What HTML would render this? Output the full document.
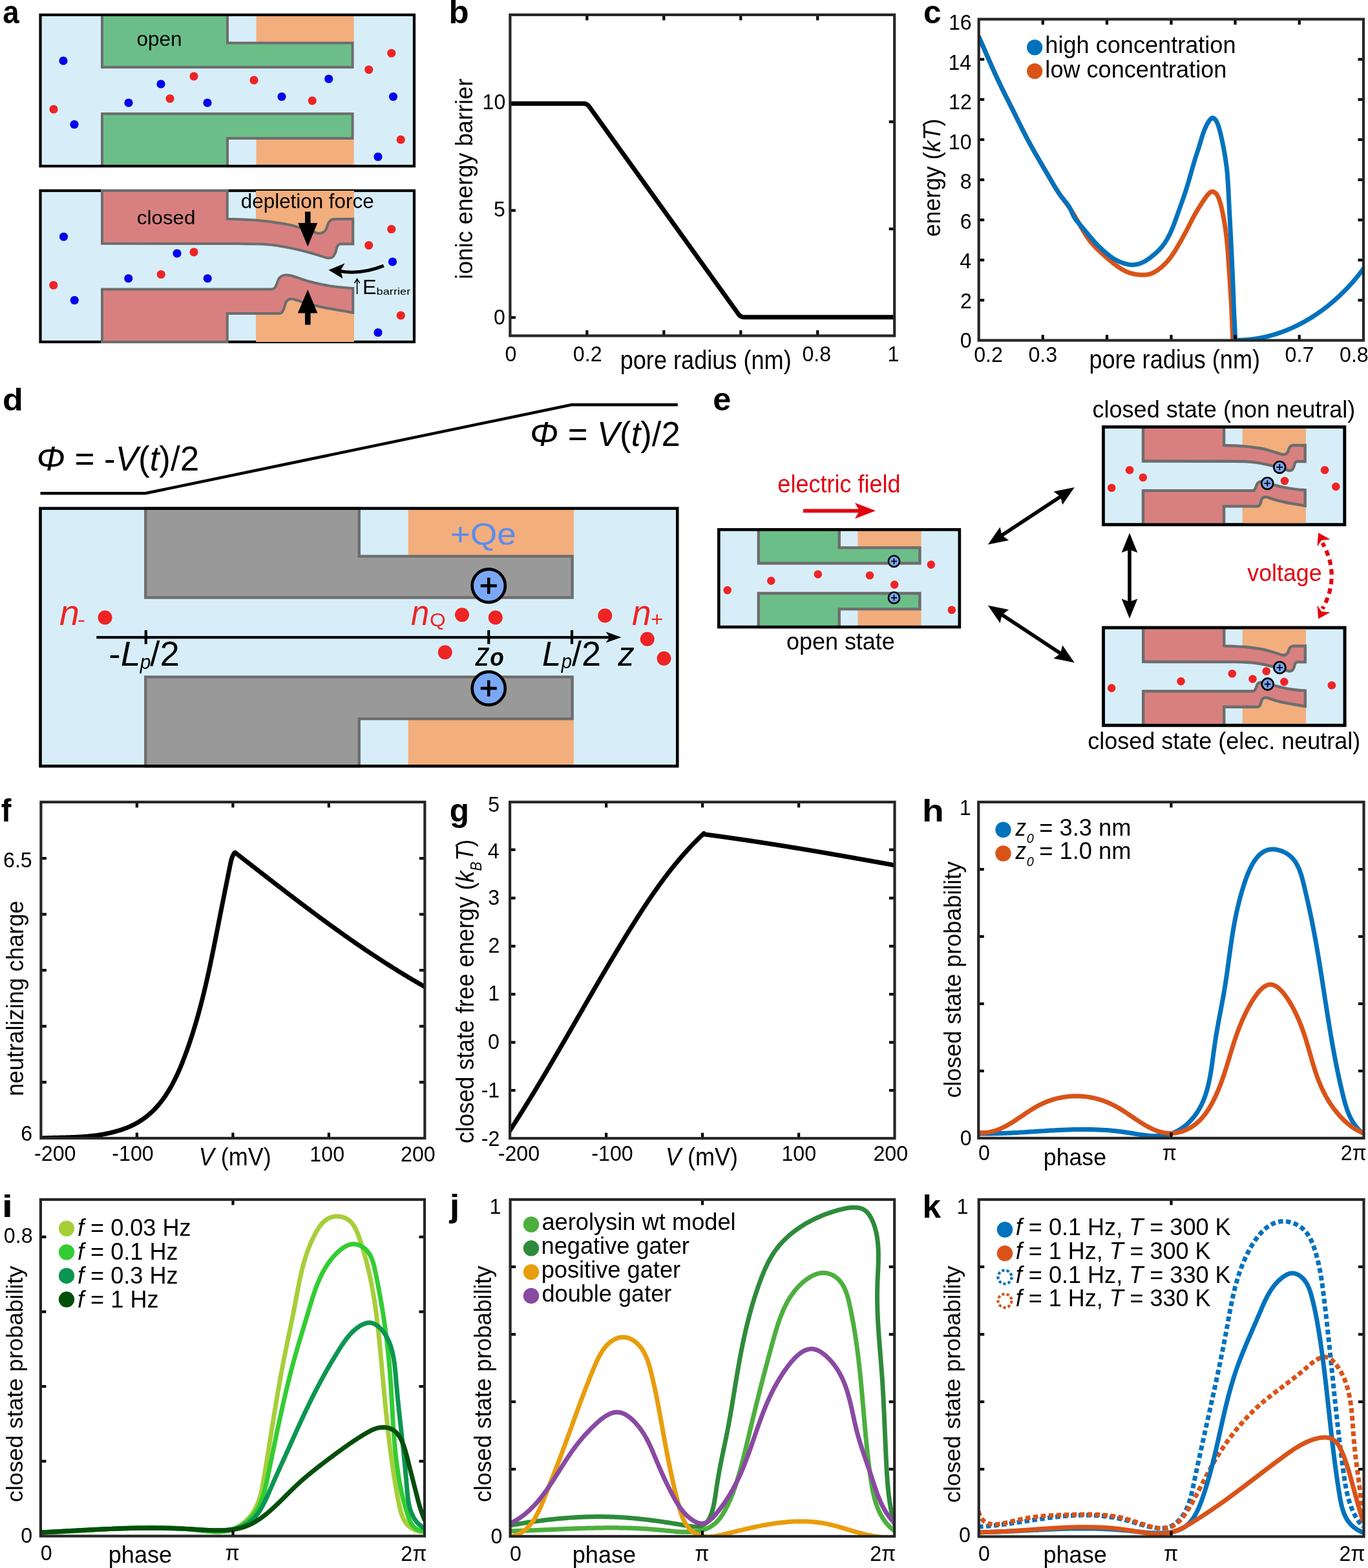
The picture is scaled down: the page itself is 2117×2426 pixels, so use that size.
<!DOCTYPE html>
<html><head><meta charset="utf-8"><title>Figure</title>
<style>html,body{margin:0;padding:0;background:#fff;}body{width:2117px;height:2426px;overflow:hidden;}svg{display:block;} text{font-kerning:none;}</style>
</head><body>
<svg xmlns="http://www.w3.org/2000/svg" width="2117" height="2426" viewBox="0 0 2117 2426" font-family="'Liberation Sans', Arial, Helvetica, sans-serif">
<rect width="2117" height="2426" fill="#fff"/>
<rect x="62.5" y="23" width="578.5" height="234" fill="#D7EEF8"/>
<rect x="396.5" y="23" width="151.1" height="43.5" fill="#F2AE7D"/>
<rect x="396.5" y="214" width="151.1" height="43" fill="#F2AE7D"/>
<path d="M158,23 L352,23 L352,66.5 L545.6,66.5 L545.6,104 L158,104 Z" fill="#6CBE89" stroke="#6D6D6D" stroke-width="4" stroke-linejoin="miter"/>
<path d="M158,257 L158,176 L545.6,176 L545.6,214 L352,214 L352,257 Z" fill="#6CBE89" stroke="#6D6D6D" stroke-width="4" stroke-linejoin="miter"/>
<rect x="62.5" y="23" width="578.5" height="234" fill="none" stroke="#000" stroke-width="4.2"/>
<circle cx="98" cy="94" r="6.6" fill="#0000EE" />
<circle cx="83" cy="169" r="6.6" fill="#EE2424" />
<circle cx="115" cy="192.5" r="6.6" fill="#0000EE" />
<circle cx="199" cy="159" r="6.6" fill="#0000EE" />
<circle cx="249" cy="130" r="6.6" fill="#0000EE" />
<circle cx="300" cy="118" r="6.6" fill="#EE2424" />
<circle cx="263" cy="152.5" r="6.6" fill="#EE2424" />
<circle cx="321" cy="159" r="6.6" fill="#0000EE" />
<circle cx="393" cy="124" r="6.6" fill="#EE2424" />
<circle cx="436" cy="149.5" r="6.6" fill="#0000EE" />
<circle cx="605.75" cy="82.25" r="6.6" fill="#EE2424" />
<circle cx="570.75" cy="107.75" r="6.6" fill="#EE2424" />
<circle cx="508.75" cy="122" r="6.6" fill="#0000EE" />
<circle cx="483.25" cy="155.75" r="6.6" fill="#EE2424" />
<circle cx="608.5" cy="149.5" r="6.6" fill="#0000EE" />
<circle cx="620.25" cy="216" r="6.6" fill="#EE2424" />
<circle cx="585" cy="242.5" r="6.6" fill="#0000EE" />
<rect x="62.5" y="295" width="578.5" height="234" fill="#D7EEF8" stroke="#000" stroke-width="4.2"/>
<rect x="396" y="295" width="152" height="77" fill="#F2AE7D"/>
<rect x="396" y="455" width="152" height="74" fill="#F2AE7D"/>
<path d="M158,295 L351.75,295 L351.75,338.75 C359.79,339.12 385.29,339.75 400,341 C414.71,342.25 429.17,344.33 440,346.25 C450.83,348.17 457.5,350.42 465,352.5 C472.5,354.58 480.33,357.33 485,358.75 C489.67,360.17 490.5,360.88 493,361 C495.5,361.12 498,360.67 500,359.5 C502,358.33 503.58,356.5 505,354 C506.42,351.5 507,346.9 508.5,344.5 C510,342.1 512.08,340.53 514,339.6 C515.92,338.67 519,339.02 520,338.9 L546.25,338.75 L546.25,377.5 L526.25,377.5 C525.59,378 523.51,378.25 522.3,380.5 C521.09,382.75 520.22,388.17 519,391 C517.78,393.83 516.92,396.12 515,397.5 C513.08,398.88 510,399.35 507.5,399.3 C505,399.25 505.42,398.78 500,397.2 C494.58,395.62 483.33,392.02 475,389.8 C466.67,387.58 458.33,385.6 450,383.9 C441.67,382.2 433.33,380.65 425,379.6 C416.67,378.55 409.17,378.02 400,377.6 C390.83,377.18 375,377.18 370,377.1 L158,376.8 Z" fill="#D88080" stroke="#6D6D6D" stroke-width="4" stroke-linejoin="miter"/>
<path d="M158,529 L158,447.5 L415,447.5 C416.5,447.33 421.83,447.75 424,446.5 C426.17,445.25 426.75,442.58 428,440 C429.25,437.42 430.17,433.17 431.5,431 C432.83,428.83 434.17,427.9 436,427 C437.83,426.1 439.75,425.6 442.5,425.6 C445.25,425.6 447.08,425.52 452.5,427 C457.92,428.48 467.08,432.25 475,434.5 C482.92,436.75 491.67,438.87 500,440.5 C508.33,442.13 517.29,443.4 525,444.3 C532.71,445.2 542.71,445.63 546.25,445.9 L546.25,483.75 C542.71,483.12 532.71,481.38 525,480 C517.29,478.62 508.33,477.25 500,475.5 C491.67,473.75 481.67,471.3 475,469.5 C468.33,467.7 463.75,465.85 460,464.7 C456.25,463.55 454.75,462.78 452.5,462.6 C450.25,462.42 448.17,462.78 446.5,463.6 C444.83,464.42 443.67,465.27 442.5,467.5 C441.33,469.73 440.58,474.32 439.5,477 C438.42,479.68 437.58,482.27 436,483.6 C434.42,484.93 432.67,484.77 430,485 C427.33,485.23 421.67,485 420,485 L351.75,485 L351.75,529 Z" fill="#D88080" stroke="#6D6D6D" stroke-width="4" stroke-linejoin="miter"/>
<circle cx="98.5" cy="366.25" r="6.6" fill="#0000EE" />
<circle cx="82.75" cy="441.25" r="6.6" fill="#EE2424" />
<circle cx="115.25" cy="464.5" r="6.6" fill="#0000EE" />
<circle cx="198.75" cy="430.75" r="6.6" fill="#0000EE" />
<circle cx="249.25" cy="424.5" r="6.6" fill="#EE2424" />
<circle cx="274" cy="392" r="6.6" fill="#0000EE" />
<circle cx="300" cy="390" r="6.6" fill="#EE2424" />
<circle cx="321.25" cy="430.75" r="6.6" fill="#0000EE" />
<circle cx="605.75" cy="354.5" r="6.6" fill="#EE2424" />
<circle cx="570.75" cy="379.5" r="6.6" fill="#EE2424" />
<circle cx="607.5" cy="405" r="6.6" fill="#0000EE" />
<circle cx="620.25" cy="488" r="6.6" fill="#EE2424" />
<circle cx="585" cy="514.5" r="6.6" fill="#0000EE" />
<rect x="472" y="327.5" width="8.6" height="20" fill="#000"/>
<polygon points="461.2,345 491.3,345 476.25,381.5" fill="#000"/>
<rect x="472" y="482" width="8.6" height="20.5" fill="#000"/>
<polygon points="460.8,484.5 491.3,484.5 476.25,448" fill="#000"/>
<path d="M593.8,411.2 Q556,426 524,419" fill="none" stroke="#000" stroke-width="5.2" />
<polygon points="508.5,417.8 533.5,407.5 527,418.6 530.5,431" fill="#000"/>
<line x1="552.6" y1="455" x2="552.6" y2="433" stroke="#000" stroke-width="1.6" />
<path d="M548.6,438 L552.6,431.5 L556.6,438" fill="none" stroke="#000" stroke-width="1.6" />
<path d="M62.5,763.3 L225,763.3 L884.3,626.3 L1048.8,626.3" fill="none" stroke="#000" stroke-width="4.5" stroke-linejoin="miter"/>
<rect x="62.5" y="786.6" width="985.76" height="398.74" fill="#D7EEF8"/>
<rect x="631.64" y="786.6" width="256.22" height="74.12" fill="#F2AE7D"/>
<rect x="631.64" y="1112.06" width="256.22" height="73.27" fill="#F2AE7D"/>
<path d="M225.23,786.6 L555.81,786.6 L555.81,860.72 L885.7,860.72 L885.7,924.62 L225.23,924.62 Z" fill="#999999" stroke="#6D6D6D" stroke-width="4.3" stroke-linejoin="miter"/>
<path d="M225.23,1185.34 L225.23,1047.31 L885.7,1047.31 L885.7,1112.06 L555.81,1112.06 L555.81,1185.34 Z" fill="#999999" stroke="#6D6D6D" stroke-width="4.3" stroke-linejoin="miter"/>
<rect x="62.5" y="786.6" width="985.76" height="398.74" fill="none" stroke="#000" stroke-width="4.6"/>
<line x1="149.25" y1="986.1" x2="946" y2="986.1" stroke="#000" stroke-width="4.2" />
<polygon points="961.5,986.1 937.5,977.6 943.5,986.1 937.5,994.6" fill="#000"/>
<line x1="225.75" y1="975" x2="225.75" y2="996.5" stroke="#000" stroke-width="4.2" />
<line x1="756.25" y1="975" x2="756.25" y2="996.5" stroke="#000" stroke-width="4.2" />
<line x1="885" y1="975" x2="885" y2="996.5" stroke="#000" stroke-width="4.2" />
<circle cx="756.25" cy="906.25" r="25.6" fill="#7AA8F5" stroke="#000" stroke-width="4.6" />
<line x1="743.75" y1="906.25" x2="768.75" y2="906.25" stroke="#000" stroke-width="4.6" />
<line x1="756.25" y1="893.75" x2="756.25" y2="918.75" stroke="#000" stroke-width="4.6" />
<circle cx="756.25" cy="1065" r="25.6" fill="#7AA8F5" stroke="#000" stroke-width="4.6" />
<line x1="743.75" y1="1065" x2="768.75" y2="1065" stroke="#000" stroke-width="4.6" />
<line x1="756.25" y1="1052.5" x2="756.25" y2="1077.5" stroke="#000" stroke-width="4.6" />
<circle cx="162.5" cy="955.5" r="11" fill="#EE2424" />
<circle cx="715" cy="951.25" r="11" fill="#EE2424" />
<circle cx="766.75" cy="955.5" r="11" fill="#EE2424" />
<circle cx="688.75" cy="1009.25" r="11" fill="#EE2424" />
<circle cx="936.25" cy="952.5" r="11" fill="#EE2424" />
<circle cx="1001.75" cy="988.75" r="11" fill="#EE2424" />
<circle cx="1027.5" cy="1018.75" r="11" fill="#EE2424" />
<rect x="1112.3" y="819.4" width="372.55" height="150.7" fill="#D7EEF8"/>
<rect x="1327.4" y="819.4" width="98.22" height="28.01" fill="#F2AE7D"/>
<rect x="1327.4" y="942.4" width="98.22" height="27.69" fill="#F2AE7D"/>
<path d="M1173.8,819.4 L1298.74,819.4 L1298.74,847.41 L1423.42,847.41 L1423.42,871.56 L1173.8,871.56 Z" fill="#6CBE89" stroke="#6D6D6D" stroke-width="4.4" stroke-linejoin="miter"/>
<path d="M1173.8,970.1 L1173.8,917.93 L1423.42,917.93 L1423.42,942.4 L1298.74,942.4 L1298.74,970.1 Z" fill="#6CBE89" stroke="#6D6D6D" stroke-width="4.4" stroke-linejoin="miter"/>
<rect x="1112.3" y="819.4" width="372.55" height="150.7" fill="none" stroke="#000" stroke-width="4.6"/>
<circle cx="1383.5" cy="868.4" r="8.6" fill="#7AA8F5" stroke="#000" stroke-width="2.6" />
<line x1="1378.9" y1="868.4" x2="1388.1" y2="868.4" stroke="#000" stroke-width="1.8" />
<line x1="1383.5" y1="863.8" x2="1383.5" y2="873" stroke="#000" stroke-width="1.8" />
<circle cx="1383.5" cy="924.9" r="8.6" fill="#7AA8F5" stroke="#000" stroke-width="2.6" />
<line x1="1378.9" y1="924.9" x2="1388.1" y2="924.9" stroke="#000" stroke-width="1.8" />
<line x1="1383.5" y1="920.3" x2="1383.5" y2="929.5" stroke="#000" stroke-width="1.8" />
<circle cx="1125.7" cy="913.1" r="6.3" fill="#EE2424" />
<circle cx="1193.3" cy="898.6" r="6.3" fill="#EE2424" />
<circle cx="1265.8" cy="888.5" r="6.3" fill="#EE2424" />
<circle cx="1346" cy="890.3" r="6.3" fill="#EE2424" />
<circle cx="1384.2" cy="904.6" r="6.3" fill="#EE2424" />
<circle cx="1440.8" cy="873.6" r="6.3" fill="#EE2424" />
<circle cx="1472.8" cy="943.7" r="6.3" fill="#EE2424" />
<line x1="1242.9" y1="790.3" x2="1332" y2="790.3" stroke="#E3000F" stroke-width="5.8" />
<polygon points="1355,790.3 1323,778 1330,790.3 1323,802.6" fill="#E3000F"/>
<rect x="1707.3" y="660.7" width="373.54" height="151.09" fill="#D7EEF8" stroke="#000" stroke-width="4.6"/>
<rect x="1922.64" y="660.7" width="98.15" height="49.72" fill="#F2AE7D"/>
<rect x="1922.64" y="764.01" width="98.15" height="47.78" fill="#F2AE7D"/>
<path d="M1768.96,660.7 L1894.07,660.7 L1894.07,688.95 C1899.26,689.19 1915.73,689.6 1925.22,690.4 C1934.72,691.21 1944.06,692.55 1951.05,693.79 C1958.05,695.03 1962.35,696.48 1967.19,697.83 C1972.04,699.17 1977.09,700.95 1980.11,701.86 C1983.12,702.78 1983.66,703.24 1985.27,703.32 C1986.89,703.4 1988.5,703.1 1989.79,702.35 C1991.09,701.59 1992.11,700.41 1993.02,698.8 C1993.94,697.18 1994.31,694.21 1995.28,692.66 C1996.25,691.11 1997.6,690.1 1998.83,689.5 C2000.07,688.9 2002.06,689.12 2002.71,689.05 L2019.66,688.95 L2019.66,713.97 L2006.74,713.97 C2006.32,714.29 2004.97,714.45 2004.19,715.91 C2003.41,717.36 2002.85,720.86 2002.06,722.69 C2001.28,724.52 2000.72,725.99 1999.48,726.88 C1998.24,727.78 1996.25,728.08 1994.64,728.05 C1993.02,728.01 1993.29,727.71 1989.79,726.69 C1986.3,725.67 1979.03,723.34 1973.65,721.91 C1968.27,720.48 1962.89,719.2 1957.51,718.1 C1952.13,717.01 1946.75,716 1941.37,715.33 C1935.99,714.65 1931.14,714.3 1925.22,714.03 C1919.3,713.77 1909.08,713.77 1905.85,713.71 L1768.96,713.52 Z" fill="#D88080" stroke="#6D6D6D" stroke-width="4.4" stroke-linejoin="miter"/>
<path d="M1768.96,811.79 L1768.96,759.17 L1934.91,759.17 C1935.88,759.06 1939.32,759.33 1940.72,758.52 C1942.12,757.72 1942.5,755.99 1943.3,754.33 C1944.11,752.66 1944.7,749.91 1945.56,748.52 C1946.42,747.12 1947.29,746.51 1948.47,745.93 C1949.65,745.35 1950.89,745.03 1952.67,745.03 C1954.44,745.03 1955.63,744.97 1959.12,745.93 C1962.62,746.89 1968.54,749.32 1973.65,750.78 C1978.76,752.23 1984.41,753.59 1989.79,754.65 C1995.17,755.7 2000.96,756.52 2005.94,757.1 C2010.91,757.68 2017.37,757.96 2019.66,758.14 L2019.66,782.58 C2017.37,782.17 2010.91,781.04 2005.94,780.15 C2000.96,779.27 1995.17,778.38 1989.79,777.25 C1984.41,776.12 1977.96,774.54 1973.65,773.37 C1969.35,772.21 1966.39,771.02 1963.97,770.28 C1961.54,769.53 1960.58,769.04 1959.12,768.92 C1957.67,768.8 1956.32,769.04 1955.25,769.57 C1954.17,770.09 1953.42,770.64 1952.67,772.08 C1951.91,773.53 1951.43,776.48 1950.73,778.22 C1950.03,779.95 1949.49,781.62 1948.47,782.48 C1947.45,783.34 1946.32,783.23 1944.59,783.38 C1942.87,783.53 1939.21,783.38 1938.14,783.38 L1894.07,783.38 L1894.07,811.79 Z" fill="#D88080" stroke="#6D6D6D" stroke-width="4.4" stroke-linejoin="miter"/>
<rect x="1707.3" y="660.7" width="373.54" height="151.09" fill="none" stroke="#000" stroke-width="4.6"/>
<circle cx="1980.2" cy="722.8" r="9" fill="#7AA8F5" stroke="#000" stroke-width="2.8" />
<line x1="1975.4" y1="722.8" x2="1985" y2="722.8" stroke="#000" stroke-width="1.9" />
<line x1="1980.2" y1="718" x2="1980.2" y2="727.6" stroke="#000" stroke-width="1.9" />
<circle cx="1961.25" cy="747.8" r="9" fill="#7AA8F5" stroke="#000" stroke-width="2.8" />
<line x1="1956.45" y1="747.8" x2="1966.05" y2="747.8" stroke="#000" stroke-width="1.9" />
<line x1="1961.25" y1="743" x2="1961.25" y2="752.6" stroke="#000" stroke-width="1.9" />
<circle cx="1748.1" cy="727.2" r="6.3" fill="#EE2424" />
<circle cx="1768.8" cy="738.8" r="6.3" fill="#EE2424" />
<circle cx="1720.2" cy="754.7" r="6.3" fill="#EE2424" />
<circle cx="1988" cy="744" r="6.3" fill="#EE2424" />
<circle cx="2050.1" cy="727.2" r="6.3" fill="#EE2424" />
<circle cx="2067.3" cy="752.9" r="6.3" fill="#EE2424" />
<rect x="1707.5" y="971.1" width="373.54" height="151.09" fill="#D7EEF8" stroke="#000" stroke-width="4.6"/>
<rect x="1922.84" y="971.1" width="98.15" height="49.72" fill="#F2AE7D"/>
<rect x="1922.84" y="1074.41" width="98.15" height="47.78" fill="#F2AE7D"/>
<path d="M1769.16,971.1 L1894.27,971.1 L1894.27,999.35 C1899.46,999.59 1915.93,1000 1925.42,1000.8 C1934.92,1001.61 1944.26,1002.95 1951.25,1004.19 C1958.25,1005.43 1962.55,1006.88 1967.39,1008.23 C1972.24,1009.57 1977.29,1011.35 1980.31,1012.26 C1983.32,1013.18 1983.86,1013.64 1985.47,1013.72 C1987.09,1013.8 1988.7,1013.5 1989.99,1012.75 C1991.29,1011.99 1992.31,1010.81 1993.22,1009.2 C1994.14,1007.58 1994.51,1004.61 1995.48,1003.06 C1996.45,1001.51 1997.8,1000.5 1999.03,999.9 C2000.27,999.3 2002.26,999.52 2002.91,999.45 L2019.86,999.35 L2019.86,1024.37 L2006.94,1024.37 C2006.52,1024.69 2005.17,1024.85 2004.39,1026.31 C2003.61,1027.76 2003.05,1031.26 2002.26,1033.09 C2001.48,1034.92 2000.92,1036.39 1999.68,1037.28 C1998.44,1038.18 1996.45,1038.48 1994.84,1038.45 C1993.22,1038.41 1993.49,1038.11 1989.99,1037.09 C1986.5,1036.07 1979.23,1033.74 1973.85,1032.31 C1968.47,1030.88 1963.09,1029.6 1957.71,1028.5 C1952.33,1027.41 1946.95,1026.4 1941.57,1025.73 C1936.19,1025.05 1931.34,1024.7 1925.42,1024.43 C1919.5,1024.17 1909.28,1024.17 1906.05,1024.11 L1769.16,1023.92 Z" fill="#D88080" stroke="#6D6D6D" stroke-width="4.4" stroke-linejoin="miter"/>
<path d="M1769.16,1122.19 L1769.16,1069.57 L1935.11,1069.57 C1936.08,1069.46 1939.52,1069.73 1940.92,1068.92 C1942.32,1068.12 1942.7,1066.39 1943.5,1064.73 C1944.31,1063.06 1944.9,1060.31 1945.76,1058.92 C1946.62,1057.52 1947.49,1056.91 1948.67,1056.33 C1949.85,1055.75 1951.09,1055.43 1952.87,1055.43 C1954.64,1055.43 1955.83,1055.37 1959.32,1056.33 C1962.82,1057.29 1968.74,1059.72 1973.85,1061.18 C1978.96,1062.63 1984.61,1063.99 1989.99,1065.05 C1995.37,1066.1 2001.16,1066.92 2006.14,1067.5 C2011.11,1068.08 2017.57,1068.36 2019.86,1068.54 L2019.86,1092.98 C2017.57,1092.57 2011.11,1091.44 2006.14,1090.55 C2001.16,1089.67 1995.37,1088.78 1989.99,1087.65 C1984.61,1086.52 1978.16,1084.94 1973.85,1083.77 C1969.55,1082.61 1966.59,1081.42 1964.17,1080.68 C1961.74,1079.93 1960.78,1079.44 1959.32,1079.32 C1957.87,1079.2 1956.52,1079.44 1955.45,1079.97 C1954.37,1080.49 1953.62,1081.04 1952.87,1082.48 C1952.11,1083.93 1951.63,1086.88 1950.93,1088.62 C1950.23,1090.35 1949.69,1092.02 1948.67,1092.88 C1947.65,1093.74 1946.52,1093.63 1944.79,1093.78 C1943.07,1093.93 1939.41,1093.78 1938.34,1093.78 L1894.27,1093.78 L1894.27,1122.19 Z" fill="#D88080" stroke="#6D6D6D" stroke-width="4.4" stroke-linejoin="miter"/>
<rect x="1707.5" y="971.1" width="373.54" height="151.09" fill="none" stroke="#000" stroke-width="4.6"/>
<circle cx="1980.4" cy="1032.9" r="9" fill="#7AA8F5" stroke="#000" stroke-width="2.8" />
<line x1="1975.6" y1="1032.9" x2="1985.2" y2="1032.9" stroke="#000" stroke-width="1.9" />
<line x1="1980.4" y1="1028.1" x2="1980.4" y2="1037.7" stroke="#000" stroke-width="1.9" />
<circle cx="1961.7" cy="1058.5" r="9" fill="#7AA8F5" stroke="#000" stroke-width="2.8" />
<line x1="1956.9" y1="1058.5" x2="1966.5" y2="1058.5" stroke="#000" stroke-width="1.9" />
<line x1="1961.7" y1="1053.7" x2="1961.7" y2="1063.3" stroke="#000" stroke-width="1.9" />
<circle cx="1720.2" cy="1064.6" r="6.3" fill="#EE2424" />
<circle cx="1827.5" cy="1054.1" r="6.3" fill="#EE2424" />
<circle cx="1906.8" cy="1042.2" r="6.3" fill="#EE2424" />
<circle cx="1938.5" cy="1050.5" r="6.3" fill="#EE2424" />
<circle cx="1959.7" cy="1038.5" r="6.3" fill="#EE2424" />
<circle cx="1987.3" cy="1054.9" r="6.3" fill="#EE2424" />
<circle cx="2060.9" cy="1060.2" r="6.3" fill="#EE2424" />
<line x1="1550.59" y1="828.16" x2="1641.11" y2="768.34" stroke="#000" stroke-width="5.6" />
<polygon points="1662.8,754 1644.14,781.08 1641.11,768.34 1630.57,760.56" fill="#000"/>
<polygon points="1528.9,842.5 1561.13,835.94 1550.59,828.16 1547.56,815.42" fill="#000"/>
<line x1="1550.59" y1="951.14" x2="1641.11" y2="1010.96" stroke="#000" stroke-width="5.6" />
<polygon points="1662.8,1025.3 1630.57,1018.74 1641.11,1010.96 1644.14,998.22" fill="#000"/>
<polygon points="1528.9,936.8 1547.56,963.88 1550.59,951.14 1561.13,943.36" fill="#000"/>
<line x1="1748" y1="850.4" x2="1748" y2="931" stroke="#000" stroke-width="5.6" />
<polygon points="1748,957 1735.7,926.5 1748,931 1760.3,926.5" fill="#000"/>
<polygon points="1748,824.4 1735.7,854.9 1748,850.4 1760.3,854.9" fill="#000"/>
<path d="M2046.5,840 Q2075,891 2046.5,942" fill="none" stroke="#E3000F" stroke-width="6.2" stroke-dasharray="8.5 6.5" stroke-dashoffset="2"/>
<polygon points="2040.1,824.3 2058.5,834.5 2045,836 2038.5,845.5" fill="#E3000F"/>
<polygon points="2040.1,957.5 2058.5,947.5 2045,946 2038.5,936.5" fill="#E3000F"/>
<clipPath id="cb"><rect x="789.4" y="22.9" width="594.8" height="496.6"/></clipPath>
<path d="M789.4,160.3 L903.5,160.3 Q908.5,160.3 911.5,164.5 L1143.5,487 Q1146.5,490.8 1151.5,490.8 L1384.2,490.8" fill="none" stroke="#000" stroke-width="7" stroke-linejoin="round" clip-path="url(#cb)"/>
<line x1="908.36" y1="22.9" x2="908.36" y2="31.4" stroke="#000" stroke-width="4.2" />
<line x1="908.36" y1="519.5" x2="908.36" y2="511" stroke="#000" stroke-width="4.2" />
<line x1="1027.32" y1="22.9" x2="1027.32" y2="31.4" stroke="#000" stroke-width="4.2" />
<line x1="1027.32" y1="519.5" x2="1027.32" y2="511" stroke="#000" stroke-width="4.2" />
<line x1="1146.28" y1="22.9" x2="1146.28" y2="31.4" stroke="#000" stroke-width="4.2" />
<line x1="1146.28" y1="519.5" x2="1146.28" y2="511" stroke="#000" stroke-width="4.2" />
<line x1="1265.24" y1="22.9" x2="1265.24" y2="31.4" stroke="#000" stroke-width="4.2" />
<line x1="1265.24" y1="519.5" x2="1265.24" y2="511" stroke="#000" stroke-width="4.2" />
<line x1="789.4" y1="160" x2="797.9" y2="160" stroke="#000" stroke-width="4.2" />
<line x1="789.4" y1="325.6" x2="797.9" y2="325.6" stroke="#000" stroke-width="4.2" />
<line x1="789.4" y1="491.25" x2="797.9" y2="491.25" stroke="#000" stroke-width="4.2" />
<line x1="1384.2" y1="188.4" x2="1375.7" y2="188.4" stroke="#000" stroke-width="4.2" />
<line x1="1384.2" y1="354.2" x2="1375.7" y2="354.2" stroke="#000" stroke-width="4.2" />
<rect x="789.4" y="22.9" width="594.8" height="496.6" fill="none" stroke="#262626" stroke-width="4.2"/>
<clipPath id="cc"><rect x="1514.7" y="29.7" width="595.3" height="496.9"/></clipPath>
<path d="M1514.70,57.00 L1515.59,58.99 L1516.48,60.99 L1517.37,62.99 L1518.26,64.98 L1519.14,66.98 L1520.02,68.98 L1520.90,70.98 L1521.78,72.98 L1522.66,74.98 L1523.54,76.99 L1524.42,78.99 L1525.29,80.99 L1526.17,82.99 L1527.05,85.00 L1527.92,87.00 L1528.80,89.00 L1529.68,91.00 L1530.56,93.00 L1531.43,95.01 L1532.32,97.01 L1533.20,99.01 L1534.08,101.01 L1534.97,103.00 L1535.86,105.00 L1536.75,107.00 L1537.64,108.99 L1538.54,110.99 L1539.44,112.98 L1540.34,114.97 L1541.25,116.96 L1542.16,118.94 L1543.07,120.93 L1543.99,122.91 L1544.92,124.89 L1545.84,126.87 L1546.78,128.85 L1547.72,130.82 L1548.66,132.79 L1549.61,134.76 L1550.56,136.73 L1551.52,138.69 L1552.49,140.65 L1553.45,142.61 L1554.42,144.57 L1555.40,146.52 L1556.38,148.48 L1557.36,150.43 L1558.34,152.39 L1559.32,154.34 L1560.30,156.29 L1561.29,158.24 L1562.27,160.19 L1563.26,162.14 L1564.24,164.10 L1565.22,166.05 L1566.20,168.00 L1567.18,169.96 L1568.16,171.91 L1569.13,173.87 L1570.10,175.83 L1571.07,177.79 L1572.04,179.75 L1573.00,181.71 L1573.97,183.67 L1574.93,185.63 L1575.90,187.60 L1576.86,189.56 L1577.83,191.52 L1578.80,193.48 L1579.77,195.43 L1580.75,197.39 L1581.72,199.34 L1582.71,201.30 L1583.69,203.25 L1584.69,205.19 L1585.68,207.14 L1586.69,209.08 L1587.70,211.01 L1588.72,212.95 L1589.74,214.88 L1590.77,216.81 L1591.81,218.73 L1592.85,220.65 L1593.90,222.57 L1594.96,224.48 L1596.02,226.39 L1597.08,228.30 L1598.15,230.21 L1599.22,232.11 L1600.30,234.02 L1601.38,235.92 L1602.46,237.82 L1603.55,239.71 L1604.64,241.61 L1605.73,243.50 L1606.82,245.40 L1607.91,247.29 L1609.01,249.18 L1610.11,251.07 L1611.20,252.96 L1612.30,254.85 L1613.40,256.74 L1614.50,258.62 L1615.61,260.51 L1616.71,262.40 L1617.82,264.28 L1618.92,266.17 L1620.03,268.05 L1621.14,269.93 L1622.25,271.82 L1623.36,273.70 L1624.48,275.58 L1625.59,277.46 L1626.71,279.34 L1627.82,281.22 L1628.94,283.10 L1630.07,284.98 L1631.19,286.85 L1632.33,288.72 L1633.48,290.58 L1634.63,292.44 L1635.80,294.29 L1636.97,296.13 L1638.17,297.96 L1639.38,299.78 L1640.60,301.59 L1641.85,303.38 L1643.11,305.17 L1644.39,306.94 L1645.69,308.70 L1646.99,310.46 L1648.29,312.21 L1649.60,313.97 L1650.90,315.72 L1652.19,317.49 L1653.47,319.26 L1654.73,321.04 L1655.97,322.84 L1657.19,324.65 L1658.39,326.47 L1659.56,328.31 L1660.72,330.16 L1661.86,332.02 L1662.99,333.89 L1664.11,335.77 L1665.21,337.65 L1666.31,339.54 L1667.40,341.44 L1668.49,343.34 L1669.57,345.24 L1670.65,347.15 L1671.73,349.06 L1672.81,350.96 L1673.90,352.87 L1674.99,354.77 L1676.09,356.67 L1677.20,358.56 L1678.33,360.44 L1679.48,362.30 L1680.65,364.15 L1681.84,365.98 L1683.07,367.79 L1684.32,369.58 L1685.61,371.34 L1686.93,373.07 L1688.29,374.77 L1689.69,376.44 L1691.13,378.09 L1692.60,379.71 L1694.09,381.30 L1695.61,382.88 L1697.15,384.43 L1698.72,385.97 L1700.30,387.49 L1701.89,389.00 L1703.50,390.49 L1705.11,391.97 L1706.73,393.45 L1708.36,394.91 L1709.98,396.37 L1711.62,397.82 L1713.26,399.26 L1714.91,400.69 L1716.57,402.11 L1718.24,403.51 L1719.93,404.90 L1721.63,406.27 L1723.35,407.63 L1725.08,408.96 L1726.84,410.28 L1728.62,411.58 L1730.42,412.85 L1732.24,414.09 L1734.09,415.29 L1735.97,416.44 L1737.87,417.54 L1739.80,418.59 L1741.75,419.56 L1743.73,420.47 L1745.75,421.30 L1747.79,422.04 L1749.87,422.70 L1751.97,423.27 L1754.10,423.76 L1756.25,424.18 L1758.42,424.53 L1760.60,424.81 L1762.80,425.02 L1765.01,425.18 L1767.23,425.27 L1769.45,425.28 L1771.66,425.21 L1773.85,425.03 L1776.01,424.73 L1778.14,424.30 L1780.23,423.73 L1782.28,423.01 L1784.28,422.15 L1786.23,421.17 L1788.14,420.08 L1790.00,418.89 L1791.83,417.63 L1793.61,416.31 L1795.36,414.94 L1797.06,413.53 L1798.73,412.09 L1800.36,410.61 L1801.95,409.10 L1803.50,407.56 L1805.01,405.99 L1806.48,404.38 L1807.91,402.74 L1809.29,401.06 L1810.64,399.35 L1811.95,397.61 L1813.23,395.84 L1814.48,394.04 L1815.69,392.23 L1816.89,390.39 L1818.06,388.54 L1819.21,386.67 L1820.34,384.79 L1821.46,382.91 L1822.57,381.02 L1823.68,379.12 L1824.78,377.23 L1825.87,375.33 L1826.95,373.43 L1828.03,371.52 L1829.10,369.62 L1830.16,367.71 L1831.21,365.79 L1832.26,363.88 L1833.30,361.96 L1834.33,360.03 L1835.35,358.11 L1836.37,356.17 L1837.37,354.24 L1838.37,352.30 L1839.36,350.36 L1840.36,348.42 L1841.35,346.47 L1842.34,344.53 L1843.34,342.59 L1844.35,340.65 L1845.36,338.71 L1846.39,336.78 L1847.43,334.85 L1848.48,332.93 L1849.55,331.01 L1850.64,329.10 L1851.75,327.20 L1852.88,325.31 L1854.02,323.42 L1855.18,321.55 L1856.35,319.69 L1857.52,317.84 L1858.71,316.00 L1859.90,314.17 L1861.09,312.36 L1862.29,310.56 L1863.48,308.78 L1864.68,307.01 L1865.90,305.26 L1867.19,303.52 L1868.58,301.79 L1870.11,300.08 L1871.79,298.45 L1873.64,297.16 L1875.63,296.51 L1877.75,296.75 L1879.81,297.72 L1881.59,299.14 L1883.00,300.84 L1884.13,302.71 L1885.08,304.69 L1885.94,306.70 L1886.71,308.75 L1887.42,310.82 L1888.07,312.90 L1888.68,315.00 L1889.24,317.11 L1889.78,319.23 L1890.29,321.36 L1890.77,323.49 L1891.25,325.63 L1891.71,327.76 L1892.16,329.90 L1892.60,332.04 L1893.02,334.19 L1893.44,336.33 L1893.84,338.48 L1894.22,340.63 L1894.60,342.78 L1894.96,344.94 L1895.31,347.10 L1895.65,349.26 L1895.97,351.42 L1896.29,353.58 L1896.59,355.75 L1896.88,357.92 L1897.16,360.08 L1897.43,362.25 L1897.69,364.42 L1897.94,366.60 L1898.18,368.77 L1898.41,370.94 L1898.63,373.12 L1898.84,375.29 L1899.05,377.47 L1899.24,379.64 L1899.43,381.82 L1899.62,384.00 L1899.80,386.18 L1899.97,388.36 L1900.14,390.54 L1900.30,392.72 L1900.46,394.90 L1900.62,397.08 L1900.77,399.26 L1900.93,401.44 L1901.08,403.62 L1901.23,405.80 L1901.38,407.98 L1901.52,410.16 L1901.67,412.34 L1901.82,414.52 L1901.96,416.70 L1902.11,418.88 L1902.25,421.06 L1902.40,423.25 L1902.54,425.43 L1902.68,427.61 L1902.83,429.79 L1902.97,431.97 L1903.11,434.15 L1903.25,436.33 L1903.39,438.51 L1903.53,440.69 L1903.67,442.87 L1903.80,445.06 L1903.94,447.24 L1904.08,449.42 L1904.21,451.60 L1904.35,453.78 L1904.48,455.96 L1904.61,458.14 L1904.74,460.33 L1904.87,462.51 L1904.99,464.69 L1905.12,466.87 L1905.24,469.05 L1905.36,471.24 L1905.47,473.42 L1905.58,475.60 L1905.69,477.78 L1905.80,479.97 L1905.90,482.15 L1906.00,484.33 L1906.09,486.52 L1906.19,488.70 L1906.28,490.89 L1906.37,493.07 L1906.46,495.25 L1906.55,497.44 L1906.64,499.62 L1906.72,501.80 L1906.81,503.99 L1906.91,506.17 L1907.00,508.36 L1907.10,510.54 L1907.19,512.72 L1907.30,514.91 L1907.40,517.09 L1907.51,519.27 L1907.62,521.45 L1907.74,523.64 L1907.87,525.82 L1908.00,528.00" fill="none" stroke="#D95319" stroke-width="7" stroke-linejoin="round" stroke-linecap="round" clip-path="url(#cc)"/>
<path d="M1514.70,57.00 L1515.78,59.41 L1516.86,61.83 L1517.93,64.25 L1519.00,66.67 L1520.07,69.09 L1521.14,71.51 L1522.20,73.94 L1523.27,76.36 L1524.33,78.79 L1525.39,81.21 L1526.45,83.64 L1527.51,86.06 L1528.58,88.49 L1529.64,90.91 L1530.70,93.34 L1531.77,95.76 L1532.84,98.19 L1533.91,100.61 L1534.98,103.03 L1536.06,105.45 L1537.14,107.86 L1538.22,110.28 L1539.31,112.69 L1540.40,115.10 L1541.50,117.51 L1542.61,119.91 L1543.72,122.32 L1544.84,124.72 L1545.96,127.11 L1547.09,129.51 L1548.23,131.90 L1549.38,134.28 L1550.53,136.66 L1551.69,139.04 L1552.86,141.41 L1554.04,143.79 L1555.21,146.16 L1556.40,148.52 L1557.58,150.89 L1558.77,153.26 L1559.96,155.62 L1561.16,157.98 L1562.35,160.35 L1563.54,162.71 L1564.73,165.08 L1565.92,167.44 L1567.11,169.81 L1568.29,172.18 L1569.47,174.55 L1570.64,176.92 L1571.81,179.29 L1572.98,181.67 L1574.15,184.04 L1575.32,186.42 L1576.49,188.79 L1577.66,191.17 L1578.84,193.54 L1580.02,195.91 L1581.20,198.28 L1582.39,200.64 L1583.58,203.01 L1584.78,205.36 L1585.99,207.72 L1587.21,210.07 L1588.43,212.42 L1589.67,214.76 L1590.92,217.09 L1592.17,219.42 L1593.43,221.75 L1594.71,224.07 L1595.99,226.39 L1597.28,228.70 L1598.57,231.01 L1599.87,233.31 L1601.18,235.62 L1602.49,237.91 L1603.81,240.21 L1605.14,242.50 L1606.46,244.79 L1607.80,247.08 L1609.13,249.36 L1610.47,251.65 L1611.81,253.93 L1613.16,256.21 L1614.50,258.49 L1615.85,260.77 L1617.19,263.05 L1618.53,265.33 L1619.88,267.61 L1621.22,269.89 L1622.55,272.18 L1623.89,274.46 L1625.22,276.75 L1626.54,279.05 L1627.86,281.35 L1629.18,283.64 L1630.50,285.94 L1631.84,288.23 L1633.20,290.50 L1634.58,292.76 L1635.99,295.00 L1637.43,297.22 L1638.93,299.41 L1640.47,301.56 L1642.06,303.68 L1643.72,305.76 L1645.41,307.82 L1647.11,309.87 L1648.80,311.93 L1650.45,314.01 L1652.03,316.12 L1653.53,318.29 L1654.91,320.53 L1656.16,322.85 L1657.29,325.24 L1658.36,327.67 L1659.42,330.11 L1660.52,332.52 L1661.71,334.88 L1663.04,337.15 L1664.51,339.34 L1666.08,341.47 L1667.74,343.54 L1669.46,345.57 L1671.21,347.58 L1672.96,349.59 L1674.69,351.61 L1676.41,353.64 L1678.10,355.67 L1679.78,357.71 L1681.46,359.76 L1683.14,361.80 L1684.82,363.84 L1686.52,365.86 L1688.23,367.88 L1689.96,369.89 L1691.71,371.87 L1693.48,373.84 L1695.27,375.79 L1697.09,377.72 L1698.93,379.62 L1700.80,381.50 L1702.69,383.34 L1704.62,385.16 L1706.56,386.95 L1708.54,388.72 L1710.54,390.45 L1712.57,392.16 L1714.63,393.83 L1716.72,395.48 L1718.84,397.07 L1721.01,398.61 L1723.21,400.07 L1725.47,401.44 L1727.79,402.72 L1730.16,403.89 L1732.58,404.95 L1735.04,405.93 L1737.55,406.81 L1740.09,407.61 L1742.66,408.32 L1745.26,408.93 L1747.87,409.38 L1750.50,409.65 L1753.14,409.69 L1755.78,409.50 L1758.41,409.10 L1761.01,408.52 L1763.57,407.77 L1766.09,406.89 L1768.54,405.86 L1770.92,404.70 L1773.23,403.41 L1775.46,401.99 L1777.61,400.46 L1779.72,398.85 L1781.80,397.20 L1783.86,395.53 L1785.91,393.83 L1787.93,392.11 L1789.91,390.35 L1791.84,388.54 L1793.72,386.68 L1795.53,384.76 L1797.27,382.77 L1798.94,380.71 L1800.54,378.60 L1802.07,376.44 L1803.55,374.22 L1804.96,371.97 L1806.31,369.68 L1807.60,367.35 L1808.84,365.00 L1810.04,362.63 L1811.18,360.23 L1812.28,357.82 L1813.34,355.40 L1814.36,352.95 L1815.36,350.50 L1816.32,348.04 L1817.26,345.56 L1818.18,343.08 L1819.09,340.59 L1819.98,338.10 L1820.87,335.60 L1821.75,333.10 L1822.63,330.60 L1823.51,328.10 L1824.40,325.60 L1825.29,323.11 L1826.17,320.61 L1827.06,318.12 L1827.95,315.62 L1828.83,313.13 L1829.71,310.63 L1830.58,308.13 L1831.44,305.63 L1832.30,303.12 L1833.14,300.62 L1833.98,298.11 L1834.80,295.59 L1835.61,293.07 L1836.41,290.55 L1837.19,288.02 L1837.96,285.49 L1838.71,282.96 L1839.46,280.42 L1840.20,277.88 L1840.93,275.34 L1841.65,272.79 L1842.37,270.24 L1843.10,267.70 L1843.82,265.15 L1844.54,262.60 L1845.27,260.06 L1846.00,257.51 L1846.74,254.97 L1847.48,252.43 L1848.24,249.89 L1849.01,247.36 L1849.80,244.82 L1850.60,242.30 L1851.41,239.77 L1852.23,237.25 L1853.05,234.74 L1853.88,232.22 L1854.69,229.70 L1855.50,227.18 L1856.30,224.66 L1857.08,222.13 L1857.84,219.61 L1858.57,217.07 L1859.31,214.54 L1860.06,212.01 L1860.85,209.47 L1861.69,206.94 L1862.59,204.41 L1863.55,201.91 L1864.56,199.44 L1865.62,197.03 L1866.71,194.69 L1867.84,192.42 L1869.08,190.18 L1870.51,187.90 L1872.20,185.53 L1874.18,183.36 L1876.37,182.31 L1878.64,183.08 L1880.74,185.09 L1882.40,187.43 L1883.63,189.78 L1884.58,192.17 L1885.41,194.62 L1886.20,197.14 L1886.94,199.70 L1887.63,202.28 L1888.30,204.86 L1888.93,207.44 L1889.55,210.01 L1890.14,212.58 L1890.72,215.16 L1891.28,217.74 L1891.83,220.33 L1892.37,222.92 L1892.89,225.52 L1893.40,228.12 L1893.88,230.72 L1894.35,233.33 L1894.81,235.94 L1895.24,238.55 L1895.67,241.16 L1896.09,243.77 L1896.49,246.39 L1896.89,249.01 L1897.27,251.63 L1897.64,254.25 L1897.98,256.87 L1898.31,259.50 L1898.61,262.13 L1898.89,264.76 L1899.14,267.39 L1899.38,270.03 L1899.59,272.67 L1899.78,275.31 L1899.96,277.95 L1900.14,280.59 L1900.30,283.24 L1900.45,285.88 L1900.60,288.52 L1900.75,291.17 L1900.89,293.81 L1901.03,296.45 L1901.16,299.10 L1901.30,301.74 L1901.43,304.39 L1901.56,307.03 L1901.69,309.67 L1901.82,312.32 L1901.95,314.96 L1902.08,317.60 L1902.21,320.25 L1902.35,322.89 L1902.48,325.53 L1902.62,328.18 L1902.76,330.82 L1902.89,333.46 L1903.03,336.11 L1903.17,338.75 L1903.31,341.39 L1903.46,344.04 L1903.60,346.68 L1903.74,349.32 L1903.88,351.97 L1904.02,354.61 L1904.16,357.25 L1904.29,359.90 L1904.43,362.54 L1904.57,365.18 L1904.70,367.83 L1904.84,370.47 L1904.97,373.12 L1905.10,375.76 L1905.23,378.40 L1905.37,381.05 L1905.49,383.69 L1905.62,386.34 L1905.75,388.98 L1905.88,391.62 L1906.00,394.27 L1906.13,396.91 L1906.25,399.56 L1906.37,402.20 L1906.49,404.84 L1906.61,407.49 L1906.73,410.13 L1906.85,412.78 L1906.97,415.42 L1907.08,418.07 L1907.20,420.71 L1907.31,423.35 L1907.43,426.00 L1907.54,428.64 L1907.65,431.29 L1907.76,433.93 L1907.87,436.58 L1907.98,439.22 L1908.08,441.87 L1908.19,444.51 L1908.29,447.16 L1908.39,449.80 L1908.49,452.45 L1908.59,455.09 L1908.69,457.74 L1908.79,460.38 L1908.89,463.03 L1908.99,465.67 L1909.09,468.32 L1909.19,470.96 L1909.30,473.61 L1909.40,476.25 L1909.51,478.90 L1909.62,481.54 L1909.74,484.19 L1909.85,486.83 L1909.98,489.48 L1910.10,492.12 L1910.23,494.77 L1910.36,497.41 L1910.49,500.05 L1910.63,502.70 L1910.76,505.34 L1910.88,507.98 L1911.01,510.63 L1911.13,513.27 L1911.24,515.92 L1911.34,518.56 L1911.44,521.21 L1911.53,523.85 L1911.60,526.50 L1911.50,526.36 L1912.11,526.37 L1912.72,526.37 L1913.33,526.37 L1913.94,526.37 L1914.55,526.36 L1915.16,526.36 L1915.77,526.35 L1916.38,526.34 L1916.99,526.33 L1917.60,526.32 L1918.21,526.30 L1918.81,526.29 L1919.42,526.27 L1920.03,526.25 L1920.64,526.23 L1921.24,526.20 L1921.85,526.18 L1922.46,526.15 L1923.06,526.12 L1923.67,526.09 L1924.27,526.06 L1924.88,526.02 L1925.48,525.98 L1926.08,525.95 L1926.69,525.91 L1927.29,525.86 L1927.89,525.82 L1928.50,525.77 L1929.10,525.73 L1929.70,525.68 L1930.30,525.62 L1930.90,525.57 L1931.50,525.52 L1932.10,525.46 L1932.70,525.40 L1933.30,525.34 L1933.90,525.28 L1934.50,525.21 L1935.10,525.15 L1935.70,525.08 L1936.30,525.01 L1936.89,524.94 L1937.49,524.87 L1938.09,524.79 L1938.68,524.72 L1939.28,524.64 L1939.87,524.56 L1940.47,524.48 L1941.06,524.40 L1941.66,524.31 L1942.25,524.22 L1942.84,524.13 L1943.44,524.04 L1944.03,523.95 L1944.62,523.86 L1945.21,523.76 L1945.81,523.67 L1946.40,523.57 L1946.99,523.47 L1947.58,523.36 L1948.17,523.26 L1948.76,523.16 L1949.34,523.05 L1949.93,522.94 L1950.52,522.83 L1951.11,522.72 L1951.70,522.60 L1952.28,522.49 L1952.87,522.37 L1953.45,522.25 L1954.04,522.13 L1954.62,522.01 L1955.21,521.88 L1955.79,521.76 L1956.38,521.63 L1956.96,521.50 L1957.54,521.37 L1958.12,521.24 L1958.71,521.10 L1959.29,520.97 L1959.87,520.83 L1960.45,520.69 L1961.03,520.55 L1961.61,520.41 L1962.19,520.26 L1962.77,520.12 L1963.34,519.97 L1963.92,519.82 L1964.50,519.67 L1965.08,519.52 L1965.65,519.37 L1966.23,519.21 L1966.80,519.06 L1967.38,518.90 L1967.95,518.74 L1968.53,518.58 L1969.10,518.41 L1969.67,518.25 L1970.24,518.08 L1970.82,517.92 L1971.39,517.75 L1971.96,517.58 L1972.53,517.40 L1973.10,517.23 L1973.67,517.05 L1974.24,516.88 L1974.81,516.70 L1975.37,516.52 L1975.94,516.34 L1976.51,516.15 L1977.07,515.97 L1977.64,515.78 L1978.21,515.59 L1978.77,515.41 L1979.33,515.21 L1979.90,515.02 L1980.46,514.83 L1981.02,514.63 L1981.59,514.44 L1982.15,514.24 L1982.71,514.04 L1983.27,513.84 L1983.83,513.63 L1984.39,513.43 L1984.95,513.22 L1985.51,513.02 L1986.07,512.81 L1986.62,512.60 L1987.18,512.39 L1987.74,512.17 L1988.29,511.96 L1988.85,511.74 L1989.40,511.53 L1989.96,511.31 L1990.51,511.09 L1991.06,510.86 L1991.62,510.64 L1992.17,510.42 L1992.72,510.19 L1993.27,509.96 L1993.82,509.73 L1994.37,509.50 L1994.92,509.27 L1995.47,509.04 L1996.02,508.80 L1996.57,508.57 L1997.11,508.33 L1997.66,508.09 L1998.20,507.85 L1998.75,507.61 L1999.29,507.37 L1999.84,507.12 L2000.38,506.88 L2000.92,506.63 L2001.47,506.38 L2002.01,506.13 L2002.55,505.88 L2003.09,505.63 L2003.63,505.37 L2004.17,505.12 L2004.71,504.86 L2005.25,504.60 L2005.78,504.34 L2006.32,504.08 L2006.86,503.82 L2007.39,503.55 L2007.93,503.29 L2008.46,503.02 L2009.00,502.76 L2009.53,502.49 L2010.06,502.22 L2010.60,501.95 L2011.13,501.67 L2011.66,501.40 L2012.19,501.12 L2012.72,500.85 L2013.25,500.57 L2013.78,500.29 L2014.30,500.01 L2014.83,499.73 L2015.36,499.44 L2015.88,499.16 L2016.41,498.87 L2016.93,498.59 L2017.46,498.30 L2017.98,498.01 L2018.50,497.72 L2019.02,497.42 L2019.55,497.13 L2020.07,496.84 L2020.59,496.54 L2021.11,496.24 L2021.62,495.94 L2022.14,495.64 L2022.66,495.34 L2023.18,495.04 L2023.69,494.74 L2024.21,494.43 L2024.72,494.13 L2025.24,493.82 L2025.75,493.51 L2026.26,493.20 L2026.78,492.89 L2027.29,492.58 L2027.80,492.27 L2028.31,491.95 L2028.82,491.64 L2029.33,491.32 L2029.83,491.00 L2030.34,490.68 L2030.85,490.36 L2031.35,490.04 L2031.86,489.72 L2032.36,489.40 L2032.87,489.07 L2033.37,488.74 L2033.87,488.42 L2034.38,488.09 L2034.88,487.76 L2035.38,487.43 L2035.88,487.10 L2036.38,486.76 L2036.88,486.43 L2037.37,486.09 L2037.87,485.76 L2038.37,485.42 L2038.86,485.08 L2039.36,484.74 L2039.85,484.40 L2040.34,484.06 L2040.84,483.71 L2041.33,483.37 L2041.82,483.02 L2042.31,482.68 L2042.80,482.33 L2043.29,481.98 L2043.78,481.63 L2044.27,481.28 L2044.75,480.93 L2045.24,480.57 L2045.72,480.22 L2046.21,479.87 L2046.69,479.51 L2047.18,479.15 L2047.66,478.79 L2048.14,478.43 L2048.62,478.07 L2049.10,477.71 L2049.58,477.35 L2050.06,476.98 L2050.54,476.62 L2051.01,476.25 L2051.49,475.89 L2051.97,475.52 L2052.44,475.15 L2052.91,474.78 L2053.39,474.41 L2053.86,474.04 L2054.33,473.66 L2054.80,473.29 L2055.27,472.91 L2055.74,472.54 L2056.21,472.16 L2056.68,471.78 L2057.15,471.40 L2057.61,471.02 L2058.08,470.64 L2058.54,470.26 L2059.01,469.88 L2059.47,469.49 L2059.93,469.11 L2060.39,468.72 L2060.86,468.33 L2061.32,467.95 L2061.77,467.56 L2062.23,467.17 L2062.69,466.78 L2063.15,466.38 L2063.60,465.99 L2064.06,465.60 L2064.51,465.20 L2064.97,464.81 L2065.42,464.41 L2065.87,464.01 L2066.32,463.61 L2066.77,463.22 L2067.22,462.82 L2067.67,462.41 L2068.12,462.01 L2068.57,461.61 L2069.01,461.21 L2069.46,460.80 L2069.90,460.39 L2070.35,459.99 L2070.79,459.58 L2071.23,459.17 L2071.67,458.76 L2072.11,458.35 L2072.55,457.94 L2072.99,457.53 L2073.43,457.12 L2073.87,456.70 L2074.30,456.29 L2074.74,455.87 L2075.17,455.46 L2075.61,455.04 L2076.04,454.62 L2076.47,454.20 L2076.90,453.78 L2077.33,453.36 L2077.76,452.94 L2078.19,452.52 L2078.62,452.10 L2079.04,451.67 L2079.47,451.25 L2079.90,450.82 L2080.32,450.40 L2080.74,449.97 L2081.17,449.54 L2081.59,449.11 L2082.01,448.68 L2082.43,448.25 L2082.85,447.82 L2083.26,447.39 L2083.68,446.96 L2084.10,446.52 L2084.51,446.09 L2084.93,445.65 L2085.34,445.22 L2085.75,444.78 L2086.17,444.34 L2086.58,443.90 L2086.99,443.46 L2087.40,443.02 L2087.80,442.58 L2088.21,442.14 L2088.62,441.70 L2089.02,441.26 L2089.43,440.81 L2089.83,440.37 L2090.23,439.93 L2090.64,439.48 L2091.04,439.03 L2091.44,438.59 L2091.83,438.14 L2092.23,437.69 L2092.63,437.24 L2093.03,436.79 L2093.42,436.34 L2093.82,435.89 L2094.21,435.44 L2094.60,434.98 L2094.99,434.53 L2095.38,434.08 L2095.77,433.62 L2096.16,433.16 L2096.55,432.71 L2096.94,432.25 L2097.32,431.79 L2097.71,431.34 L2098.09,430.88 L2098.48,430.42 L2098.86,429.96 L2099.24,429.50 L2099.62,429.03 L2100.00,428.57 L2100.38,428.11 L2100.75,427.65 L2101.13,427.18 L2101.51,426.72 L2101.88,426.25 L2102.25,425.78 L2102.63,425.32 L2103.00,424.85 L2103.37,424.38 L2103.74,423.91 L2104.11,423.44 L2104.47,422.97 L2104.84,422.50 L2105.21,422.03 L2105.57,421.56 L2105.94,421.09 L2106.30,420.62 L2106.66,420.14 L2107.02,419.67 L2107.38,419.19 L2107.74,418.72 L2108.10,418.24 L2108.45,417.77 L2108.81,417.29 L2109.16,416.81 L2109.52,416.34 L2109.87,415.86 L2110.22,415.38 L2110.57,414.90 L2110.92,414.42 L2111.27,413.94 L2111.62,413.46 L2111.97,412.97" fill="none" stroke="#0072BD" stroke-width="7" stroke-linejoin="round" stroke-linecap="round" clip-path="url(#cc)"/>
<line x1="1613.75" y1="29.7" x2="1613.75" y2="38.2" stroke="#000" stroke-width="4.2" />
<line x1="1613.75" y1="526.6" x2="1613.75" y2="518.1" stroke="#000" stroke-width="4.2" />
<line x1="1713" y1="29.7" x2="1713" y2="38.2" stroke="#000" stroke-width="4.2" />
<line x1="1713" y1="526.6" x2="1713" y2="518.1" stroke="#000" stroke-width="4.2" />
<line x1="1812.5" y1="29.7" x2="1812.5" y2="38.2" stroke="#000" stroke-width="4.2" />
<line x1="1812.5" y1="526.6" x2="1812.5" y2="518.1" stroke="#000" stroke-width="4.2" />
<line x1="1911.5" y1="29.7" x2="1911.5" y2="38.2" stroke="#000" stroke-width="4.2" />
<line x1="1911.5" y1="526.6" x2="1911.5" y2="518.1" stroke="#000" stroke-width="4.2" />
<line x1="2010.75" y1="29.7" x2="2010.75" y2="38.2" stroke="#000" stroke-width="4.2" />
<line x1="2010.75" y1="526.6" x2="2010.75" y2="518.1" stroke="#000" stroke-width="4.2" />
<line x1="1514.7" y1="91.81" x2="1523.2" y2="91.81" stroke="#000" stroke-width="4.2" />
<line x1="1514.7" y1="153.93" x2="1523.2" y2="153.93" stroke="#000" stroke-width="4.2" />
<line x1="1514.7" y1="216.04" x2="1523.2" y2="216.04" stroke="#000" stroke-width="4.2" />
<line x1="1514.7" y1="278.15" x2="1523.2" y2="278.15" stroke="#000" stroke-width="4.2" />
<line x1="1514.7" y1="340.26" x2="1523.2" y2="340.26" stroke="#000" stroke-width="4.2" />
<line x1="1514.7" y1="402.38" x2="1523.2" y2="402.38" stroke="#000" stroke-width="4.2" />
<line x1="1514.7" y1="464.49" x2="1523.2" y2="464.49" stroke="#000" stroke-width="4.2" />
<line x1="2110" y1="91.81" x2="2101.5" y2="91.81" stroke="#000" stroke-width="4.2" />
<line x1="2110" y1="153.93" x2="2101.5" y2="153.93" stroke="#000" stroke-width="4.2" />
<line x1="2110" y1="216.04" x2="2101.5" y2="216.04" stroke="#000" stroke-width="4.2" />
<line x1="2110" y1="278.15" x2="2101.5" y2="278.15" stroke="#000" stroke-width="4.2" />
<line x1="2110" y1="340.26" x2="2101.5" y2="340.26" stroke="#000" stroke-width="4.2" />
<line x1="2110" y1="402.38" x2="2101.5" y2="402.38" stroke="#000" stroke-width="4.2" />
<line x1="2110" y1="464.49" x2="2101.5" y2="464.49" stroke="#000" stroke-width="4.2" />
<rect x="1514.7" y="29.7" width="595.3" height="496.9" fill="none" stroke="#262626" stroke-width="4.2"/>
<circle cx="1601.2" cy="73.4" r="12.1" fill="#0072BD" />
<circle cx="1601.2" cy="110.1" r="12.1" fill="#D95319" />
<clipPath id="cf"><rect x="63.4" y="1240.9" width="594" height="520.1"/></clipPath>
<path d="M63.34,1761.02 L64.93,1760.95 L66.52,1760.88 L68.09,1760.81 L69.67,1760.75 L71.23,1760.69 L72.80,1760.64 L74.36,1760.59 L75.91,1760.54 L77.46,1760.49 L79.01,1760.44 L80.55,1760.40 L82.09,1760.36 L83.62,1760.32 L85.15,1760.28 L86.68,1760.25 L88.20,1760.21 L89.72,1760.18 L91.24,1760.14 L92.75,1760.11 L94.26,1760.07 L95.77,1760.04 L97.28,1760.00 L98.78,1759.96 L100.28,1759.93 L101.78,1759.89 L103.28,1759.85 L104.77,1759.81 L106.27,1759.76 L107.76,1759.72 L109.25,1759.67 L110.74,1759.62 L112.22,1759.56 L113.71,1759.51 L115.19,1759.45 L116.68,1759.38 L118.16,1759.31 L119.64,1759.24 L121.13,1759.17 L122.61,1759.09 L124.09,1759.00 L125.57,1758.91 L127.05,1758.81 L128.53,1758.71 L130.01,1758.61 L131.49,1758.49 L132.98,1758.38 L134.46,1758.25 L135.94,1758.12 L137.43,1757.98 L138.91,1757.83 L140.40,1757.68 L141.89,1757.52 L143.38,1757.35 L144.87,1757.18 L146.36,1756.99 L147.86,1756.80 L149.36,1756.60 L150.85,1756.39 L152.36,1756.17 L153.86,1755.94 L155.36,1755.70 L156.87,1755.45 L158.38,1755.19 L159.90,1754.92 L161.42,1754.64 L162.94,1754.35 L164.46,1754.05 L165.98,1753.73 L167.51,1753.41 L169.04,1753.07 L170.57,1752.73 L172.10,1752.37 L173.63,1751.99 L175.16,1751.61 L176.69,1751.21 L178.22,1750.81 L179.74,1750.39 L181.26,1749.95 L182.78,1749.51 L184.29,1749.05 L185.80,1748.57 L187.30,1748.09 L188.80,1747.59 L190.29,1747.08 L191.78,1746.55 L193.25,1746.01 L194.72,1745.46 L196.18,1744.89 L197.64,1744.31 L199.08,1743.71 L200.51,1743.10 L201.93,1742.47 L203.34,1741.83 L204.74,1741.17 L206.13,1740.50 L207.50,1739.81 L208.86,1739.11 L210.21,1738.39 L211.54,1737.66 L212.86,1736.91 L214.16,1736.14 L215.45,1735.36 L216.73,1734.57 L217.99,1733.76 L219.24,1732.94 L220.48,1732.10 L221.70,1731.25 L222.91,1730.38 L224.11,1729.50 L225.29,1728.60 L226.46,1727.69 L227.62,1726.77 L228.77,1725.84 L229.90,1724.89 L231.02,1723.93 L232.13,1722.96 L233.23,1721.97 L234.32,1720.97 L235.39,1719.96 L236.45,1718.94 L237.50,1717.90 L238.54,1716.85 L239.57,1715.80 L240.58,1714.73 L241.59,1713.64 L242.58,1712.55 L243.56,1711.45 L244.54,1710.34 L245.50,1709.21 L246.45,1708.08 L247.39,1706.93 L248.32,1705.78 L249.24,1704.61 L250.15,1703.44 L251.05,1702.25 L251.94,1701.06 L252.82,1699.85 L253.69,1698.64 L254.55,1697.42 L255.40,1696.19 L256.24,1694.95 L257.08,1693.71 L257.90,1692.45 L258.71,1691.19 L259.52,1689.92 L260.32,1688.64 L261.11,1687.35 L261.89,1686.06 L262.66,1684.76 L263.42,1683.45 L264.18,1682.13 L264.93,1680.81 L265.66,1679.48 L266.40,1678.15 L267.12,1676.81 L267.84,1675.46 L268.55,1674.11 L269.25,1672.75 L269.94,1671.39 L270.63,1670.02 L271.31,1668.64 L271.98,1667.26 L272.65,1665.88 L273.31,1664.49 L273.96,1663.09 L274.61,1661.70 L275.25,1660.29 L275.88,1658.89 L276.51,1657.48 L277.13,1656.06 L277.75,1654.64 L278.36,1653.22 L278.97,1651.80 L279.56,1650.37 L280.16,1648.94 L280.75,1647.51 L281.33,1646.07 L281.91,1644.63 L282.48,1643.19 L283.05,1641.75 L283.62,1640.31 L284.18,1638.86 L284.73,1637.42 L285.28,1635.97 L285.83,1634.52 L286.37,1633.07 L286.91,1631.62 L287.44,1630.16 L287.97,1628.71 L288.50,1627.26 L289.02,1625.80 L289.54,1624.35 L290.06,1622.90 L290.57,1621.44 L291.08,1619.99 L291.59,1618.53 L292.09,1617.08 L292.59,1615.62 L293.09,1614.17 L293.58,1612.71 L294.07,1611.26 L294.55,1609.80 L295.04,1608.35 L295.52,1606.89 L295.99,1605.44 L296.47,1603.98 L296.94,1602.52 L297.40,1601.07 L297.87,1599.61 L298.33,1598.15 L298.79,1596.70 L299.24,1595.24 L299.69,1593.78 L300.14,1592.32 L300.59,1590.87 L301.03,1589.41 L301.47,1587.95 L301.91,1586.49 L302.35,1585.03 L302.78,1583.57 L303.21,1582.11 L303.64,1580.65 L304.06,1579.19 L304.48,1577.73 L304.90,1576.27 L305.32,1574.81 L305.73,1573.35 L306.14,1571.89 L306.55,1570.43 L306.96,1568.97 L307.36,1567.50 L307.76,1566.04 L308.16,1564.58 L308.56,1563.12 L308.95,1561.65 L309.34,1560.19 L309.73,1558.73 L310.12,1557.26 L310.50,1555.80 L310.89,1554.33 L311.27,1552.87 L311.64,1551.40 L312.02,1549.94 L312.39,1548.47 L312.77,1547.01 L313.14,1545.54 L313.50,1544.08 L313.87,1542.61 L314.23,1541.14 L314.60,1539.68 L314.96,1538.21 L315.32,1536.74 L315.67,1535.27 L316.03,1533.80 L316.38,1532.33 L316.73,1530.87 L317.08,1529.40 L317.43,1527.93 L317.77,1526.46 L318.12,1524.99 L318.46,1523.51 L318.80,1522.04 L319.14,1520.57 L319.48,1519.10 L319.81,1517.63 L320.15,1516.16 L320.48,1514.68 L320.81,1513.21 L321.14,1511.74 L321.47,1510.26 L321.80,1508.79 L322.13,1507.31 L322.45,1505.84 L322.77,1504.37 L323.10,1502.89 L323.42,1501.41 L323.74,1499.94 L324.06,1498.46 L324.37,1496.98 L324.69,1495.51 L325.00,1494.03 L325.32,1492.55 L325.63,1491.07 L325.94,1489.59 L326.26,1488.11 L326.57,1486.64 L326.87,1485.16 L327.18,1483.67 L327.49,1482.19 L327.80,1480.71 L328.10,1479.23 L328.41,1477.75 L328.71,1476.27 L329.02,1474.78 L329.32,1473.30 L329.62,1471.82 L329.92,1470.33 L330.22,1468.85 L330.52,1467.37 L330.82,1465.88 L331.12,1464.39 L331.42,1462.91 L331.72,1461.42 L332.01,1459.94 L332.31,1458.45 L332.61,1456.96 L332.90,1455.47 L333.20,1453.98 L333.50,1452.50 L333.79,1451.01 L334.09,1449.52 L334.38,1448.03 L334.67,1446.54 L334.97,1445.04 L335.26,1443.55 L335.56,1442.06 L335.85,1440.57 L336.14,1439.08 L336.44,1437.58 L336.73,1436.09 L337.02,1434.59 L337.32,1433.10 L337.61,1431.60 L337.90,1430.11 L338.20,1428.61 L338.49,1427.12 L338.79,1425.62 L339.08,1424.12 L339.37,1422.62 L339.67,1421.12 L339.96,1419.63 L340.26,1418.13 L340.55,1416.63 L340.85,1415.13 L341.15,1413.63 L341.44,1412.12 L341.74,1410.62 L342.04,1409.12 L342.33,1407.62 L342.63,1406.11 L342.93,1404.61 L343.23,1403.11 L343.53,1401.60 L343.83,1400.10 L344.13,1398.60 L344.42,1397.09 L344.72,1395.59 L345.02,1394.09 L345.32,1392.58 L345.62,1391.08 L345.92,1389.58 L346.22,1388.07 L346.52,1386.57 L346.82,1385.07 L347.12,1383.57 L347.43,1382.06 L347.73,1380.56 L348.03,1379.06 L348.33,1377.56 L348.63,1376.06 L348.93,1374.56 L349.23,1373.06 L349.53,1371.57 L349.83,1370.07 L350.13,1368.57 L350.43,1367.08 L350.73,1365.58 L351.03,1364.09 L351.33,1362.60 L351.63,1361.11 L351.93,1359.62 L352.22,1358.13 L352.52,1356.64 L352.82,1355.15 L353.12,1353.66 L353.42,1352.18 L353.72,1350.70 L354.01,1349.21 L354.31,1347.73 L354.61,1346.25 L354.90,1344.78 L355.20,1343.30 L355.49,1341.82 L355.79,1340.35 L356.08,1338.88 L356.38,1337.41 L356.68,1335.94 L356.99,1334.48 L357.33,1333.03 L357.68,1331.59 L358.07,1330.15 L358.49,1328.73 L358.96,1327.33 L359.48,1325.94 L360.05,1324.57 L360.68,1323.22 L361.38,1321.89 L362.15,1320.58 L363.00,1319.30 L363.89,1319.11 L364.61,1319.67 L365.33,1320.23 L366.05,1320.78 L366.77,1321.34 L367.49,1321.90 L368.21,1322.46 L368.93,1323.02 L369.65,1323.58 L370.37,1324.13 L371.08,1324.69 L371.80,1325.25 L372.52,1325.81 L373.24,1326.37 L373.96,1326.92 L374.68,1327.48 L375.40,1328.04 L376.12,1328.60 L376.84,1329.16 L377.55,1329.72 L378.27,1330.28 L378.99,1330.83 L379.71,1331.39 L380.43,1331.95 L381.15,1332.51 L381.87,1333.07 L382.59,1333.63 L383.30,1334.18 L384.02,1334.74 L384.74,1335.30 L385.46,1335.86 L386.18,1336.42 L386.90,1336.98 L387.62,1337.54 L388.34,1338.10 L389.06,1338.65 L389.77,1339.21 L390.49,1339.77 L391.21,1340.33 L391.93,1340.89 L392.65,1341.45 L393.37,1342.01 L394.09,1342.56 L394.81,1343.12 L395.53,1343.68 L396.25,1344.24 L396.96,1344.80 L397.68,1345.36 L398.40,1345.91 L399.12,1346.47 L399.84,1347.03 L400.56,1347.59 L401.28,1348.15 L402.00,1348.71 L402.72,1349.26 L403.44,1349.82 L404.16,1350.38 L404.88,1350.94 L405.60,1351.50 L406.32,1352.06 L407.04,1352.61 L407.75,1353.17 L408.47,1353.73 L409.19,1354.29 L409.91,1354.85 L410.63,1355.40 L411.35,1355.96 L412.07,1356.52 L412.79,1357.08 L413.51,1357.63 L414.23,1358.19 L414.95,1358.75 L415.67,1359.31 L416.39,1359.86 L417.11,1360.42 L417.83,1360.98 L418.55,1361.53 L419.27,1362.09 L420.00,1362.65 L420.72,1363.21 L421.44,1363.76 L422.16,1364.32 L422.88,1364.88 L423.60,1365.43 L424.32,1365.99 L425.04,1366.55 L425.76,1367.10 L426.48,1367.66 L427.20,1368.21 L427.92,1368.77 L428.65,1369.33 L429.37,1369.88 L430.09,1370.44 L430.81,1370.99 L431.53,1371.55 L432.25,1372.10 L432.98,1372.66 L433.70,1373.21 L434.42,1373.77 L435.14,1374.32 L435.86,1374.88 L436.59,1375.43 L437.31,1375.99 L438.03,1376.54 L438.75,1377.10 L439.47,1377.65 L440.20,1378.21 L440.92,1378.76 L441.64,1379.31 L442.37,1379.87 L443.09,1380.42 L443.81,1380.98 L444.53,1381.53 L445.26,1382.08 L445.98,1382.64 L446.70,1383.19 L447.43,1383.74 L448.15,1384.29 L448.88,1384.85 L449.60,1385.40 L450.32,1385.95 L451.05,1386.50 L451.77,1387.06 L452.50,1387.61 L453.22,1388.16 L453.94,1388.71 L454.67,1389.26 L455.39,1389.81 L456.12,1390.37 L456.84,1390.92 L457.57,1391.47 L458.29,1392.02 L459.02,1392.57 L459.74,1393.12 L460.47,1393.67 L461.20,1394.22 L461.92,1394.77 L462.65,1395.32 L463.37,1395.87 L464.10,1396.42 L464.83,1396.97 L465.55,1397.52 L466.28,1398.06 L467.01,1398.61 L467.73,1399.16 L468.46,1399.71 L469.19,1400.26 L469.91,1400.81 L470.64,1401.35 L471.37,1401.90 L472.10,1402.45 L472.82,1403.00 L473.55,1403.54 L474.28,1404.09 L475.01,1404.64 L475.74,1405.18 L476.46,1405.73 L477.19,1406.27 L477.92,1406.82 L478.65,1407.37 L479.38,1407.91 L480.11,1408.46 L480.84,1409.00 L481.57,1409.54 L482.30,1410.09 L483.03,1410.63 L483.76,1411.18 L484.49,1411.72 L485.22,1412.26 L485.95,1412.81 L486.68,1413.35 L487.41,1413.89 L488.14,1414.44 L488.87,1414.98 L489.60,1415.52 L490.33,1416.06 L491.06,1416.61 L491.80,1417.15 L492.53,1417.69 L493.26,1418.23 L493.99,1418.77 L494.73,1419.31 L495.46,1419.85 L496.19,1420.39 L496.92,1420.93 L497.66,1421.47 L498.39,1422.01 L499.12,1422.55 L499.86,1423.09 L500.59,1423.63 L501.32,1424.16 L502.06,1424.70 L502.79,1425.24 L503.53,1425.78 L504.26,1426.31 L505.00,1426.85 L505.73,1427.39 L506.47,1427.92 L507.20,1428.46 L507.94,1429.00 L508.67,1429.53 L509.41,1430.07 L510.15,1430.60 L510.88,1431.14 L511.62,1431.67 L512.36,1432.21 L513.09,1432.74 L513.83,1433.27 L514.57,1433.81 L515.31,1434.34 L516.04,1434.87 L516.78,1435.40 L517.52,1435.94 L518.26,1436.47 L519.00,1437.00 L519.74,1437.53 L520.48,1438.06 L521.22,1438.59 L521.95,1439.12 L522.69,1439.65 L523.43,1440.18 L524.17,1440.71 L524.91,1441.24 L525.66,1441.77 L526.40,1442.30 L527.14,1442.83 L527.88,1443.35 L528.62,1443.88 L529.36,1444.41 L530.10,1444.94 L530.85,1445.46 L531.59,1445.99 L532.33,1446.52 L533.07,1447.04 L533.82,1447.57 L534.56,1448.09 L535.30,1448.62 L536.05,1449.14 L536.79,1449.66 L537.54,1450.19 L538.28,1450.71 L539.02,1451.23 L539.77,1451.76 L540.51,1452.28 L541.26,1452.80 L542.01,1453.32 L542.75,1453.84 L543.50,1454.36 L544.24,1454.88 L544.99,1455.40 L545.74,1455.92 L546.48,1456.44 L547.23,1456.96 L547.98,1457.48 L548.73,1458.00 L549.48,1458.52 L550.22,1459.03 L550.97,1459.55 L551.72,1460.07 L552.47,1460.58 L553.22,1461.10 L553.97,1461.62 L554.72,1462.13 L555.47,1462.65 L556.22,1463.16 L556.97,1463.68 L557.72,1464.19 L558.47,1464.70 L559.22,1465.22 L559.98,1465.73 L560.73,1466.24 L561.48,1466.75 L562.23,1467.26 L562.99,1467.77 L563.74,1468.29 L564.49,1468.80 L565.25,1469.31 L566.00,1469.81 L566.75,1470.32 L567.51,1470.83 L568.26,1471.34 L569.02,1471.85 L569.77,1472.36 L570.53,1472.86 L571.28,1473.37 L572.04,1473.88 L572.80,1474.38 L573.55,1474.89 L574.31,1475.39 L575.07,1475.90 L575.83,1476.40 L576.58,1476.90 L577.34,1477.41 L578.10,1477.91 L578.86,1478.41 L579.62,1478.91 L580.38,1479.42 L581.14,1479.92 L581.90,1480.42 L582.66,1480.92 L583.42,1481.42 L584.18,1481.92 L584.94,1482.42 L585.70,1482.91 L586.46,1483.41 L587.23,1483.91 L587.99,1484.41 L588.75,1484.90 L589.51,1485.40 L590.28,1485.89 L591.04,1486.39 L591.81,1486.89 L592.57,1487.38 L593.33,1487.87 L594.10,1488.37 L594.86,1488.86 L595.63,1489.35 L596.40,1489.84 L597.16,1490.34 L597.93,1490.83 L598.70,1491.32 L599.46,1491.81 L600.23,1492.30 L601.00,1492.79 L601.77,1493.27 L602.53,1493.76 L603.30,1494.25 L604.07,1494.74 L604.84,1495.22 L605.61,1495.71 L606.38,1496.20 L607.15,1496.68 L607.92,1497.17 L608.69,1497.65 L609.47,1498.14 L610.24,1498.62 L611.01,1499.10 L611.78,1499.58 L612.55,1500.07 L613.33,1500.55 L614.10,1501.03 L614.87,1501.51 L615.65,1501.99 L616.42,1502.47 L617.20,1502.95 L617.97,1503.42 L618.75,1503.90 L619.53,1504.38 L620.30,1504.86 L621.08,1505.33 L621.86,1505.81 L622.63,1506.28 L623.41,1506.76 L624.19,1507.23 L624.97,1507.70 L625.75,1508.18 L626.52,1508.65 L627.30,1509.12 L628.08,1509.59 L628.86,1510.06 L629.65,1510.53 L630.43,1511.00 L631.21,1511.47 L631.99,1511.94 L632.77,1512.41 L633.55,1512.88 L634.34,1513.34 L635.12,1513.81 L635.90,1514.28 L636.69,1514.74 L637.47,1515.21 L638.26,1515.67 L639.04,1516.14 L639.83,1516.60 L640.61,1517.06 L641.40,1517.52 L642.19,1517.98 L642.97,1518.45 L643.76,1518.91 L644.55,1519.37 L645.34,1519.82 L646.12,1520.28 L646.91,1520.74 L647.70,1521.20 L648.49,1521.66 L649.28,1522.11 L650.07,1522.57 L650.86,1523.02 L651.66,1523.48 L652.45,1523.93 L653.24,1524.38 L654.03,1524.84 L654.82,1525.29 L655.62,1525.74 L656.41,1526.19 L657.21,1526.64 L658.00,1527.09 L658.80,1527.54 L659.59,1527.99 L660.39,1528.44" fill="none" stroke="#000" stroke-width="7" stroke-linejoin="round" stroke-linecap="round" clip-path="url(#cf)"/>
<line x1="211.9" y1="1240.9" x2="211.9" y2="1249.4" stroke="#000" stroke-width="4.2" />
<line x1="211.9" y1="1761" x2="211.9" y2="1752.5" stroke="#000" stroke-width="4.2" />
<line x1="360.4" y1="1240.9" x2="360.4" y2="1249.4" stroke="#000" stroke-width="4.2" />
<line x1="360.4" y1="1761" x2="360.4" y2="1752.5" stroke="#000" stroke-width="4.2" />
<line x1="508.9" y1="1240.9" x2="508.9" y2="1249.4" stroke="#000" stroke-width="4.2" />
<line x1="508.9" y1="1761" x2="508.9" y2="1752.5" stroke="#000" stroke-width="4.2" />
<line x1="63.4" y1="1328" x2="71.9" y2="1328" stroke="#000" stroke-width="4.2" />
<line x1="63.4" y1="1414.6" x2="71.9" y2="1414.6" stroke="#000" stroke-width="4.2" />
<line x1="63.4" y1="1501.2" x2="71.9" y2="1501.2" stroke="#000" stroke-width="4.2" />
<line x1="63.4" y1="1587.8" x2="71.9" y2="1587.8" stroke="#000" stroke-width="4.2" />
<line x1="63.4" y1="1674.4" x2="71.9" y2="1674.4" stroke="#000" stroke-width="4.2" />
<line x1="657.4" y1="1328" x2="648.9" y2="1328" stroke="#000" stroke-width="4.2" />
<line x1="657.4" y1="1414.6" x2="648.9" y2="1414.6" stroke="#000" stroke-width="4.2" />
<line x1="657.4" y1="1501.2" x2="648.9" y2="1501.2" stroke="#000" stroke-width="4.2" />
<line x1="657.4" y1="1587.8" x2="648.9" y2="1587.8" stroke="#000" stroke-width="4.2" />
<line x1="657.4" y1="1674.4" x2="648.9" y2="1674.4" stroke="#000" stroke-width="4.2" />
<rect x="63.4" y="1240.9" width="594" height="520.1" fill="none" stroke="#262626" stroke-width="4.2"/>
<clipPath id="cg"><rect x="789.1" y="1240.9" width="595.4" height="520.3"/></clipPath>
<path d="M785.50,1754.65 L786.27,1753.49 L787.03,1752.32 L787.79,1751.15 L788.55,1749.98 L789.32,1748.82 L790.07,1747.65 L790.83,1746.48 L791.59,1745.31 L792.35,1744.14 L793.10,1742.97 L793.86,1741.80 L794.61,1740.62 L795.37,1739.45 L796.12,1738.28 L796.87,1737.10 L797.63,1735.93 L798.38,1734.76 L799.13,1733.58 L799.88,1732.40 L800.62,1731.23 L801.37,1730.05 L802.12,1728.87 L802.86,1727.70 L803.61,1726.52 L804.35,1725.34 L805.10,1724.16 L805.84,1722.98 L806.58,1721.80 L807.33,1720.62 L808.07,1719.44 L808.81,1718.25 L809.55,1717.07 L810.28,1715.89 L811.02,1714.70 L811.76,1713.52 L812.50,1712.34 L813.23,1711.15 L813.97,1709.97 L814.70,1708.78 L815.44,1707.60 L816.17,1706.41 L816.91,1705.22 L817.64,1704.03 L818.37,1702.85 L819.10,1701.66 L819.83,1700.47 L820.56,1699.28 L821.29,1698.09 L822.02,1696.90 L822.75,1695.71 L823.47,1694.52 L824.20,1693.33 L824.93,1692.14 L825.65,1690.95 L826.38,1689.75 L827.10,1688.56 L827.83,1687.37 L828.55,1686.17 L829.27,1684.98 L830.00,1683.79 L830.72,1682.59 L831.44,1681.40 L832.16,1680.20 L832.88,1679.01 L833.60,1677.81 L834.32,1676.61 L835.04,1675.42 L835.76,1674.22 L836.48,1673.02 L837.19,1671.82 L837.91,1670.63 L838.63,1669.43 L839.34,1668.23 L840.06,1667.03 L840.77,1665.83 L841.49,1664.63 L842.20,1663.43 L842.92,1662.23 L843.63,1661.03 L844.34,1659.83 L845.06,1658.63 L845.77,1657.43 L846.48,1656.23 L847.19,1655.02 L847.90,1653.82 L848.61,1652.62 L849.32,1651.42 L850.03,1650.21 L850.74,1649.01 L851.45,1647.81 L852.16,1646.60 L852.87,1645.40 L853.58,1644.20 L854.29,1642.99 L854.99,1641.79 L855.70,1640.58 L856.41,1639.38 L857.12,1638.17 L857.82,1636.97 L858.53,1635.76 L859.23,1634.55 L859.94,1633.35 L860.64,1632.14 L861.35,1630.94 L862.05,1629.73 L862.76,1628.52 L863.46,1627.32 L864.17,1626.11 L864.87,1624.90 L865.57,1623.69 L866.28,1622.49 L866.98,1621.28 L867.68,1620.07 L868.39,1618.86 L869.09,1617.65 L869.79,1616.44 L870.49,1615.24 L871.19,1614.03 L871.89,1612.82 L872.60,1611.61 L873.30,1610.40 L874.00,1609.19 L874.70,1607.98 L875.40,1606.77 L876.10,1605.56 L876.80,1604.35 L877.50,1603.14 L878.20,1601.93 L878.90,1600.72 L879.60,1599.51 L880.30,1598.30 L881.00,1597.09 L881.70,1595.88 L882.40,1594.67 L883.10,1593.46 L883.80,1592.25 L884.50,1591.04 L885.20,1589.83 L885.90,1588.61 L886.60,1587.40 L887.30,1586.19 L887.99,1584.98 L888.69,1583.77 L889.39,1582.56 L890.09,1581.35 L890.79,1580.14 L891.49,1578.93 L892.19,1577.71 L892.89,1576.50 L893.59,1575.29 L894.28,1574.08 L894.98,1572.87 L895.68,1571.66 L896.38,1570.45 L897.08,1569.24 L897.78,1568.02 L898.48,1566.81 L899.18,1565.60 L899.88,1564.39 L900.57,1563.18 L901.27,1561.97 L901.97,1560.76 L902.67,1559.55 L903.37,1558.33 L904.07,1557.12 L904.77,1555.91 L905.47,1554.70 L906.17,1553.49 L906.87,1552.28 L907.57,1551.07 L908.27,1549.86 L908.97,1548.65 L909.67,1547.44 L910.37,1546.23 L911.07,1545.02 L911.77,1543.81 L912.47,1542.60 L913.18,1541.39 L913.88,1540.18 L914.58,1538.97 L915.28,1537.76 L915.98,1536.55 L916.68,1535.34 L917.39,1534.13 L918.09,1532.92 L918.79,1531.71 L919.49,1530.50 L920.20,1529.29 L920.90,1528.08 L921.61,1526.87 L922.31,1525.66 L923.01,1524.46 L923.72,1523.25 L924.42,1522.04 L925.13,1520.83 L925.83,1519.62 L926.54,1518.42 L927.24,1517.21 L927.95,1516.00 L928.66,1514.79 L929.36,1513.59 L930.07,1512.38 L930.78,1511.17 L931.48,1509.97 L932.19,1508.76 L932.90,1507.56 L933.61,1506.35 L934.32,1505.14 L935.03,1503.94 L935.74,1502.73 L936.45,1501.53 L937.16,1500.33 L937.87,1499.12 L938.58,1497.92 L939.29,1496.71 L940.00,1495.51 L940.71,1494.31 L941.43,1493.10 L942.14,1491.90 L942.85,1490.70 L943.57,1489.49 L944.28,1488.29 L945.00,1487.09 L945.71,1485.89 L946.43,1484.69 L947.14,1483.49 L947.86,1482.29 L948.58,1481.09 L949.29,1479.89 L950.01,1478.69 L950.73,1477.49 L951.45,1476.29 L952.17,1475.09 L952.89,1473.89 L953.61,1472.69 L954.33,1471.49 L955.05,1470.30 L955.77,1469.10 L956.49,1467.90 L957.22,1466.70 L957.94,1465.51 L958.66,1464.31 L959.39,1463.12 L960.11,1461.92 L960.84,1460.73 L961.57,1459.53 L962.29,1458.34 L963.02,1457.14 L963.75,1455.95 L964.48,1454.76 L965.21,1453.57 L965.94,1452.37 L966.67,1451.18 L967.40,1449.99 L968.13,1448.80 L968.86,1447.61 L969.59,1446.42 L970.33,1445.23 L971.06,1444.04 L971.80,1442.85 L972.53,1441.66 L973.27,1440.47 L974.00,1439.28 L974.74,1438.10 L975.48,1436.91 L976.22,1435.72 L976.96,1434.54 L977.70,1433.35 L978.44,1432.17 L979.18,1430.98 L979.92,1429.80 L980.67,1428.62 L981.41,1427.43 L982.16,1426.25 L982.90,1425.07 L983.65,1423.89 L984.40,1422.71 L985.15,1421.53 L985.90,1420.35 L986.65,1419.17 L987.40,1417.99 L988.15,1416.82 L988.90,1415.64 L989.66,1414.47 L990.42,1413.29 L991.17,1412.12 L991.93,1410.95 L992.69,1409.77 L993.45,1408.60 L994.21,1407.43 L994.98,1406.26 L995.74,1405.10 L996.51,1403.93 L997.27,1402.76 L998.04,1401.60 L998.81,1400.43 L999.58,1399.27 L1000.35,1398.11 L1001.13,1396.95 L1001.90,1395.79 L1002.68,1394.63 L1003.46,1393.47 L1004.24,1392.31 L1005.02,1391.16 L1005.80,1390.00 L1006.58,1388.85 L1007.37,1387.70 L1008.16,1386.55 L1008.95,1385.40 L1009.74,1384.25 L1010.53,1383.10 L1011.32,1381.96 L1012.12,1380.82 L1012.92,1379.67 L1013.71,1378.53 L1014.51,1377.39 L1015.32,1376.25 L1016.12,1375.12 L1016.93,1373.98 L1017.74,1372.85 L1018.55,1371.71 L1019.36,1370.58 L1020.17,1369.45 L1020.99,1368.32 L1021.80,1367.20 L1022.62,1366.07 L1023.45,1364.95 L1024.27,1363.83 L1025.09,1362.71 L1025.92,1361.59 L1026.75,1360.47 L1027.58,1359.36 L1028.42,1358.24 L1029.25,1357.13 L1030.09,1356.02 L1030.93,1354.92 L1031.77,1353.81 L1032.62,1352.70 L1033.47,1351.60 L1034.32,1350.50 L1035.17,1349.40 L1036.02,1348.31 L1036.88,1347.21 L1037.74,1346.12 L1038.60,1345.03 L1039.46,1343.94 L1040.33,1342.85 L1041.20,1341.76 L1042.07,1340.68 L1042.94,1339.60 L1043.81,1338.52 L1044.69,1337.44 L1045.57,1336.37 L1046.46,1335.29 L1047.34,1334.22 L1048.23,1333.15 L1049.12,1332.09 L1050.02,1331.02 L1050.91,1329.96 L1051.81,1328.90 L1052.71,1327.84 L1053.62,1326.79 L1054.53,1325.74 L1055.44,1324.68 L1056.35,1323.64 L1057.27,1322.59 L1058.19,1321.55 L1059.11,1320.50 L1060.03,1319.47 L1060.96,1318.43 L1061.89,1317.39 L1062.82,1316.36 L1063.76,1315.33 L1064.70,1314.31 L1065.64,1313.28 L1066.59,1312.26 L1067.53,1311.24 L1068.49,1310.22 L1069.44,1309.21 L1070.40,1308.20 L1071.36,1307.19 L1072.32,1306.18 L1073.29,1305.18 L1074.26,1304.18 L1075.23,1303.18 L1076.21,1302.19 L1077.19,1301.19 L1078.17,1300.20 L1079.16,1299.21 L1080.15,1298.23 L1081.14,1297.25 L1082.14,1296.27 L1083.14,1295.29 L1084.15,1294.32 L1085.15,1293.35 L1086.16,1292.38 L1087.18,1291.42 L1088.19,1290.46 L1089.22,1289.50 L1090.31,1290.89 L1091.06,1290.99 L1091.80,1291.09 L1092.55,1291.19 L1093.29,1291.28 L1094.04,1291.38 L1094.78,1291.48 L1095.52,1291.58 L1096.27,1291.68 L1097.01,1291.78 L1097.76,1291.88 L1098.50,1291.97 L1099.25,1292.07 L1099.99,1292.17 L1100.73,1292.27 L1101.48,1292.37 L1102.22,1292.47 L1102.97,1292.57 L1103.71,1292.67 L1104.46,1292.77 L1105.20,1292.87 L1105.94,1292.97 L1106.69,1293.08 L1107.43,1293.18 L1108.18,1293.28 L1108.92,1293.38 L1109.66,1293.48 L1110.41,1293.58 L1111.15,1293.68 L1111.90,1293.79 L1112.64,1293.89 L1113.38,1293.99 L1114.13,1294.09 L1114.87,1294.20 L1115.62,1294.30 L1116.36,1294.40 L1117.10,1294.50 L1117.85,1294.61 L1118.59,1294.71 L1119.33,1294.81 L1120.08,1294.92 L1120.82,1295.02 L1121.56,1295.12 L1122.31,1295.23 L1123.05,1295.33 L1123.80,1295.44 L1124.54,1295.54 L1125.28,1295.65 L1126.03,1295.75 L1126.77,1295.86 L1127.51,1295.96 L1128.26,1296.07 L1129.00,1296.17 L1129.74,1296.28 L1130.49,1296.38 L1131.23,1296.49 L1131.97,1296.59 L1132.72,1296.70 L1133.46,1296.81 L1134.20,1296.91 L1134.95,1297.02 L1135.69,1297.13 L1136.43,1297.23 L1137.18,1297.34 L1137.92,1297.45 L1138.66,1297.55 L1139.41,1297.66 L1140.15,1297.77 L1140.89,1297.88 L1141.64,1297.98 L1142.38,1298.09 L1143.12,1298.20 L1143.86,1298.31 L1144.61,1298.42 L1145.35,1298.52 L1146.09,1298.63 L1146.84,1298.74 L1147.58,1298.85 L1148.32,1298.96 L1149.07,1299.07 L1149.81,1299.18 L1150.55,1299.29 L1151.29,1299.40 L1152.04,1299.51 L1152.78,1299.62 L1153.52,1299.73 L1154.27,1299.84 L1155.01,1299.95 L1155.75,1300.06 L1156.49,1300.17 L1157.24,1300.28 L1157.98,1300.39 L1158.72,1300.50 L1159.46,1300.61 L1160.21,1300.72 L1160.95,1300.83 L1161.69,1300.94 L1162.43,1301.05 L1163.18,1301.17 L1163.92,1301.28 L1164.66,1301.39 L1165.40,1301.50 L1166.15,1301.61 L1166.89,1301.73 L1167.63,1301.84 L1168.37,1301.95 L1169.12,1302.06 L1169.86,1302.18 L1170.60,1302.29 L1171.34,1302.40 L1172.09,1302.51 L1172.83,1302.63 L1173.57,1302.74 L1174.31,1302.85 L1175.05,1302.97 L1175.80,1303.08 L1176.54,1303.20 L1177.28,1303.31 L1178.02,1303.42 L1178.77,1303.54 L1179.51,1303.65 L1180.25,1303.77 L1180.99,1303.88 L1181.73,1304.00 L1182.48,1304.11 L1183.22,1304.23 L1183.96,1304.34 L1184.70,1304.46 L1185.44,1304.57 L1186.19,1304.69 L1186.93,1304.80 L1187.67,1304.92 L1188.41,1305.03 L1189.15,1305.15 L1189.90,1305.26 L1190.64,1305.38 L1191.38,1305.50 L1192.12,1305.61 L1192.86,1305.73 L1193.60,1305.85 L1194.35,1305.96 L1195.09,1306.08 L1195.83,1306.20 L1196.57,1306.31 L1197.31,1306.43 L1198.05,1306.55 L1198.80,1306.66 L1199.54,1306.78 L1200.28,1306.90 L1201.02,1307.02 L1201.76,1307.14 L1202.50,1307.25 L1203.25,1307.37 L1203.99,1307.49 L1204.73,1307.61 L1205.47,1307.73 L1206.21,1307.84 L1206.95,1307.96 L1207.70,1308.08 L1208.44,1308.20 L1209.18,1308.32 L1209.92,1308.44 L1210.66,1308.56 L1211.40,1308.68 L1212.14,1308.80 L1212.88,1308.91 L1213.63,1309.03 L1214.37,1309.15 L1215.11,1309.27 L1215.85,1309.39 L1216.59,1309.51 L1217.33,1309.63 L1218.07,1309.75 L1218.81,1309.87 L1219.56,1309.99 L1220.30,1310.11 L1221.04,1310.23 L1221.78,1310.36 L1222.52,1310.48 L1223.26,1310.60 L1224.00,1310.72 L1224.74,1310.84 L1225.49,1310.96 L1226.23,1311.08 L1226.97,1311.20 L1227.71,1311.32 L1228.45,1311.45 L1229.19,1311.57 L1229.93,1311.69 L1230.67,1311.81 L1231.41,1311.93 L1232.15,1312.05 L1232.89,1312.18 L1233.64,1312.30 L1234.38,1312.42 L1235.12,1312.54 L1235.86,1312.67 L1236.60,1312.79 L1237.34,1312.91 L1238.08,1313.03 L1238.82,1313.16 L1239.56,1313.28 L1240.30,1313.40 L1241.04,1313.53 L1241.78,1313.65 L1242.53,1313.77 L1243.27,1313.90 L1244.01,1314.02 L1244.75,1314.14 L1245.49,1314.27 L1246.23,1314.39 L1246.97,1314.51 L1247.71,1314.64 L1248.45,1314.76 L1249.19,1314.89 L1249.93,1315.01 L1250.67,1315.13 L1251.41,1315.26 L1252.15,1315.38 L1252.89,1315.51 L1253.63,1315.63 L1254.38,1315.76 L1255.12,1315.88 L1255.86,1316.01 L1256.60,1316.13 L1257.34,1316.26 L1258.08,1316.38 L1258.82,1316.51 L1259.56,1316.63 L1260.30,1316.76 L1261.04,1316.88 L1261.78,1317.01 L1262.52,1317.13 L1263.26,1317.26 L1264.00,1317.39 L1264.74,1317.51 L1265.48,1317.64 L1266.22,1317.76 L1266.96,1317.89 L1267.70,1318.02 L1268.44,1318.14 L1269.18,1318.27 L1269.92,1318.40 L1270.66,1318.52 L1271.40,1318.65 L1272.14,1318.78 L1272.88,1318.90 L1273.62,1319.03 L1274.36,1319.16 L1275.10,1319.28 L1275.84,1319.41 L1276.58,1319.54 L1277.32,1319.66 L1278.06,1319.79 L1278.80,1319.92 L1279.54,1320.05 L1280.28,1320.17 L1281.02,1320.30 L1281.76,1320.43 L1282.50,1320.56 L1283.24,1320.69 L1283.98,1320.81 L1284.72,1320.94 L1285.46,1321.07 L1286.20,1321.20 L1286.94,1321.33 L1287.68,1321.45 L1288.42,1321.58 L1289.16,1321.71 L1289.90,1321.84 L1290.64,1321.97 L1291.38,1322.10 L1292.12,1322.23 L1292.86,1322.35 L1293.60,1322.48 L1294.34,1322.61 L1295.08,1322.74 L1295.82,1322.87 L1296.56,1323.00 L1297.30,1323.13 L1298.04,1323.26 L1298.78,1323.39 L1299.52,1323.52 L1300.26,1323.65 L1301.00,1323.77 L1301.74,1323.90 L1302.48,1324.03 L1303.22,1324.16 L1303.96,1324.29 L1304.70,1324.42 L1305.44,1324.55 L1306.18,1324.68 L1306.92,1324.81 L1307.66,1324.94 L1308.40,1325.07 L1309.14,1325.20 L1309.88,1325.33 L1310.61,1325.46 L1311.35,1325.59 L1312.09,1325.72 L1312.83,1325.85 L1313.57,1325.99 L1314.31,1326.12 L1315.05,1326.25 L1315.79,1326.38 L1316.53,1326.51 L1317.27,1326.64 L1318.01,1326.77 L1318.75,1326.90 L1319.49,1327.03 L1320.23,1327.16 L1320.97,1327.29 L1321.71,1327.43 L1322.45,1327.56 L1323.19,1327.69 L1323.92,1327.82 L1324.66,1327.95 L1325.40,1328.08 L1326.14,1328.21 L1326.88,1328.35 L1327.62,1328.48 L1328.36,1328.61 L1329.10,1328.74 L1329.84,1328.87 L1330.58,1329.00 L1331.32,1329.14 L1332.06,1329.27 L1332.80,1329.40 L1333.54,1329.53 L1334.27,1329.66 L1335.01,1329.80 L1335.75,1329.93 L1336.49,1330.06 L1337.23,1330.19 L1337.97,1330.32 L1338.71,1330.46 L1339.45,1330.59 L1340.19,1330.72 L1340.93,1330.85 L1341.67,1330.99 L1342.41,1331.12 L1343.14,1331.25 L1343.88,1331.38 L1344.62,1331.52 L1345.36,1331.65 L1346.10,1331.78 L1346.84,1331.92 L1347.58,1332.05 L1348.32,1332.18 L1349.06,1332.31 L1349.80,1332.45 L1350.53,1332.58 L1351.27,1332.71 L1352.01,1332.85 L1352.75,1332.98 L1353.49,1333.11 L1354.23,1333.25 L1354.97,1333.38 L1355.71,1333.51 L1356.45,1333.65 L1357.19,1333.78 L1357.92,1333.91 L1358.66,1334.05 L1359.40,1334.18 L1360.14,1334.31 L1360.88,1334.45 L1361.62,1334.58 L1362.36,1334.72 L1363.10,1334.85 L1363.84,1334.98 L1364.57,1335.12 L1365.31,1335.25 L1366.05,1335.38 L1366.79,1335.52 L1367.53,1335.65 L1368.27,1335.79 L1369.01,1335.92 L1369.75,1336.05 L1370.48,1336.19 L1371.22,1336.32 L1371.96,1336.46 L1372.70,1336.59 L1373.44,1336.73 L1374.18,1336.86 L1374.92,1336.99 L1375.66,1337.13 L1376.39,1337.26 L1377.13,1337.40 L1377.87,1337.53 L1378.61,1337.67 L1379.35,1337.80 L1380.09,1337.93 L1380.83,1338.07 L1381.57,1338.20 L1382.30,1338.34 L1383.04,1338.47 L1383.78,1338.61 L1384.52,1338.74 L1385.26,1338.88 L1386.00,1339.01" fill="none" stroke="#000" stroke-width="7" stroke-linejoin="round" stroke-linecap="round" clip-path="url(#cg)"/>
<line x1="938.1" y1="1240.9" x2="938.1" y2="1249.4" stroke="#000" stroke-width="4.2" />
<line x1="938.1" y1="1761.2" x2="938.1" y2="1752.7" stroke="#000" stroke-width="4.2" />
<line x1="1087.1" y1="1240.9" x2="1087.1" y2="1249.4" stroke="#000" stroke-width="4.2" />
<line x1="1087.1" y1="1761.2" x2="1087.1" y2="1752.7" stroke="#000" stroke-width="4.2" />
<line x1="1236.1" y1="1240.9" x2="1236.1" y2="1249.4" stroke="#000" stroke-width="4.2" />
<line x1="1236.1" y1="1761.2" x2="1236.1" y2="1752.7" stroke="#000" stroke-width="4.2" />
<line x1="789.1" y1="1314.7" x2="797.6" y2="1314.7" stroke="#000" stroke-width="4.2" />
<line x1="789.1" y1="1389.5" x2="797.6" y2="1389.5" stroke="#000" stroke-width="4.2" />
<line x1="789.1" y1="1463.9" x2="797.6" y2="1463.9" stroke="#000" stroke-width="4.2" />
<line x1="789.1" y1="1538.3" x2="797.6" y2="1538.3" stroke="#000" stroke-width="4.2" />
<line x1="789.1" y1="1612.7" x2="797.6" y2="1612.7" stroke="#000" stroke-width="4.2" />
<line x1="789.1" y1="1687" x2="797.6" y2="1687" stroke="#000" stroke-width="4.2" />
<line x1="1384.5" y1="1314.7" x2="1376" y2="1314.7" stroke="#000" stroke-width="4.2" />
<line x1="1384.5" y1="1389.5" x2="1376" y2="1389.5" stroke="#000" stroke-width="4.2" />
<line x1="1384.5" y1="1463.9" x2="1376" y2="1463.9" stroke="#000" stroke-width="4.2" />
<line x1="1384.5" y1="1538.3" x2="1376" y2="1538.3" stroke="#000" stroke-width="4.2" />
<line x1="1384.5" y1="1612.7" x2="1376" y2="1612.7" stroke="#000" stroke-width="4.2" />
<line x1="1384.5" y1="1687" x2="1376" y2="1687" stroke="#000" stroke-width="4.2" />
<rect x="789.1" y="1240.9" width="595.4" height="520.3" fill="none" stroke="#262626" stroke-width="4.2"/>
<clipPath id="ch"><rect x="1514.25" y="1240.9" width="596.25" height="520"/></clipPath>
<path d="M1512.46,1753.83 L1515.69,1753.89 L1518.91,1753.93 L1522.13,1753.95 L1525.34,1753.96 L1528.55,1753.95 L1531.75,1753.92 L1534.95,1753.88 L1538.14,1753.82 L1541.33,1753.75 L1544.52,1753.67 L1547.70,1753.57 L1550.88,1753.46 L1554.05,1753.34 L1557.22,1753.21 L1560.39,1753.07 L1563.55,1752.92 L1566.72,1752.76 L1569.87,1752.60 L1573.03,1752.43 L1576.19,1752.25 L1579.34,1752.06 L1582.49,1751.88 L1585.63,1751.68 L1588.78,1751.49 L1591.92,1751.29 L1595.07,1751.08 L1598.21,1750.88 L1601.35,1750.68 L1604.49,1750.47 L1607.63,1750.27 L1610.77,1750.07 L1613.90,1749.87 L1617.04,1749.67 L1620.18,1749.48 L1623.32,1749.29 L1626.45,1749.11 L1629.59,1748.93 L1632.73,1748.76 L1635.87,1748.60 L1639.01,1748.44 L1642.15,1748.29 L1645.29,1748.15 L1648.44,1748.02 L1651.58,1747.90 L1654.73,1747.80 L1657.88,1747.70 L1661.03,1747.62 L1664.18,1747.55 L1667.34,1747.50 L1670.50,1747.46 L1673.66,1747.43 L1676.82,1747.42 L1679.99,1747.43 L1683.16,1747.46 L1686.33,1747.50 L1689.50,1747.56 L1692.68,1747.65 L1695.87,1747.75 L1699.06,1747.88 L1702.25,1748.02 L1705.45,1748.19 L1708.65,1748.38 L1711.85,1748.60 L1715.06,1748.84 L1718.28,1749.11 L1721.50,1749.40 L1724.72,1749.72 L1727.96,1750.06 L1731.19,1750.44 L1734.44,1750.84 L1737.68,1751.27 L1740.94,1751.74 L1744.20,1752.23 L1747.47,1752.74 L1750.73,1753.27 L1754.00,1753.81 L1757.27,1754.34 L1760.53,1754.86 L1763.79,1755.36 L1767.04,1755.83 L1770.29,1756.26 L1773.52,1756.65 L1776.74,1756.98 L1779.95,1757.25 L1783.14,1757.44 L1786.31,1757.56 L1789.46,1757.59 L1792.59,1757.52 L1795.69,1757.34 L1798.77,1757.05 L1801.82,1756.64 L1804.85,1756.10 L1807.84,1755.41 L1810.80,1754.58 L1813.72,1753.59 L1816.60,1752.44 L1819.44,1751.14 L1822.24,1749.70 L1824.98,1748.12 L1827.66,1746.42 L1830.28,1744.60 L1832.84,1742.67 L1835.32,1740.64 L1837.73,1738.53 L1840.05,1736.33 L1842.29,1734.06 L1844.44,1731.72 L1846.49,1729.33 L1848.44,1726.88 L1850.31,1724.39 L1852.08,1721.85 L1853.76,1719.26 L1855.36,1716.62 L1856.87,1713.95 L1858.31,1711.23 L1859.67,1708.47 L1860.96,1705.68 L1862.18,1702.84 L1863.33,1699.98 L1864.42,1697.07 L1865.44,1694.14 L1866.41,1691.17 L1867.33,1688.18 L1868.19,1685.16 L1869.00,1682.11 L1869.77,1679.04 L1870.49,1675.94 L1871.17,1672.83 L1871.82,1669.69 L1872.43,1666.54 L1873.01,1663.37 L1873.56,1660.18 L1874.08,1656.98 L1874.59,1653.77 L1875.07,1650.55 L1875.54,1647.32 L1875.99,1644.08 L1876.44,1640.84 L1876.87,1637.59 L1877.31,1634.34 L1877.74,1631.09 L1878.17,1627.84 L1878.60,1624.60 L1879.05,1621.35 L1879.50,1618.11 L1879.97,1614.88 L1880.45,1611.66 L1880.95,1608.44 L1881.46,1605.24 L1881.98,1602.04 L1882.52,1598.84 L1883.06,1595.66 L1883.62,1592.48 L1884.18,1589.31 L1884.75,1586.15 L1885.33,1582.99 L1885.91,1579.84 L1886.49,1576.69 L1887.08,1573.56 L1887.67,1570.42 L1888.26,1567.30 L1888.86,1564.18 L1889.45,1561.06 L1890.03,1557.95 L1890.62,1554.84 L1891.20,1551.74 L1891.77,1548.64 L1892.34,1545.55 L1892.90,1542.46 L1893.45,1539.38 L1893.99,1536.30 L1894.52,1533.22 L1895.03,1530.15 L1895.54,1527.08 L1896.03,1524.02 L1896.51,1520.95 L1896.98,1517.89 L1897.44,1514.83 L1897.89,1511.78 L1898.33,1508.72 L1898.77,1505.67 L1899.20,1502.61 L1899.63,1499.56 L1900.05,1496.51 L1900.47,1493.46 L1900.88,1490.41 L1901.30,1487.35 L1901.71,1484.30 L1902.12,1481.25 L1902.54,1478.19 L1902.96,1475.13 L1903.38,1472.08 L1903.81,1469.01 L1904.24,1465.95 L1904.67,1462.88 L1905.12,1459.81 L1905.57,1456.74 L1906.03,1453.67 L1906.50,1450.59 L1906.98,1447.50 L1907.48,1444.41 L1907.98,1441.32 L1908.50,1438.22 L1909.04,1435.11 L1909.59,1432.00 L1910.15,1428.89 L1910.74,1425.77 L1911.34,1422.64 L1911.96,1419.50 L1912.60,1416.36 L1913.26,1413.21 L1913.94,1410.05 L1914.65,1406.88 L1915.38,1403.71 L1916.14,1400.53 L1916.92,1397.34 L1917.72,1394.13 L1918.56,1390.92 L1919.42,1387.70 L1920.32,1384.47 L1921.24,1381.23 L1922.19,1377.98 L1923.18,1374.72 L1924.20,1371.45 L1925.25,1368.16 L1926.34,1364.87 L1927.47,1361.58 L1928.64,1358.31 L1929.86,1355.06 L1931.12,1351.85 L1932.44,1348.69 L1933.81,1345.60 L1935.24,1342.57 L1936.73,1339.64 L1938.29,1336.80 L1939.91,1334.08 L1941.61,1331.47 L1943.38,1329.00 L1945.23,1326.67 L1947.16,1324.51 L1949.17,1322.51 L1951.27,1320.69 L1953.47,1319.07 L1955.75,1317.65 L1958.14,1316.44 L1960.62,1315.47 L1963.21,1314.74 L1965.90,1314.25 L1968.71,1314.04 L1971.63,1314.10 L1974.64,1314.43 L1977.70,1315.02 L1980.78,1315.86 L1983.86,1316.93 L1986.88,1318.24 L1989.81,1319.76 L1992.63,1321.48 L1995.29,1323.39 L1997.76,1325.48 L2000.04,1327.74 L2002.12,1330.16 L2004.03,1332.72 L2005.78,1335.40 L2007.38,1338.21 L2008.84,1341.12 L2010.18,1344.12 L2011.40,1347.20 L2012.53,1350.35 L2013.57,1353.55 L2014.53,1356.79 L2015.44,1360.06 L2016.29,1363.34 L2017.11,1366.63 L2017.91,1369.91 L2018.69,1373.17 L2019.46,1376.41 L2020.22,1379.63 L2020.97,1382.83 L2021.71,1386.02 L2022.44,1389.19 L2023.15,1392.35 L2023.86,1395.49 L2024.55,1398.62 L2025.24,1401.74 L2025.92,1404.84 L2026.59,1407.94 L2027.24,1411.03 L2027.90,1414.11 L2028.54,1417.18 L2029.17,1420.25 L2029.80,1423.31 L2030.41,1426.37 L2031.02,1429.43 L2031.63,1432.48 L2032.22,1435.54 L2032.81,1438.59 L2033.39,1441.65 L2033.97,1444.71 L2034.54,1447.77 L2035.10,1450.84 L2035.66,1453.91 L2036.21,1456.98 L2036.76,1460.06 L2037.30,1463.14 L2037.83,1466.22 L2038.37,1469.31 L2038.89,1472.39 L2039.42,1475.49 L2039.94,1478.58 L2040.45,1481.68 L2040.97,1484.78 L2041.47,1487.88 L2041.98,1490.99 L2042.48,1494.10 L2042.98,1497.21 L2043.48,1500.32 L2043.97,1503.43 L2044.47,1506.55 L2044.96,1509.67 L2045.45,1512.79 L2045.93,1515.91 L2046.42,1519.04 L2046.91,1522.16 L2047.39,1525.29 L2047.87,1528.42 L2048.36,1531.55 L2048.84,1534.68 L2049.32,1537.82 L2049.81,1540.95 L2050.29,1544.09 L2050.78,1547.23 L2051.26,1550.36 L2051.75,1553.50 L2052.24,1556.64 L2052.73,1559.78 L2053.22,1562.92 L2053.71,1566.06 L2054.21,1569.21 L2054.70,1572.35 L2055.20,1575.49 L2055.71,1578.63 L2056.21,1581.78 L2056.72,1584.92 L2057.24,1588.06 L2057.75,1591.20 L2058.27,1594.35 L2058.80,1597.49 L2059.32,1600.63 L2059.86,1603.77 L2060.40,1606.91 L2060.94,1610.05 L2061.49,1613.19 L2062.04,1616.33 L2062.60,1619.47 L2063.16,1622.61 L2063.73,1625.74 L2064.31,1628.88 L2064.89,1632.01 L2065.48,1635.14 L2066.08,1638.27 L2066.68,1641.40 L2067.29,1644.53 L2067.91,1647.66 L2068.54,1650.78 L2069.17,1653.90 L2069.81,1657.02 L2070.46,1660.14 L2071.12,1663.26 L2071.79,1666.38 L2072.47,1669.49 L2073.15,1672.60 L2073.85,1675.71 L2074.55,1678.81 L2075.27,1681.91 L2075.99,1685.01 L2076.73,1688.11 L2077.47,1691.21 L2078.23,1694.30 L2079.00,1697.39 L2079.78,1700.47 L2080.59,1703.54 L2081.43,1706.60 L2082.31,1709.63 L2083.24,1712.65 L2084.22,1715.64 L2085.26,1718.60 L2086.37,1721.52 L2087.56,1724.40 L2088.83,1727.25 L2090.19,1730.04 L2091.64,1732.78 L2093.21,1735.47 L2094.88,1738.10 L2096.67,1740.67 L2098.59,1743.17 L2100.65,1745.60 L2102.84,1747.95 L2105.18,1750.22 L2107.68,1752.41" fill="none" stroke="#0072BD" stroke-width="7" stroke-linejoin="round" stroke-linecap="round" clip-path="url(#ch)" />
<path d="M1512.54,1752.22 L1514.95,1752.44 L1517.32,1752.57 L1519.66,1752.61 L1521.97,1752.57 L1524.26,1752.45 L1526.52,1752.24 L1528.76,1751.96 L1530.97,1751.60 L1533.15,1751.17 L1535.32,1750.68 L1537.46,1750.12 L1539.59,1749.49 L1541.69,1748.81 L1543.77,1748.06 L1545.84,1747.27 L1547.89,1746.42 L1549.92,1745.52 L1551.94,1744.58 L1553.95,1743.59 L1555.94,1742.57 L1557.92,1741.50 L1559.89,1740.40 L1561.85,1739.27 L1563.80,1738.11 L1565.74,1736.93 L1567.67,1735.72 L1569.60,1734.49 L1571.52,1733.24 L1573.44,1731.98 L1575.36,1730.70 L1577.27,1729.42 L1579.18,1728.12 L1581.09,1726.83 L1582.99,1725.53 L1584.91,1724.24 L1586.82,1722.95 L1588.73,1721.67 L1590.65,1720.40 L1592.58,1719.14 L1594.51,1717.90 L1596.44,1716.67 L1598.39,1715.47 L1600.34,1714.29 L1602.30,1713.14 L1604.28,1712.02 L1606.26,1710.94 L1608.26,1709.89 L1610.27,1708.87 L1612.29,1707.90 L1614.33,1706.96 L1616.38,1706.06 L1618.44,1705.20 L1620.50,1704.37 L1622.58,1703.59 L1624.67,1702.84 L1626.77,1702.13 L1628.88,1701.46 L1631.00,1700.82 L1633.12,1700.23 L1635.25,1699.67 L1637.39,1699.15 L1639.54,1698.67 L1641.69,1698.23 L1643.85,1697.83 L1646.01,1697.46 L1648.18,1697.14 L1650.35,1696.85 L1652.53,1696.60 L1654.71,1696.39 L1656.89,1696.21 L1659.07,1696.08 L1661.26,1695.98 L1663.45,1695.92 L1665.64,1695.91 L1667.83,1695.93 L1670.02,1695.98 L1672.21,1696.08 L1674.40,1696.22 L1676.59,1696.39 L1678.78,1696.61 L1680.97,1696.86 L1683.15,1697.15 L1685.33,1697.48 L1687.51,1697.85 L1689.68,1698.26 L1691.85,1698.71 L1694.01,1699.19 L1696.17,1699.72 L1698.33,1700.28 L1700.47,1700.88 L1702.61,1701.53 L1704.75,1702.21 L1706.87,1702.93 L1708.99,1703.69 L1711.10,1704.49 L1713.20,1705.33 L1715.29,1706.20 L1717.38,1707.12 L1719.45,1708.08 L1721.51,1709.07 L1723.56,1710.11 L1725.60,1711.18 L1727.62,1712.29 L1729.64,1713.44 L1731.65,1714.61 L1733.65,1715.81 L1735.64,1717.04 L1737.62,1718.29 L1739.60,1719.55 L1741.57,1720.84 L1743.53,1722.13 L1745.49,1723.44 L1747.44,1724.75 L1749.39,1726.07 L1751.34,1727.39 L1753.28,1728.71 L1755.22,1730.02 L1757.16,1731.33 L1759.10,1732.62 L1761.04,1733.91 L1762.98,1735.18 L1764.93,1736.43 L1766.87,1737.65 L1768.82,1738.86 L1770.76,1740.04 L1772.72,1741.18 L1774.67,1742.30 L1776.64,1743.37 L1778.60,1744.41 L1780.58,1745.41 L1782.56,1746.36 L1784.55,1747.27 L1786.54,1748.12 L1788.55,1748.93 L1790.56,1749.67 L1792.59,1750.36 L1794.62,1750.98 L1796.67,1751.54 L1798.73,1752.04 L1800.80,1752.46 L1802.88,1752.81 L1804.98,1753.08 L1807.09,1753.28 L1809.22,1753.39 L1811.36,1753.41 L1813.52,1753.35 L1815.69,1753.21 L1817.88,1752.97 L1820.06,1752.66 L1822.25,1752.25 L1824.44,1751.77 L1826.61,1751.21 L1828.78,1750.57 L1830.94,1749.85 L1833.07,1749.06 L1835.18,1748.19 L1837.27,1747.25 L1839.32,1746.23 L1841.34,1745.15 L1843.32,1744.00 L1845.26,1742.78 L1847.15,1741.50 L1848.99,1740.15 L1850.79,1738.74 L1852.54,1737.27 L1854.24,1735.74 L1855.91,1734.17 L1857.52,1732.54 L1859.10,1730.86 L1860.64,1729.14 L1862.13,1727.37 L1863.59,1725.57 L1865.01,1723.72 L1866.39,1721.84 L1867.73,1719.93 L1869.04,1717.99 L1870.32,1716.02 L1871.56,1714.03 L1872.77,1712.01 L1873.94,1709.98 L1875.09,1707.93 L1876.20,1705.86 L1877.29,1703.78 L1878.35,1701.70 L1879.38,1699.60 L1880.38,1697.51 L1881.36,1695.41 L1882.32,1693.31 L1883.25,1691.21 L1884.16,1689.12 L1885.05,1687.03 L1885.92,1684.94 L1886.76,1682.86 L1887.59,1680.78 L1888.40,1678.69 L1889.19,1676.62 L1889.97,1674.54 L1890.73,1672.46 L1891.48,1670.39 L1892.21,1668.31 L1892.93,1666.24 L1893.63,1664.17 L1894.33,1662.10 L1895.01,1660.03 L1895.68,1657.96 L1896.35,1655.89 L1897.01,1653.82 L1897.66,1651.75 L1898.30,1649.68 L1898.94,1647.61 L1899.57,1645.54 L1900.21,1643.47 L1900.83,1641.40 L1901.46,1639.33 L1902.08,1637.26 L1902.71,1635.18 L1903.33,1633.11 L1903.96,1631.03 L1904.59,1628.95 L1905.22,1626.87 L1905.86,1624.79 L1906.50,1622.71 L1907.14,1620.62 L1907.80,1618.53 L1908.46,1616.44 L1909.12,1614.35 L1909.80,1612.25 L1910.49,1610.16 L1911.19,1608.05 L1911.90,1605.95 L1912.62,1603.84 L1913.36,1601.73 L1914.11,1599.61 L1914.88,1597.49 L1915.66,1595.37 L1916.46,1593.24 L1917.27,1591.11 L1918.11,1588.97 L1918.96,1586.83 L1919.84,1584.69 L1920.73,1582.54 L1921.65,1580.38 L1922.59,1578.22 L1923.56,1576.06 L1924.55,1573.89 L1925.56,1571.71 L1926.60,1569.53 L1927.67,1567.34 L1928.77,1565.15 L1929.89,1562.95 L1931.05,1560.74 L1932.23,1558.53 L1933.45,1556.31 L1934.70,1554.09 L1935.98,1551.87 L1937.28,1549.67 L1938.62,1547.49 L1939.98,1545.34 L1941.37,1543.23 L1942.78,1541.18 L1944.22,1539.19 L1945.67,1537.28 L1947.15,1535.44 L1948.65,1533.69 L1950.16,1532.05 L1951.69,1530.52 L1953.23,1529.10 L1954.79,1527.82 L1956.36,1526.67 L1957.94,1525.68 L1959.53,1524.84 L1961.13,1524.17 L1962.74,1523.67 L1964.35,1523.37 L1965.97,1523.26 L1967.58,1523.36 L1969.20,1523.65 L1970.82,1524.12 L1972.44,1524.78 L1974.05,1525.60 L1975.66,1526.58 L1977.26,1527.72 L1978.85,1528.99 L1980.43,1530.39 L1982.00,1531.91 L1983.55,1533.54 L1985.08,1535.27 L1986.60,1537.10 L1988.09,1539.00 L1989.56,1540.98 L1991.01,1543.03 L1992.43,1545.12 L1993.83,1547.27 L1995.20,1549.44 L1996.53,1551.65 L1997.83,1553.87 L1999.10,1556.09 L2000.33,1558.32 L2001.53,1560.53 L2002.69,1562.75 L2003.81,1564.96 L2004.91,1567.17 L2005.97,1569.37 L2007.00,1571.57 L2008.00,1573.77 L2008.98,1575.96 L2009.92,1578.15 L2010.84,1580.34 L2011.73,1582.52 L2012.60,1584.69 L2013.45,1586.87 L2014.27,1589.04 L2015.08,1591.20 L2015.86,1593.37 L2016.62,1595.52 L2017.37,1597.68 L2018.10,1599.83 L2018.81,1601.98 L2019.51,1604.12 L2020.19,1606.26 L2020.86,1608.40 L2021.52,1610.53 L2022.17,1612.66 L2022.81,1614.79 L2023.44,1616.91 L2024.06,1619.03 L2024.68,1621.15 L2025.29,1623.26 L2025.89,1625.37 L2026.50,1627.48 L2027.10,1629.58 L2027.70,1631.68 L2028.29,1633.77 L2028.89,1635.86 L2029.49,1637.95 L2030.10,1640.04 L2030.71,1642.12 L2031.32,1644.20 L2031.94,1646.28 L2032.56,1648.35 L2033.20,1650.42 L2033.84,1652.48 L2034.49,1654.55 L2035.16,1656.61 L2035.83,1658.66 L2036.52,1660.72 L2037.23,1662.77 L2037.94,1664.81 L2038.68,1666.86 L2039.43,1668.90 L2040.21,1670.94 L2041.00,1672.97 L2041.81,1675.00 L2042.64,1677.03 L2043.50,1679.06 L2044.38,1681.08 L2045.28,1683.10 L2046.21,1685.12 L2047.17,1687.13 L2048.16,1689.14 L2049.17,1691.15 L2050.21,1693.16 L2051.29,1695.16 L2052.40,1697.16 L2053.53,1699.15 L2054.70,1701.13 L2055.90,1703.11 L2057.13,1705.08 L2058.38,1707.03 L2059.67,1708.97 L2060.98,1710.90 L2062.32,1712.81 L2063.69,1714.70 L2065.08,1716.57 L2066.51,1718.42 L2067.96,1720.25 L2069.43,1722.05 L2070.93,1723.83 L2072.46,1725.58 L2074.01,1727.29 L2075.58,1728.98 L2077.18,1730.64 L2078.80,1732.26 L2080.45,1733.84 L2082.12,1735.39 L2083.81,1736.90 L2085.52,1738.37 L2087.25,1739.79 L2089.01,1741.17 L2090.78,1742.51 L2092.58,1743.80 L2094.40,1745.04 L2096.23,1746.23 L2098.09,1747.37 L2099.96,1748.45 L2101.86,1749.48 L2103.77,1750.46 L2105.69,1751.37 L2107.64,1752.23" fill="none" stroke="#D95319" stroke-width="7" stroke-linejoin="round" stroke-linecap="round" clip-path="url(#ch)" />
<line x1="1812.4" y1="1240.9" x2="1812.4" y2="1249.4" stroke="#000" stroke-width="4.2" />
<line x1="1812.4" y1="1760.9" x2="1812.4" y2="1752.4" stroke="#000" stroke-width="4.2" />
<line x1="1514.25" y1="1345" x2="1522.75" y2="1345" stroke="#000" stroke-width="4.2" />
<line x1="1514.25" y1="1449" x2="1522.75" y2="1449" stroke="#000" stroke-width="4.2" />
<line x1="1514.25" y1="1553" x2="1522.75" y2="1553" stroke="#000" stroke-width="4.2" />
<line x1="1514.25" y1="1657" x2="1522.75" y2="1657" stroke="#000" stroke-width="4.2" />
<line x1="2110.5" y1="1345" x2="2102" y2="1345" stroke="#000" stroke-width="4.2" />
<line x1="2110.5" y1="1449" x2="2102" y2="1449" stroke="#000" stroke-width="4.2" />
<line x1="2110.5" y1="1553" x2="2102" y2="1553" stroke="#000" stroke-width="4.2" />
<line x1="2110.5" y1="1657" x2="2102" y2="1657" stroke="#000" stroke-width="4.2" />
<rect x="1514.25" y="1240.9" width="596.25" height="520" fill="none" stroke="#262626" stroke-width="4.2"/>
<circle cx="1552.5" cy="1283.8" r="12.2" fill="#0072BD" />
<circle cx="1552.5" cy="1320.5" r="12.2" fill="#D95319" />
<clipPath id="ci"><rect x="62.9" y="1855.9" width="594.1" height="520.7"/></clipPath>
<path d="M62.84,2370.94 L66.31,2370.86 L69.77,2370.77 L73.22,2370.68 L76.67,2370.57 L80.12,2370.45 L83.56,2370.32 L86.99,2370.18 L90.42,2370.04 L93.85,2369.88 L97.27,2369.72 L100.69,2369.55 L104.10,2369.38 L107.51,2369.20 L110.91,2369.01 L114.32,2368.82 L117.71,2368.63 L121.11,2368.43 L124.50,2368.23 L127.89,2368.02 L131.28,2367.82 L134.66,2367.61 L138.05,2367.40 L141.43,2367.19 L144.81,2366.98 L148.19,2366.77 L151.56,2366.57 L154.94,2366.36 L158.31,2366.16 L161.69,2365.96 L165.06,2365.76 L168.44,2365.57 L171.81,2365.38 L175.18,2365.20 L178.56,2365.02 L181.93,2364.85 L185.30,2364.68 L188.68,2364.53 L192.06,2364.38 L195.43,2364.24 L198.81,2364.10 L202.19,2363.98 L205.58,2363.87 L208.96,2363.77 L212.35,2363.67 L215.74,2363.59 L219.13,2363.53 L222.52,2363.47 L225.92,2363.43 L229.32,2363.40 L232.72,2363.39 L236.13,2363.39 L239.54,2363.41 L242.96,2363.44 L246.38,2363.49 L249.80,2363.56 L253.23,2363.64 L256.66,2363.75 L260.10,2363.87 L263.54,2364.01 L266.99,2364.17 L270.45,2364.35 L273.90,2364.55 L277.37,2364.78 L280.84,2365.02 L284.32,2365.29 L287.80,2365.58 L291.29,2365.89 L294.79,2366.23 L298.30,2366.60 L301.81,2366.98 L305.33,2367.39 L308.85,2367.81 L312.37,2368.22 L315.88,2368.62 L319.38,2368.98 L322.88,2369.30 L326.36,2369.56 L329.81,2369.76 L333.25,2369.88 L336.66,2369.90 L340.04,2369.81 L343.38,2369.60 L346.69,2369.27 L349.95,2368.78 L353.18,2368.14 L356.35,2367.33 L359.47,2366.34 L362.54,2365.15 L365.54,2363.77 L368.48,2362.20 L371.34,2360.46 L374.11,2358.55 L376.80,2356.50 L379.39,2354.30 L381.88,2351.96 L384.26,2349.51 L386.51,2346.94 L388.64,2344.27 L390.64,2341.50 L392.50,2338.65 L394.22,2335.73 L395.81,2332.75 L397.26,2329.69 L398.60,2326.58 L399.83,2323.42 L400.96,2320.20 L401.99,2316.94 L402.95,2313.64 L403.82,2310.30 L404.63,2306.94 L405.38,2303.54 L406.07,2300.13 L406.73,2296.70 L407.35,2293.26 L407.95,2289.81 L408.53,2286.36 L409.10,2282.91 L409.66,2279.47 L410.22,2276.03 L410.78,2272.59 L411.34,2269.17 L411.90,2265.74 L412.45,2262.32 L413.00,2258.91 L413.54,2255.50 L414.09,2252.10 L414.63,2248.69 L415.18,2245.30 L415.72,2241.90 L416.26,2238.52 L416.79,2235.13 L417.33,2231.75 L417.87,2228.37 L418.41,2225.00 L418.94,2221.62 L419.48,2218.26 L420.02,2214.89 L420.55,2211.53 L421.09,2208.17 L421.63,2204.81 L422.17,2201.46 L422.71,2198.11 L423.25,2194.76 L423.79,2191.41 L424.33,2188.06 L424.88,2184.72 L425.43,2181.38 L425.98,2178.04 L426.53,2174.70 L427.09,2171.36 L427.64,2168.03 L428.20,2164.69 L428.77,2161.36 L429.34,2158.02 L429.91,2154.69 L430.48,2151.36 L431.06,2148.03 L431.64,2144.70 L432.23,2141.37 L432.82,2138.04 L433.42,2134.71 L434.02,2131.38 L434.62,2128.05 L435.23,2124.72 L435.85,2121.39 L436.47,2118.06 L437.10,2114.72 L437.73,2111.39 L438.37,2108.06 L439.02,2104.72 L439.67,2101.39 L440.33,2098.05 L441.00,2094.71 L441.67,2091.37 L442.34,2088.03 L443.02,2084.69 L443.71,2081.34 L444.40,2078.00 L445.09,2074.65 L445.78,2071.31 L446.48,2067.96 L447.17,2064.61 L447.87,2061.27 L448.56,2057.92 L449.25,2054.57 L449.95,2051.22 L450.64,2047.87 L451.32,2044.51 L452.01,2041.16 L452.69,2037.81 L453.36,2034.46 L454.03,2031.11 L454.69,2027.76 L455.35,2024.40 L456.00,2021.05 L456.64,2017.70 L457.27,2014.35 L457.90,2010.99 L458.52,2007.64 L459.15,2004.29 L459.78,2000.95 L460.41,1997.60 L461.04,1994.25 L461.69,1990.91 L462.35,1987.57 L463.02,1984.23 L463.71,1980.90 L464.41,1977.57 L465.14,1974.24 L465.89,1970.92 L466.67,1967.60 L467.48,1964.28 L468.31,1960.97 L469.18,1957.67 L470.09,1954.37 L471.03,1951.07 L472.01,1947.78 L473.04,1944.50 L474.11,1941.23 L475.23,1937.96 L476.40,1934.69 L477.62,1931.44 L478.90,1928.19 L480.24,1924.95 L481.63,1921.72 L483.09,1918.50 L484.61,1915.29 L486.19,1912.08 L487.85,1908.89 L489.58,1905.71 L491.40,1902.59 L493.31,1899.57 L495.33,1896.68 L497.48,1893.96 L499.75,1891.45 L502.16,1889.18 L504.73,1887.20 L507.46,1885.53 L510.32,1884.18 L513.30,1883.16 L516.35,1882.44 L519.44,1882.04 L522.55,1881.96 L525.65,1882.17 L528.70,1882.70 L531.68,1883.52 L534.55,1884.65 L537.28,1886.07 L539.84,1887.78 L542.20,1889.79 L544.36,1892.06 L546.33,1894.59 L548.13,1897.33 L549.78,1900.26 L551.30,1903.34 L552.71,1906.54 L554.02,1909.84 L555.27,1913.21 L556.45,1916.61 L557.61,1920.02 L558.73,1923.42 L559.82,1926.83 L560.89,1930.23 L561.92,1933.62 L562.93,1937.02 L563.91,1940.41 L564.87,1943.80 L565.80,1947.19 L566.70,1950.58 L567.58,1953.97 L568.43,1957.35 L569.26,1960.73 L570.07,1964.11 L570.86,1967.49 L571.62,1970.87 L572.36,1974.24 L573.08,1977.62 L573.78,1980.99 L574.45,1984.36 L575.11,1987.73 L575.75,1991.10 L576.37,1994.47 L576.98,1997.83 L577.56,2001.20 L578.13,2004.57 L578.68,2007.93 L579.22,2011.30 L579.74,2014.66 L580.25,2018.02 L580.74,2021.38 L581.22,2024.75 L581.68,2028.11 L582.14,2031.47 L582.58,2034.83 L583.01,2038.19 L583.42,2041.55 L583.83,2044.91 L584.23,2048.27 L584.62,2051.63 L585.00,2055.00 L585.37,2058.36 L585.73,2061.72 L586.09,2065.08 L586.43,2068.44 L586.78,2071.81 L587.11,2075.17 L587.45,2078.54 L587.77,2081.90 L588.10,2085.27 L588.42,2088.64 L588.73,2092.01 L589.05,2095.37 L589.36,2098.75 L589.67,2102.12 L589.98,2105.49 L590.29,2108.86 L590.59,2112.24 L590.90,2115.62 L591.21,2118.99 L591.52,2122.37 L591.82,2125.75 L592.13,2129.13 L592.44,2132.52 L592.75,2135.90 L593.06,2139.28 L593.37,2142.67 L593.68,2146.05 L593.99,2149.44 L594.31,2152.83 L594.62,2156.22 L594.94,2159.60 L595.26,2162.99 L595.59,2166.38 L595.91,2169.78 L596.24,2173.17 L596.57,2176.56 L596.91,2179.95 L597.25,2183.35 L597.59,2186.74 L597.94,2190.13 L598.29,2193.53 L598.64,2196.93 L599.00,2200.32 L599.37,2203.72 L599.73,2207.12 L600.11,2210.51 L600.49,2213.91 L600.87,2217.31 L601.26,2220.71 L601.66,2224.11 L602.06,2227.50 L602.47,2230.90 L602.88,2234.30 L603.31,2237.70 L603.73,2241.10 L604.17,2244.50 L604.61,2247.90 L605.06,2251.30 L605.52,2254.70 L605.99,2258.10 L606.46,2261.50 L606.94,2264.90 L607.44,2268.30 L607.93,2271.70 L608.44,2275.10 L608.96,2278.50 L609.49,2281.90 L610.02,2285.30 L610.57,2288.69 L611.12,2292.09 L611.69,2295.49 L612.27,2298.89 L612.85,2302.29 L613.45,2305.68 L614.06,2309.08 L614.68,2312.48 L615.31,2315.87 L615.95,2319.27 L616.60,2322.66 L617.27,2326.05 L617.96,2329.44 L618.70,2332.79 L619.49,2336.10 L620.38,2339.36 L621.36,2342.54 L622.47,2345.62 L623.72,2348.61 L625.13,2351.47 L626.72,2354.19 L628.51,2356.75 L630.52,2359.15 L632.77,2361.35 L635.28,2363.36 L638.07,2365.15 L641.16,2366.70 L644.57,2368.00 L648.31,2369.04 L652.41,2369.79 L656.88,2370.25" fill="none" stroke="#A6CE39" stroke-width="7" stroke-linejoin="round" stroke-linecap="round" clip-path="url(#ci)" />
<path d="M62.86,2370.92 L66.08,2370.86 L69.31,2370.78 L72.53,2370.70 L75.74,2370.60 L78.95,2370.50 L82.16,2370.38 L85.37,2370.26 L88.57,2370.13 L91.77,2369.99 L94.97,2369.85 L98.16,2369.70 L101.36,2369.54 L104.55,2369.38 L107.74,2369.21 L110.92,2369.04 L114.10,2368.86 L117.29,2368.68 L120.47,2368.49 L123.64,2368.31 L126.82,2368.12 L130.00,2367.93 L133.17,2367.73 L136.34,2367.54 L139.51,2367.34 L142.68,2367.15 L145.85,2366.95 L149.02,2366.76 L152.19,2366.56 L155.36,2366.37 L158.52,2366.18 L161.69,2365.99 L164.85,2365.81 L168.02,2365.62 L171.19,2365.45 L174.35,2365.27 L177.52,2365.10 L180.68,2364.94 L183.85,2364.78 L187.02,2364.63 L190.18,2364.48 L193.35,2364.34 L196.52,2364.21 L199.69,2364.09 L202.86,2363.97 L206.03,2363.86 L209.21,2363.77 L212.38,2363.68 L215.56,2363.60 L218.74,2363.53 L221.91,2363.47 L225.10,2363.43 L228.28,2363.39 L231.46,2363.37 L234.65,2363.36 L237.84,2363.37 L241.03,2363.39 L244.23,2363.42 L247.42,2363.46 L250.62,2363.53 L253.83,2363.60 L257.03,2363.70 L260.24,2363.80 L263.45,2363.93 L266.67,2364.07 L269.89,2364.23 L273.11,2364.41 L276.33,2364.61 L279.56,2364.83 L282.79,2365.06 L286.03,2365.32 L289.27,2365.59 L292.52,2365.89 L295.76,2366.21 L299.02,2366.55 L302.27,2366.91 L305.54,2367.29 L308.80,2367.67 L312.06,2368.05 L315.32,2368.42 L318.57,2368.76 L321.82,2369.08 L325.05,2369.35 L328.28,2369.56 L331.49,2369.72 L334.69,2369.80 L337.87,2369.80 L341.03,2369.71 L344.17,2369.52 L347.29,2369.22 L350.38,2368.80 L353.44,2368.24 L356.47,2367.55 L359.47,2366.70 L362.44,2365.70 L365.37,2364.53 L368.25,2363.21 L371.08,2361.75 L373.84,2360.15 L376.54,2358.42 L379.15,2356.56 L381.69,2354.59 L384.13,2352.51 L386.46,2350.32 L388.70,2348.04 L390.81,2345.66 L392.80,2343.21 L394.67,2340.68 L396.42,2338.08 L398.05,2335.40 L399.58,2332.67 L401.01,2329.87 L402.34,2327.02 L403.58,2324.12 L404.74,2321.17 L405.83,2318.18 L406.85,2315.14 L407.80,2312.07 L408.70,2308.97 L409.55,2305.85 L410.35,2302.69 L411.11,2299.52 L411.85,2296.34 L412.55,2293.14 L413.24,2289.94 L413.92,2286.73 L414.58,2283.53 L415.25,2280.32 L415.91,2277.13 L416.57,2273.93 L417.23,2270.74 L417.89,2267.55 L418.55,2264.37 L419.20,2261.19 L419.86,2258.02 L420.51,2254.85 L421.16,2251.68 L421.82,2248.51 L422.47,2245.35 L423.12,2242.19 L423.77,2239.04 L424.43,2235.89 L425.08,2232.74 L425.73,2229.60 L426.39,2226.45 L427.04,2223.32 L427.70,2220.18 L428.36,2217.05 L429.02,2213.92 L429.68,2210.79 L430.34,2207.67 L431.01,2204.55 L431.68,2201.43 L432.35,2198.32 L433.02,2195.21 L433.69,2192.10 L434.37,2188.99 L435.06,2185.89 L435.74,2182.79 L436.43,2179.69 L437.12,2176.59 L437.82,2173.50 L438.52,2170.41 L439.23,2167.32 L439.94,2164.24 L440.65,2161.15 L441.37,2158.07 L442.09,2154.99 L442.82,2151.91 L443.56,2148.84 L444.30,2145.76 L445.05,2142.69 L445.80,2139.62 L446.56,2136.56 L447.32,2133.49 L448.09,2130.43 L448.87,2127.37 L449.66,2124.31 L450.45,2121.25 L451.25,2118.19 L452.06,2115.14 L452.87,2112.08 L453.69,2109.03 L454.53,2105.98 L455.36,2102.93 L456.21,2099.88 L457.07,2096.84 L457.93,2093.79 L458.80,2090.75 L459.68,2087.70 L460.56,2084.66 L461.46,2081.61 L462.35,2078.57 L463.26,2075.52 L464.16,2072.48 L465.07,2069.43 L465.99,2066.38 L466.91,2063.33 L467.83,2060.28 L468.76,2057.22 L469.68,2054.16 L470.61,2051.10 L471.54,2048.04 L472.47,2044.97 L473.40,2041.90 L474.33,2038.82 L475.26,2035.74 L476.19,2032.65 L477.12,2029.56 L478.05,2026.46 L478.97,2023.36 L479.90,2020.26 L480.84,2017.16 L481.79,2014.06 L482.75,2010.96 L483.72,2007.87 L484.72,2004.78 L485.73,2001.71 L486.77,1998.64 L487.84,1995.59 L488.95,1992.56 L490.08,1989.54 L491.25,1986.54 L492.46,1983.56 L493.72,1980.60 L495.02,1977.67 L496.37,1974.76 L497.78,1971.88 L499.23,1969.03 L500.75,1966.22 L502.33,1963.43 L503.97,1960.68 L505.68,1957.97 L507.47,1955.30 L509.32,1952.67 L511.25,1950.08 L513.26,1947.54 L515.36,1945.05 L517.54,1942.60 L519.81,1940.20 L522.17,1937.86 L524.61,1935.60 L527.14,1933.46 L529.74,1931.48 L532.40,1929.68 L535.13,1928.12 L537.90,1926.81 L540.72,1925.80 L543.59,1925.13 L546.48,1924.82 L549.39,1924.92 L552.31,1925.43 L555.20,1926.31 L558.03,1927.54 L560.75,1929.07 L563.34,1930.88 L565.77,1932.93 L567.99,1935.20 L569.99,1937.64 L571.75,1940.24 L573.30,1942.98 L574.67,1945.84 L575.88,1948.82 L576.94,1951.88 L577.89,1955.02 L578.74,1958.21 L579.51,1961.45 L580.23,1964.71 L580.91,1967.98 L581.59,1971.24 L582.25,1974.49 L582.91,1977.74 L583.56,1980.97 L584.19,1984.20 L584.82,1987.43 L585.44,1990.64 L586.05,1993.85 L586.65,1997.05 L587.24,2000.25 L587.82,2003.44 L588.40,2006.62 L588.96,2009.80 L589.51,2012.98 L590.06,2016.15 L590.59,2019.31 L591.12,2022.47 L591.64,2025.62 L592.15,2028.78 L592.65,2031.92 L593.14,2035.07 L593.62,2038.21 L594.10,2041.35 L594.56,2044.48 L595.02,2047.62 L595.47,2050.75 L595.90,2053.88 L596.33,2057.00 L596.75,2060.13 L597.17,2063.26 L597.57,2066.38 L597.97,2069.51 L598.35,2072.63 L598.73,2075.75 L599.10,2078.88 L599.46,2082.00 L599.82,2085.13 L600.16,2088.26 L600.50,2091.39 L600.82,2094.52 L601.14,2097.65 L601.45,2100.78 L601.76,2103.92 L602.05,2107.06 L602.34,2110.20 L602.61,2113.34 L602.88,2116.49 L603.15,2119.64 L603.40,2122.80 L603.64,2125.96 L603.88,2129.13 L604.11,2132.29 L604.33,2135.47 L604.55,2138.64 L604.76,2141.83 L604.97,2145.01 L605.17,2148.20 L605.36,2151.39 L605.56,2154.58 L605.75,2157.78 L605.93,2160.98 L606.12,2164.18 L606.30,2167.38 L606.48,2170.59 L606.67,2173.79 L606.85,2177.00 L607.03,2180.21 L607.21,2183.42 L607.40,2186.63 L607.59,2189.84 L607.78,2193.06 L607.97,2196.27 L608.17,2199.48 L608.38,2202.70 L608.58,2205.91 L608.80,2209.12 L609.02,2212.33 L609.24,2215.55 L609.48,2218.76 L609.72,2221.96 L609.97,2225.17 L610.22,2228.38 L610.49,2231.58 L610.77,2234.78 L611.06,2237.98 L611.36,2241.18 L611.67,2244.38 L611.99,2247.57 L612.33,2250.76 L612.67,2253.94 L613.04,2257.12 L613.41,2260.30 L613.80,2263.48 L614.21,2266.65 L614.63,2269.81 L615.07,2272.98 L615.53,2276.13 L616.00,2279.29 L616.49,2282.44 L617.00,2285.58 L617.53,2288.72 L618.08,2291.85 L618.65,2294.97 L619.24,2298.09 L619.85,2301.21 L620.49,2304.32 L621.14,2307.42 L621.82,2310.51 L622.52,2313.60 L623.25,2316.68 L624.00,2319.75 L624.78,2322.82 L625.58,2325.87 L626.41,2328.92 L627.26,2331.97 L628.14,2335.00 L629.05,2338.02 L629.99,2341.04 L630.96,2344.05 L631.96,2347.04 L633.04,2349.98 L634.24,2352.85 L635.59,2355.60 L637.13,2358.21 L638.92,2360.63 L640.98,2362.84 L643.37,2364.80 L646.11,2366.48 L649.26,2367.84 L652.86,2368.84 L656.93,2369.47" fill="none" stroke="#33CC33" stroke-width="7" stroke-linejoin="round" stroke-linecap="round" clip-path="url(#ci)" />
<path d="M62.78,2371.05 L65.45,2370.90 L68.13,2370.76 L70.79,2370.61 L73.45,2370.46 L76.11,2370.31 L78.76,2370.17 L81.40,2370.02 L84.04,2369.87 L86.68,2369.72 L89.31,2369.57 L91.94,2369.43 L94.56,2369.28 L97.17,2369.13 L99.79,2368.98 L102.40,2368.84 L105.00,2368.69 L107.60,2368.55 L110.20,2368.41 L112.79,2368.26 L115.38,2368.12 L117.97,2367.98 L120.55,2367.84 L123.13,2367.70 L125.71,2367.57 L128.29,2367.43 L130.86,2367.30 L133.43,2367.17 L136.00,2367.04 L138.56,2366.91 L141.13,2366.78 L143.69,2366.66 L146.25,2366.53 L148.81,2366.41 L151.37,2366.30 L153.92,2366.18 L156.48,2366.07 L159.03,2365.96 L161.58,2365.85 L164.14,2365.74 L166.69,2365.64 L169.24,2365.54 L171.79,2365.45 L174.34,2365.35 L176.89,2365.26 L179.44,2365.17 L181.99,2365.09 L184.54,2365.01 L187.09,2364.93 L189.64,2364.86 L192.20,2364.79 L194.75,2364.72 L197.31,2364.66 L199.86,2364.60 L202.42,2364.55 L204.98,2364.50 L207.54,2364.45 L210.10,2364.41 L212.66,2364.37 L215.23,2364.34 L217.79,2364.31 L220.36,2364.29 L222.94,2364.27 L225.51,2364.25 L228.09,2364.24 L230.67,2364.24 L233.25,2364.24 L235.84,2364.24 L238.43,2364.26 L241.02,2364.27 L243.62,2364.29 L246.22,2364.32 L248.82,2364.35 L251.43,2364.39 L254.04,2364.43 L256.66,2364.48 L259.28,2364.54 L261.90,2364.60 L264.53,2364.67 L267.16,2364.74 L269.80,2364.82 L272.45,2364.91 L275.09,2365.00 L277.75,2365.10 L280.41,2365.21 L283.07,2365.32 L285.74,2365.44 L288.42,2365.57 L291.10,2365.70 L293.79,2365.84 L296.49,2365.99 L299.19,2366.14 L301.90,2366.31 L304.61,2366.47 L307.33,2366.64 L310.05,2366.81 L312.76,2366.98 L315.48,2367.14 L318.20,2367.29 L320.91,2367.42 L323.62,2367.54 L326.31,2367.64 L329.00,2367.72 L331.67,2367.78 L334.34,2367.80 L336.99,2367.80 L339.62,2367.76 L342.23,2367.68 L344.82,2367.57 L347.40,2367.41 L349.94,2367.20 L352.47,2366.94 L354.96,2366.63 L357.43,2366.27 L359.87,2365.84 L362.28,2365.36 L364.65,2364.81 L366.99,2364.19 L369.29,2363.50 L371.56,2362.73 L373.78,2361.89 L375.96,2360.97 L378.10,2359.97 L380.19,2358.88 L382.23,2357.69 L384.23,2356.42 L386.18,2355.05 L388.07,2353.59 L389.91,2352.02 L391.69,2350.34 L393.42,2348.56 L395.10,2346.69 L396.72,2344.72 L398.30,2342.66 L399.82,2340.53 L401.31,2338.32 L402.75,2336.04 L404.15,2333.71 L405.52,2331.32 L406.85,2328.89 L408.14,2326.41 L409.41,2323.90 L410.65,2321.37 L411.86,2318.81 L413.05,2316.23 L414.22,2313.65 L415.37,2311.07 L416.50,2308.49 L417.62,2305.93 L418.73,2303.38 L419.83,2300.85 L420.92,2298.36 L422.01,2295.88 L423.08,2293.44 L424.15,2291.01 L425.22,2288.61 L426.28,2286.22 L427.33,2283.86 L428.39,2281.50 L429.43,2279.17 L430.48,2276.84 L431.52,2274.53 L432.55,2272.23 L433.59,2269.93 L434.62,2267.64 L435.66,2265.36 L436.69,2263.08 L437.72,2260.80 L438.75,2258.52 L439.79,2256.24 L440.82,2253.95 L441.86,2251.66 L442.89,2249.37 L443.93,2247.06 L444.98,2244.75 L446.02,2242.42 L447.08,2240.09 L448.13,2237.74 L449.19,2235.38 L450.25,2233.02 L451.31,2230.65 L452.38,2228.27 L453.45,2225.89 L454.52,2223.50 L455.60,2221.11 L456.68,2218.71 L457.76,2216.31 L458.84,2213.91 L459.93,2211.51 L461.02,2209.10 L462.11,2206.70 L463.21,2204.30 L464.30,2201.90 L465.40,2199.51 L466.50,2197.11 L467.61,2194.73 L468.72,2192.34 L469.82,2189.97 L470.93,2187.60 L472.05,2185.24 L473.16,2182.88 L474.28,2180.54 L475.40,2178.20 L476.52,2175.87 L477.64,2173.54 L478.77,2171.23 L479.90,2168.91 L481.04,2166.61 L482.18,2164.31 L483.32,2162.02 L484.47,2159.73 L485.63,2157.44 L486.79,2155.16 L487.95,2152.89 L489.12,2150.62 L490.29,2148.35 L491.48,2146.09 L492.66,2143.82 L493.86,2141.57 L495.06,2139.31 L496.27,2137.06 L497.48,2134.81 L498.71,2132.56 L499.94,2130.31 L501.18,2128.06 L502.42,2125.82 L503.68,2123.57 L504.95,2121.32 L506.22,2119.08 L507.50,2116.83 L508.80,2114.59 L510.10,2112.34 L511.41,2110.09 L512.74,2107.84 L514.07,2105.59 L515.42,2103.33 L516.77,2101.08 L518.14,2098.82 L519.52,2096.56 L520.91,2094.29 L522.31,2092.02 L523.73,2089.75 L525.16,2087.47 L526.60,2085.20 L528.06,2082.93 L529.55,2080.67 L531.07,2078.42 L532.61,2076.19 L534.19,2073.99 L535.81,2071.82 L537.47,2069.68 L539.17,2067.58 L540.93,2065.53 L542.73,2063.52 L544.60,2061.57 L546.52,2059.68 L548.51,2057.86 L550.57,2056.10 L552.70,2054.42 L554.89,2052.84 L557.13,2051.38 L559.40,2050.07 L561.71,2048.93 L564.03,2047.98 L566.36,2047.25 L568.68,2046.76 L570.98,2046.53 L573.26,2046.59 L575.50,2046.97 L577.69,2047.65 L579.82,2048.59 L581.90,2049.77 L583.91,2051.15 L585.84,2052.69 L587.70,2054.36 L589.46,2056.13 L591.14,2057.96 L592.72,2059.86 L594.22,2061.82 L595.64,2063.84 L596.97,2065.91 L598.23,2068.05 L599.41,2070.23 L600.53,2072.47 L601.57,2074.75 L602.54,2077.08 L603.46,2079.45 L604.31,2081.86 L605.10,2084.31 L605.84,2086.80 L606.53,2089.32 L607.16,2091.87 L607.75,2094.46 L608.30,2097.06 L608.80,2099.70 L609.27,2102.35 L609.70,2105.02 L610.10,2107.71 L610.47,2110.42 L610.82,2113.14 L611.14,2115.87 L611.43,2118.60 L611.71,2121.34 L611.98,2124.09 L612.23,2126.83 L612.47,2129.57 L612.70,2132.31 L612.93,2135.04 L613.16,2137.77 L613.39,2140.48 L613.62,2143.18 L613.86,2145.86 L614.10,2148.54 L614.34,2151.20 L614.59,2153.85 L614.83,2156.49 L615.08,2159.12 L615.34,2161.74 L615.59,2164.35 L615.85,2166.95 L616.11,2169.54 L616.37,2172.13 L616.64,2174.70 L616.90,2177.27 L617.17,2179.83 L617.44,2182.39 L617.71,2184.94 L617.98,2187.48 L618.25,2190.02 L618.53,2192.55 L618.80,2195.08 L619.08,2197.60 L619.36,2200.12 L619.63,2202.64 L619.91,2205.15 L620.19,2207.66 L620.47,2210.17 L620.75,2212.68 L621.03,2215.18 L621.31,2217.69 L621.59,2220.19 L621.86,2222.70 L622.14,2225.20 L622.42,2227.71 L622.70,2230.22 L622.97,2232.73 L623.25,2235.24 L623.52,2237.75 L623.80,2240.27 L624.07,2242.79 L624.34,2245.31 L624.61,2247.84 L624.87,2250.37 L625.14,2252.91 L625.40,2255.45 L625.67,2258.00 L625.93,2260.56 L626.18,2263.12 L626.44,2265.69 L626.69,2268.26 L626.94,2270.85 L627.19,2273.44 L627.44,2276.04 L627.68,2278.65 L627.92,2281.27 L628.15,2283.90 L628.39,2286.55 L628.62,2289.20 L628.84,2291.86 L629.06,2294.53 L629.28,2297.22 L629.50,2299.92 L629.72,2302.63 L629.95,2305.34 L630.19,2308.05 L630.45,2310.75 L630.73,2313.45 L631.05,2316.14 L631.40,2318.81 L631.79,2321.47 L632.23,2324.10 L632.73,2326.71 L633.28,2329.28 L633.89,2331.83 L634.58,2334.33 L635.33,2336.79 L636.17,2339.21 L637.09,2341.58 L638.11,2343.90 L639.22,2346.15 L640.43,2348.35 L641.75,2350.49 L643.18,2352.55 L644.74,2354.55 L646.41,2356.47 L648.22,2358.31 L650.16,2360.06 L652.24,2361.73 L654.47,2363.31 L656.85,2364.79" fill="none" stroke="#0B9651" stroke-width="7" stroke-linejoin="round" stroke-linecap="round" clip-path="url(#ci)" />
<path d="M62.83,2371.04 L64.74,2370.94 L66.65,2370.83 L68.55,2370.73 L70.45,2370.63 L72.36,2370.52 L74.26,2370.42 L76.15,2370.31 L78.05,2370.21 L79.95,2370.10 L81.84,2370.00 L83.73,2369.89 L85.62,2369.79 L87.51,2369.68 L89.40,2369.58 L91.29,2369.47 L93.17,2369.37 L95.06,2369.26 L96.94,2369.16 L98.82,2369.05 L100.70,2368.95 L102.58,2368.84 L104.46,2368.74 L106.34,2368.64 L108.21,2368.53 L110.09,2368.43 L111.96,2368.33 L113.84,2368.22 L115.71,2368.12 L117.58,2368.02 L119.45,2367.92 L121.32,2367.82 L123.19,2367.72 L125.06,2367.62 L126.92,2367.53 L128.79,2367.43 L130.66,2367.33 L132.52,2367.24 L134.38,2367.14 L136.25,2367.05 L138.11,2366.96 L139.97,2366.86 L141.84,2366.77 L143.70,2366.68 L145.56,2366.60 L147.42,2366.51 L149.28,2366.42 L151.14,2366.33 L153.00,2366.25 L154.86,2366.17 L156.72,2366.09 L158.58,2366.00 L160.43,2365.92 L162.29,2365.85 L164.15,2365.77 L166.01,2365.69 L167.86,2365.62 L169.72,2365.55 L171.58,2365.48 L173.44,2365.41 L175.29,2365.34 L177.15,2365.27 L179.01,2365.21 L180.87,2365.15 L182.72,2365.09 L184.58,2365.03 L186.44,2364.97 L188.30,2364.91 L190.15,2364.86 L192.01,2364.81 L193.87,2364.76 L195.73,2364.71 L197.59,2364.66 L199.45,2364.62 L201.31,2364.58 L203.17,2364.54 L205.03,2364.50 L206.89,2364.46 L208.75,2364.43 L210.62,2364.40 L212.48,2364.37 L214.34,2364.34 L216.21,2364.32 L218.07,2364.29 L219.94,2364.27 L221.80,2364.26 L223.67,2364.24 L225.54,2364.23 L227.41,2364.22 L229.28,2364.21 L231.15,2364.21 L233.02,2364.21 L234.89,2364.21 L236.76,2364.21 L238.63,2364.22 L240.51,2364.22 L242.38,2364.24 L244.26,2364.25 L246.14,2364.27 L248.02,2364.29 L249.90,2364.31 L251.78,2364.34 L253.66,2364.37 L255.55,2364.40 L257.43,2364.43 L259.32,2364.47 L261.20,2364.51 L263.09,2364.56 L264.98,2364.60 L266.87,2364.66 L268.77,2364.71 L270.66,2364.77 L272.56,2364.83 L274.46,2364.89 L276.35,2364.96 L278.25,2365.03 L280.16,2365.10 L282.06,2365.18 L283.97,2365.26 L285.87,2365.35 L287.78,2365.44 L289.69,2365.53 L291.60,2365.63 L293.52,2365.73 L295.43,2365.83 L297.35,2365.94 L299.27,2366.05 L301.19,2366.16 L303.12,2366.28 L305.04,2366.40 L306.97,2366.52 L308.89,2366.65 L310.82,2366.77 L312.75,2366.89 L314.67,2367.01 L316.60,2367.12 L318.52,2367.23 L320.45,2367.34 L322.37,2367.43 L324.29,2367.52 L326.20,2367.61 L328.12,2367.68 L330.03,2367.74 L331.93,2367.80 L333.84,2367.84 L335.73,2367.86 L337.63,2367.87 L339.52,2367.87 L341.40,2367.85 L343.28,2367.82 L345.15,2367.76 L347.02,2367.69 L348.87,2367.60 L350.73,2367.48 L352.57,2367.35 L354.41,2367.19 L356.23,2367.01 L358.05,2366.80 L359.86,2366.57 L361.67,2366.31 L363.46,2366.02 L365.24,2365.70 L367.01,2365.36 L368.77,2364.98 L370.52,2364.57 L372.26,2364.13 L373.99,2363.66 L375.70,2363.15 L377.40,2362.60 L379.09,2362.02 L380.77,2361.40 L382.43,2360.75 L384.08,2360.06 L385.72,2359.33 L387.35,2358.57 L388.96,2357.78 L390.56,2356.95 L392.16,2356.10 L393.74,2355.21 L395.31,2354.30 L396.87,2353.35 L398.42,2352.38 L399.96,2351.39 L401.49,2350.36 L403.01,2349.31 L404.52,2348.24 L406.03,2347.15 L407.52,2346.03 L409.01,2344.89 L410.49,2343.73 L411.96,2342.55 L413.43,2341.35 L414.88,2340.14 L416.34,2338.91 L417.78,2337.66 L419.22,2336.40 L420.65,2335.12 L422.08,2333.84 L423.50,2332.53 L424.92,2331.22 L426.33,2329.90 L427.74,2328.57 L429.15,2327.23 L430.55,2325.88 L431.94,2324.53 L433.34,2323.16 L434.73,2321.80 L436.11,2320.43 L437.50,2319.06 L438.88,2317.68 L440.26,2316.31 L441.64,2314.93 L443.02,2313.56 L444.40,2312.18 L445.78,2310.81 L447.15,2309.44 L448.53,2308.08 L449.91,2306.72 L451.28,2305.37 L452.66,2304.02 L454.04,2302.68 L455.42,2301.35 L456.80,2300.03 L458.18,2298.72 L459.57,2297.43 L460.96,2296.14 L462.35,2294.86 L463.74,2293.60 L465.13,2292.34 L466.53,2291.10 L467.93,2289.86 L469.33,2288.64 L470.73,2287.42 L472.14,2286.21 L473.55,2285.01 L474.96,2283.82 L476.37,2282.63 L477.79,2281.45 L479.20,2280.28 L480.62,2279.12 L482.05,2277.96 L483.47,2276.81 L484.90,2275.66 L486.33,2274.52 L487.77,2273.38 L489.20,2272.25 L490.64,2271.12 L492.08,2269.99 L493.53,2268.87 L494.97,2267.75 L496.42,2266.64 L497.88,2265.52 L499.33,2264.41 L500.79,2263.30 L502.25,2262.19 L503.71,2261.08 L505.18,2259.98 L506.65,2258.87 L508.12,2257.76 L509.60,2256.66 L511.08,2255.55 L512.56,2254.44 L514.04,2253.33 L515.53,2252.22 L517.02,2251.11 L518.52,2250.00 L520.02,2248.89 L521.52,2247.78 L523.03,2246.68 L524.55,2245.57 L526.06,2244.46 L527.59,2243.35 L529.11,2242.25 L530.65,2241.15 L532.18,2240.04 L533.73,2238.94 L535.28,2237.85 L536.83,2236.75 L538.40,2235.66 L539.96,2234.57 L541.54,2233.48 L543.12,2232.40 L544.71,2231.32 L546.30,2230.25 L547.91,2229.17 L549.52,2228.11 L551.13,2227.04 L552.76,2225.98 L554.39,2224.93 L556.04,2223.88 L557.69,2222.84 L559.35,2221.80 L561.01,2220.77 L562.69,2219.74 L564.38,2218.72 L566.07,2217.71 L567.77,2216.72 L569.48,2215.75 L571.20,2214.81 L572.93,2213.91 L574.66,2213.06 L576.40,2212.26 L578.15,2211.52 L579.90,2210.84 L581.65,2210.24 L583.41,2209.71 L585.17,2209.28 L586.94,2208.92 L588.69,2208.66 L590.44,2208.47 L592.18,2208.38 L593.90,2208.37 L595.61,2208.45 L597.29,2208.62 L598.94,2208.88 L600.57,2209.23 L602.16,2209.67 L603.71,2210.20 L605.23,2210.82 L606.70,2211.53 L608.12,2212.33 L609.48,2213.23 L610.80,2214.22 L612.06,2215.30 L613.26,2216.46 L614.42,2217.70 L615.52,2219.03 L616.58,2220.42 L617.60,2221.89 L618.57,2223.42 L619.50,2225.01 L620.39,2226.66 L621.24,2228.36 L622.05,2230.11 L622.83,2231.91 L623.58,2233.74 L624.30,2235.61 L624.99,2237.52 L625.65,2239.45 L626.29,2241.40 L626.90,2243.38 L627.49,2245.37 L628.07,2247.38 L628.62,2249.39 L629.16,2251.40 L629.68,2253.42 L630.19,2255.43 L630.70,2257.43 L631.19,2259.42 L631.67,2261.39 L632.15,2263.34 L632.63,2265.26 L633.11,2267.17 L633.58,2269.05 L634.05,2270.90 L634.51,2272.74 L634.98,2274.56 L635.44,2276.37 L635.90,2278.16 L636.35,2279.93 L636.81,2281.70 L637.26,2283.45 L637.71,2285.20 L638.16,2286.94 L638.61,2288.67 L639.06,2290.41 L639.50,2292.13 L639.95,2293.86 L640.39,2295.59 L640.84,2297.33 L641.28,2299.06 L641.72,2300.81 L642.16,2302.56 L642.60,2304.32 L643.04,2306.09 L643.48,2307.87 L643.93,2309.65 L644.37,2311.44 L644.83,2313.23 L645.28,2315.03 L645.74,2316.84 L646.21,2318.65 L646.69,2320.46 L647.17,2322.27 L647.67,2324.08 L648.17,2325.90 L648.69,2327.72 L649.22,2329.53 L649.76,2331.34 L650.31,2333.16 L650.88,2334.97 L651.46,2336.77 L652.06,2338.57 L652.68,2340.37 L653.32,2342.16 L653.97,2343.95 L654.65,2345.73 L655.34,2347.50 L656.06,2349.26 L656.80,2351.02" fill="none" stroke="#054F0A" stroke-width="7" stroke-linejoin="round" stroke-linecap="round" clip-path="url(#ci)" />
<line x1="360.5" y1="1855.9" x2="360.5" y2="1864.4" stroke="#000" stroke-width="4.2" />
<line x1="360.5" y1="2376.6" x2="360.5" y2="2368.1" stroke="#000" stroke-width="4.2" />
<line x1="62.9" y1="1913.75" x2="71.4" y2="1913.75" stroke="#000" stroke-width="4.2" />
<line x1="62.9" y1="2029.5" x2="71.4" y2="2029.5" stroke="#000" stroke-width="4.2" />
<line x1="62.9" y1="2145.1" x2="71.4" y2="2145.1" stroke="#000" stroke-width="4.2" />
<line x1="62.9" y1="2260.8" x2="71.4" y2="2260.8" stroke="#000" stroke-width="4.2" />
<line x1="657" y1="1913.75" x2="648.5" y2="1913.75" stroke="#000" stroke-width="4.2" />
<line x1="657" y1="2029.5" x2="648.5" y2="2029.5" stroke="#000" stroke-width="4.2" />
<line x1="657" y1="2145.1" x2="648.5" y2="2145.1" stroke="#000" stroke-width="4.2" />
<line x1="657" y1="2260.8" x2="648.5" y2="2260.8" stroke="#000" stroke-width="4.2" />
<rect x="62.9" y="1855.9" width="594.1" height="520.7" fill="none" stroke="#262626" stroke-width="4.2"/>
<circle cx="103" cy="1900.75" r="12.2" fill="#A6CE39" />
<circle cx="103" cy="1937.35" r="12.2" fill="#33CC33" />
<circle cx="103" cy="1973.95" r="12.2" fill="#0B9651" />
<circle cx="103" cy="2010.55" r="12.2" fill="#054F0A" />
<clipPath id="cj"><rect x="789.6" y="1855.9" width="594.6" height="521.1"/></clipPath>
<path d="M789.19,2368.90 L792.25,2368.83 L795.31,2368.74 L798.35,2368.66 L801.39,2368.57 L804.43,2368.47 L807.46,2368.37 L810.48,2368.27 L813.50,2368.16 L816.51,2368.05 L819.52,2367.93 L822.52,2367.82 L825.51,2367.70 L828.50,2367.57 L831.49,2367.45 L834.47,2367.32 L837.45,2367.20 L840.43,2367.07 L843.40,2366.94 L846.37,2366.81 L849.33,2366.68 L852.29,2366.55 L855.25,2366.42 L858.20,2366.29 L861.16,2366.16 L864.11,2366.03 L867.06,2365.90 L870.00,2365.77 L872.95,2365.65 L875.89,2365.52 L878.83,2365.40 L881.77,2365.28 L884.71,2365.17 L887.65,2365.05 L890.58,2364.94 L893.52,2364.84 L896.46,2364.74 L899.40,2364.64 L902.33,2364.54 L905.27,2364.45 L908.21,2364.37 L911.15,2364.29 L914.08,2364.21 L917.02,2364.14 L919.97,2364.08 L922.91,2364.02 L925.85,2363.97 L928.80,2363.93 L931.75,2363.89 L934.70,2363.86 L937.65,2363.84 L940.61,2363.82 L943.57,2363.81 L946.53,2363.81 L949.50,2363.82 L952.46,2363.84 L955.44,2363.87 L958.41,2363.91 L961.39,2363.95 L964.38,2364.01 L967.36,2364.07 L970.36,2364.15 L973.35,2364.23 L976.36,2364.33 L979.36,2364.44 L982.38,2364.56 L985.40,2364.69 L988.42,2364.83 L991.45,2364.99 L994.49,2365.16 L997.53,2365.34 L1000.58,2365.53 L1003.63,2365.74 L1006.70,2365.96 L1009.77,2366.19 L1012.84,2366.44 L1015.93,2366.70 L1019.02,2366.98 L1022.12,2367.27 L1025.23,2367.57 L1028.34,2367.89 L1031.46,2368.21 L1034.57,2368.53 L1037.69,2368.84 L1040.80,2369.13 L1043.90,2369.41 L1046.99,2369.67 L1050.06,2369.89 L1053.12,2370.07 L1056.16,2370.22 L1059.18,2370.31 L1062.18,2370.35 L1065.14,2370.33 L1068.08,2370.25 L1070.99,2370.09 L1073.86,2369.85 L1076.69,2369.53 L1079.48,2369.12 L1082.22,2368.61 L1084.92,2368.01 L1087.57,2367.29 L1090.17,2366.47 L1092.71,2365.52 L1095.20,2364.45 L1097.62,2363.25 L1099.98,2361.91 L1102.28,2360.43 L1104.50,2358.80 L1106.66,2357.01 L1108.74,2355.07 L1110.75,2352.97 L1112.68,2350.73 L1114.54,2348.36 L1116.34,2345.88 L1118.06,2343.31 L1119.73,2340.65 L1121.32,2337.93 L1122.86,2335.16 L1124.34,2332.35 L1125.76,2329.52 L1127.12,2326.69 L1128.43,2323.87 L1129.69,2321.04 L1130.90,2318.22 L1132.07,2315.39 L1133.20,2312.57 L1134.28,2309.75 L1135.33,2306.93 L1136.34,2304.10 L1137.32,2301.28 L1138.27,2298.45 L1139.19,2295.62 L1140.09,2292.78 L1140.96,2289.94 L1141.82,2287.10 L1142.66,2284.25 L1143.49,2281.40 L1144.30,2278.53 L1145.10,2275.67 L1145.90,2272.79 L1146.68,2269.92 L1147.45,2267.03 L1148.21,2264.15 L1148.97,2261.26 L1149.71,2258.36 L1150.45,2255.46 L1151.18,2252.57 L1151.91,2249.66 L1152.63,2246.76 L1153.34,2243.85 L1154.05,2240.95 L1154.75,2238.04 L1155.45,2235.14 L1156.15,2232.23 L1156.85,2229.32 L1157.54,2226.42 L1158.23,2223.52 L1158.92,2220.62 L1159.61,2217.72 L1160.30,2214.82 L1160.99,2211.93 L1161.68,2209.04 L1162.37,2206.16 L1163.06,2203.27 L1163.76,2200.39 L1164.45,2197.52 L1165.15,2194.64 L1165.84,2191.77 L1166.54,2188.90 L1167.24,2186.03 L1167.94,2183.17 L1168.65,2180.30 L1169.35,2177.44 L1170.06,2174.58 L1170.77,2171.72 L1171.48,2168.86 L1172.19,2166.00 L1172.90,2163.14 L1173.62,2160.28 L1174.34,2157.43 L1175.06,2154.57 L1175.78,2151.71 L1176.51,2148.85 L1177.23,2146.00 L1177.97,2143.14 L1178.70,2140.28 L1179.43,2137.42 L1180.17,2134.56 L1180.91,2131.70 L1181.66,2128.83 L1182.40,2125.97 L1183.15,2123.10 L1183.91,2120.23 L1184.66,2117.36 L1185.42,2114.49 L1186.19,2111.61 L1186.95,2108.74 L1187.72,2105.86 L1188.49,2102.97 L1189.27,2100.09 L1190.05,2097.20 L1190.84,2094.30 L1191.62,2091.40 L1192.42,2088.50 L1193.21,2085.60 L1194.01,2082.69 L1194.81,2079.78 L1195.62,2076.86 L1196.44,2073.94 L1197.25,2071.01 L1198.08,2068.08 L1198.91,2065.15 L1199.76,2062.23 L1200.63,2059.30 L1201.51,2056.38 L1202.41,2053.47 L1203.33,2050.57 L1204.27,2047.67 L1205.24,2044.79 L1206.25,2041.93 L1207.28,2039.08 L1208.34,2036.24 L1209.45,2033.43 L1210.59,2030.63 L1211.77,2027.86 L1212.99,2025.12 L1214.26,2022.40 L1215.58,2019.71 L1216.94,2017.04 L1218.36,2014.41 L1219.83,2011.82 L1221.36,2009.26 L1222.95,2006.73 L1224.60,2004.25 L1226.32,2001.80 L1228.10,1999.40 L1229.95,1997.04 L1231.87,1994.73 L1233.87,1992.46 L1235.94,1990.25 L1238.08,1988.08 L1240.31,1985.97 L1242.62,1983.92 L1245.01,1981.93 L1247.47,1980.02 L1250.00,1978.21 L1252.58,1976.53 L1255.21,1974.97 L1257.89,1973.57 L1260.59,1972.34 L1263.33,1971.29 L1266.08,1970.45 L1268.85,1969.83 L1271.62,1969.45 L1274.39,1969.32 L1277.14,1969.46 L1279.88,1969.88 L1282.57,1970.54 L1285.21,1971.45 L1287.78,1972.58 L1290.27,1973.93 L1292.66,1975.46 L1294.93,1977.18 L1297.07,1979.07 L1299.06,1981.10 L1300.90,1983.28 L1302.59,1985.58 L1304.15,1988.00 L1305.58,1990.53 L1306.89,1993.16 L1308.10,1995.88 L1309.21,1998.67 L1310.22,2001.54 L1311.16,2004.47 L1312.03,2007.45 L1312.83,2010.46 L1313.59,2013.51 L1314.30,2016.58 L1314.98,2019.66 L1315.64,2022.74 L1316.29,2025.82 L1316.91,2028.89 L1317.53,2031.95 L1318.13,2035.01 L1318.71,2038.07 L1319.29,2041.11 L1319.84,2044.15 L1320.39,2047.19 L1320.92,2050.22 L1321.44,2053.24 L1321.95,2056.26 L1322.45,2059.28 L1322.94,2062.29 L1323.41,2065.29 L1323.87,2068.29 L1324.32,2071.29 L1324.77,2074.28 L1325.20,2077.27 L1325.62,2080.25 L1326.03,2083.23 L1326.43,2086.21 L1326.83,2089.18 L1327.21,2092.15 L1327.59,2095.11 L1327.96,2098.07 L1328.32,2101.03 L1328.67,2103.99 L1329.01,2106.94 L1329.35,2109.89 L1329.68,2112.84 L1330.01,2115.79 L1330.33,2118.73 L1330.64,2121.67 L1330.95,2124.61 L1331.25,2127.54 L1331.54,2130.48 L1331.84,2133.41 L1332.12,2136.34 L1332.41,2139.28 L1332.68,2142.20 L1332.96,2145.13 L1333.23,2148.06 L1333.50,2150.99 L1333.76,2153.91 L1334.03,2156.84 L1334.29,2159.76 L1334.55,2162.68 L1334.80,2165.61 L1335.06,2168.53 L1335.31,2171.46 L1335.57,2174.38 L1335.82,2177.30 L1336.07,2180.23 L1336.32,2183.16 L1336.58,2186.08 L1336.83,2189.01 L1337.08,2191.94 L1337.34,2194.87 L1337.59,2197.80 L1337.85,2200.73 L1338.11,2203.66 L1338.37,2206.60 L1338.64,2209.53 L1338.91,2212.47 L1339.18,2215.41 L1339.45,2218.36 L1339.73,2221.30 L1340.01,2224.25 L1340.29,2227.20 L1340.58,2230.15 L1340.88,2233.11 L1341.18,2236.07 L1341.48,2239.03 L1341.79,2242.00 L1342.11,2244.96 L1342.43,2247.94 L1342.76,2250.91 L1343.10,2253.89 L1343.44,2256.88 L1343.79,2259.86 L1344.15,2262.86 L1344.51,2265.85 L1344.89,2268.85 L1345.27,2271.86 L1345.66,2274.87 L1346.06,2277.88 L1346.47,2280.90 L1346.88,2283.93 L1347.31,2286.96 L1347.76,2289.99 L1348.22,2293.01 L1348.70,2296.04 L1349.21,2299.06 L1349.75,2302.07 L1350.32,2305.07 L1350.92,2308.06 L1351.56,2311.03 L1352.25,2313.98 L1352.97,2316.91 L1353.75,2319.81 L1354.58,2322.69 L1355.47,2325.54 L1356.41,2328.36 L1357.41,2331.15 L1358.48,2333.89 L1359.62,2336.60 L1360.83,2339.27 L1362.12,2341.90 L1363.49,2344.47 L1364.94,2347.00 L1366.47,2349.48 L1368.10,2351.90 L1369.81,2354.27 L1371.62,2356.57 L1373.54,2358.82 L1375.55,2361.00 L1377.67,2363.11 L1379.90,2365.15 L1382.24,2367.12 L1384.70,2369.02" fill="none" stroke="#4DAF3E" stroke-width="7" stroke-linejoin="round" stroke-linecap="round" clip-path="url(#cj)" />
<path d="M789.31,2360.04 L792.74,2359.45 L796.18,2358.86 L799.62,2358.28 L803.06,2357.72 L806.51,2357.16 L809.96,2356.61 L813.42,2356.08 L816.88,2355.55 L820.35,2355.04 L823.81,2354.54 L827.28,2354.05 L830.76,2353.57 L834.24,2353.11 L837.72,2352.66 L841.20,2352.22 L844.69,2351.80 L848.17,2351.39 L851.66,2350.99 L855.15,2350.61 L858.65,2350.25 L862.14,2349.89 L865.64,2349.56 L869.14,2349.24 L872.64,2348.94 L876.14,2348.65 L879.64,2348.38 L883.14,2348.13 L886.65,2347.90 L890.15,2347.68 L893.65,2347.48 L897.16,2347.30 L900.66,2347.14 L904.16,2347.00 L907.66,2346.88 L911.17,2346.78 L914.67,2346.69 L918.17,2346.63 L921.67,2346.59 L925.16,2346.57 L928.66,2346.57 L932.15,2346.59 L935.65,2346.64 L939.14,2346.70 L942.63,2346.79 L946.11,2346.90 L949.60,2347.03 L953.09,2347.19 L956.57,2347.36 L960.05,2347.55 L963.54,2347.77 L967.02,2348.00 L970.51,2348.25 L973.99,2348.53 L977.48,2348.82 L980.97,2349.13 L984.46,2349.45 L987.95,2349.80 L991.44,2350.16 L994.94,2350.54 L998.44,2350.93 L1001.94,2351.35 L1005.44,2351.77 L1008.95,2352.22 L1012.46,2352.68 L1015.97,2353.15 L1019.49,2353.64 L1023.02,2354.15 L1026.54,2354.66 L1030.08,2355.20 L1033.61,2355.74 L1037.16,2356.30 L1040.71,2356.87 L1044.26,2357.45 L1047.82,2358.05 L1051.39,2358.66 L1054.97,2359.27 L1058.55,2359.90 L1062.13,2360.53 L1065.68,2361.11 L1069.18,2361.60 L1072.60,2361.95 L1075.91,2362.11 L1079.08,2362.05 L1082.09,2361.70 L1084.91,2361.04 L1087.51,2360.01 L1089.89,2358.61 L1092.06,2356.86 L1094.04,2354.78 L1095.83,2352.41 L1097.45,2349.76 L1098.91,2346.86 L1100.24,2343.74 L1101.42,2340.41 L1102.50,2336.90 L1103.46,2333.24 L1104.33,2329.45 L1105.13,2325.55 L1105.86,2321.57 L1106.53,2317.54 L1107.16,2313.47 L1107.76,2309.39 L1108.35,2305.33 L1108.94,2301.30 L1109.54,2297.34 L1110.15,2293.44 L1110.77,2289.61 L1111.40,2285.83 L1112.04,2282.12 L1112.69,2278.45 L1113.35,2274.84 L1114.02,2271.27 L1114.69,2267.74 L1115.37,2264.26 L1116.06,2260.80 L1116.74,2257.39 L1117.43,2254.00 L1118.13,2250.64 L1118.82,2247.30 L1119.51,2243.98 L1120.20,2240.68 L1120.89,2237.38 L1121.58,2234.10 L1122.27,2230.83 L1122.95,2227.55 L1123.62,2224.28 L1124.29,2221.00 L1124.95,2217.72 L1125.60,2214.42 L1126.25,2211.11 L1126.88,2207.79 L1127.51,2204.45 L1128.12,2201.10 L1128.73,2197.73 L1129.34,2194.35 L1129.94,2190.96 L1130.53,2187.56 L1131.11,2184.15 L1131.70,2180.73 L1132.27,2177.30 L1132.85,2173.86 L1133.42,2170.41 L1133.99,2166.95 L1134.56,2163.49 L1135.13,2160.02 L1135.70,2156.55 L1136.27,2153.07 L1136.83,2149.59 L1137.40,2146.10 L1137.98,2142.61 L1138.55,2139.12 L1139.13,2135.63 L1139.71,2132.13 L1140.29,2128.64 L1140.88,2125.14 L1141.48,2121.65 L1142.08,2118.15 L1142.69,2114.66 L1143.31,2111.18 L1143.93,2107.69 L1144.56,2104.21 L1145.20,2100.73 L1145.85,2097.26 L1146.51,2093.79 L1147.18,2090.33 L1147.86,2086.86 L1148.55,2083.41 L1149.25,2079.95 L1149.97,2076.51 L1150.69,2073.06 L1151.43,2069.62 L1152.18,2066.19 L1152.94,2062.76 L1153.72,2059.33 L1154.52,2055.91 L1155.32,2052.50 L1156.14,2049.08 L1156.98,2045.68 L1157.84,2042.28 L1158.71,2038.88 L1159.59,2035.50 L1160.50,2032.11 L1161.42,2028.73 L1162.36,2025.36 L1163.32,2021.99 L1164.29,2018.63 L1165.29,2015.28 L1166.31,2011.93 L1167.34,2008.58 L1168.40,2005.25 L1169.48,2001.92 L1170.58,1998.59 L1171.70,1995.27 L1172.84,1991.96 L1174.01,1988.66 L1175.20,1985.36 L1176.41,1982.07 L1177.65,1978.78 L1178.91,1975.51 L1180.20,1972.24 L1181.53,1968.98 L1182.89,1965.75 L1184.29,1962.54 L1185.74,1959.35 L1187.24,1956.19 L1188.79,1953.07 L1190.40,1949.98 L1192.08,1946.94 L1193.83,1943.94 L1195.65,1940.99 L1197.55,1938.10 L1199.52,1935.26 L1201.58,1932.48 L1203.70,1929.75 L1205.90,1927.07 L1208.17,1924.45 L1210.50,1921.89 L1212.90,1919.38 L1215.37,1916.93 L1217.90,1914.53 L1220.49,1912.18 L1223.13,1909.89 L1225.84,1907.66 L1228.60,1905.48 L1231.41,1903.36 L1234.28,1901.29 L1237.19,1899.28 L1240.16,1897.33 L1243.17,1895.43 L1246.22,1893.59 L1249.31,1891.80 L1252.45,1890.07 L1255.62,1888.39 L1258.83,1886.77 L1262.08,1885.21 L1265.36,1883.70 L1268.67,1882.25 L1272.01,1880.85 L1275.37,1879.51 L1278.77,1878.23 L1282.18,1877.00 L1285.62,1875.83 L1289.08,1874.72 L1292.56,1873.66 L1296.05,1872.66 L1299.56,1871.72 L1303.07,1870.83 L1306.59,1870.03 L1310.09,1869.33 L1313.55,1868.77 L1316.95,1868.37 L1320.29,1868.15 L1323.54,1868.15 L1326.68,1868.39 L1329.71,1868.90 L1332.60,1869.69 L1335.33,1870.81 L1337.89,1872.28 L1340.26,1874.11 L1342.45,1876.29 L1344.47,1878.76 L1346.31,1881.49 L1348.00,1884.42 L1349.54,1887.51 L1350.93,1890.73 L1352.19,1894.01 L1353.33,1897.33 L1354.35,1900.69 L1355.25,1904.08 L1356.05,1907.50 L1356.74,1910.95 L1357.34,1914.43 L1357.85,1917.94 L1358.27,1921.47 L1358.62,1925.02 L1358.89,1928.59 L1359.09,1932.18 L1359.23,1935.79 L1359.31,1939.41 L1359.34,1943.05 L1359.33,1946.69 L1359.28,1950.35 L1359.19,1954.01 L1359.08,1957.68 L1358.94,1961.35 L1358.79,1965.02 L1358.63,1968.69 L1358.46,1972.36 L1358.29,1976.03 L1358.12,1979.69 L1357.97,1983.34 L1357.84,1986.98 L1357.73,1990.61 L1357.64,1994.23 L1357.58,1997.84 L1357.54,2001.44 L1357.53,2005.02 L1357.54,2008.60 L1357.56,2012.16 L1357.61,2015.72 L1357.68,2019.26 L1357.77,2022.80 L1357.87,2026.33 L1357.99,2029.85 L1358.13,2033.36 L1358.28,2036.86 L1358.45,2040.36 L1358.63,2043.85 L1358.82,2047.34 L1359.02,2050.82 L1359.24,2054.29 L1359.46,2057.76 L1359.70,2061.23 L1359.94,2064.69 L1360.19,2068.15 L1360.45,2071.60 L1360.71,2075.05 L1360.98,2078.50 L1361.25,2081.95 L1361.53,2085.40 L1361.80,2088.84 L1362.08,2092.28 L1362.36,2095.73 L1362.64,2099.17 L1362.92,2102.61 L1363.20,2106.06 L1363.48,2109.50 L1363.75,2112.95 L1364.02,2116.40 L1364.28,2119.85 L1364.54,2123.31 L1364.79,2126.77 L1365.03,2130.23 L1365.26,2133.69 L1365.49,2137.16 L1365.71,2140.63 L1365.93,2144.11 L1366.14,2147.59 L1366.34,2151.07 L1366.54,2154.55 L1366.73,2158.04 L1366.92,2161.53 L1367.10,2165.02 L1367.28,2168.51 L1367.45,2172.01 L1367.62,2175.51 L1367.79,2179.01 L1367.96,2182.51 L1368.12,2186.02 L1368.28,2189.52 L1368.43,2193.03 L1368.59,2196.54 L1368.74,2200.05 L1368.90,2203.56 L1369.05,2207.08 L1369.20,2210.59 L1369.35,2214.10 L1369.50,2217.62 L1369.65,2221.14 L1369.80,2224.65 L1369.95,2228.17 L1370.11,2231.69 L1370.26,2235.21 L1370.42,2238.72 L1370.58,2242.24 L1370.74,2245.76 L1370.90,2249.28 L1371.07,2252.79 L1371.24,2256.31 L1371.41,2259.83 L1371.59,2263.34 L1371.77,2266.85 L1371.96,2270.37 L1372.16,2273.88 L1372.36,2277.39 L1372.57,2280.90 L1372.80,2284.40 L1373.04,2287.91 L1373.30,2291.41 L1373.58,2294.91 L1373.88,2298.40 L1374.20,2301.89 L1374.54,2305.38 L1374.91,2308.86 L1375.31,2312.34 L1375.73,2315.81 L1376.19,2319.28 L1376.68,2322.74 L1377.21,2326.20 L1377.78,2329.65 L1378.38,2333.09 L1379.02,2336.53 L1379.71,2339.96 L1380.44,2343.38 L1381.22,2346.80 L1382.05,2350.21 L1382.93,2353.61 L1383.86,2357.00 L1384.84,2360.39" fill="none" stroke="#2E8B3B" stroke-width="7" stroke-linejoin="round" stroke-linecap="round" clip-path="url(#cj)" />
<path d="M789.37,2377.74 L792.15,2377.14 L794.82,2376.42 L797.39,2375.59 L799.85,2374.65 L802.22,2373.60 L804.50,2372.46 L806.68,2371.21 L808.78,2369.88 L810.80,2368.45 L812.73,2366.94 L814.59,2365.34 L816.37,2363.67 L818.08,2361.92 L819.73,2360.10 L821.31,2358.22 L822.83,2356.27 L824.29,2354.26 L825.70,2352.20 L827.06,2350.08 L828.37,2347.91 L829.63,2345.70 L830.85,2343.45 L832.04,2341.16 L833.19,2338.84 L834.31,2336.49 L835.40,2334.11 L836.47,2331.71 L837.52,2329.29 L838.55,2326.86 L839.56,2324.41 L840.56,2321.96 L841.55,2319.50 L842.54,2317.05 L843.53,2314.59 L844.51,2312.14 L845.49,2309.70 L846.47,2307.26 L847.44,2304.82 L848.42,2302.38 L849.39,2299.95 L850.35,2297.52 L851.32,2295.09 L852.28,2292.67 L853.24,2290.25 L854.19,2287.83 L855.14,2285.42 L856.09,2283.01 L857.03,2280.60 L857.97,2278.19 L858.91,2275.79 L859.84,2273.40 L860.77,2271.00 L861.70,2268.61 L862.62,2266.22 L863.54,2263.84 L864.45,2261.46 L865.36,2259.08 L866.27,2256.70 L867.17,2254.33 L868.06,2251.96 L868.95,2249.59 L869.84,2247.23 L870.72,2244.87 L871.60,2242.52 L872.47,2240.16 L873.34,2237.81 L874.21,2235.46 L875.07,2233.11 L875.93,2230.77 L876.78,2228.42 L877.64,2226.08 L878.49,2223.74 L879.34,2221.40 L880.19,2219.06 L881.04,2216.72 L881.88,2214.38 L882.73,2212.04 L883.57,2209.70 L884.42,2207.36 L885.26,2205.02 L886.11,2202.68 L886.95,2200.33 L887.80,2197.99 L888.65,2195.64 L889.50,2193.29 L890.35,2190.94 L891.21,2188.59 L892.07,2186.23 L892.92,2183.87 L893.79,2181.51 L894.65,2179.15 L895.52,2176.78 L896.40,2174.40 L897.28,2172.03 L898.16,2169.65 L899.05,2167.26 L899.94,2164.87 L900.84,2162.48 L901.74,2160.08 L902.65,2157.67 L903.56,2155.26 L904.49,2152.84 L905.42,2150.42 L906.35,2147.99 L907.30,2145.55 L908.25,2143.11 L909.21,2140.66 L910.17,2138.20 L911.15,2135.74 L912.14,2133.27 L913.13,2130.78 L914.13,2128.30 L915.15,2125.80 L916.17,2123.29 L917.21,2120.78 L918.25,2118.25 L919.31,2115.72 L920.38,2113.19 L921.47,2110.67 L922.59,2108.16 L923.73,2105.66 L924.90,2103.19 L926.11,2100.76 L927.35,2098.36 L928.64,2096.01 L929.97,2093.71 L931.35,2091.46 L932.78,2089.28 L934.26,2087.17 L935.81,2085.14 L937.42,2083.19 L939.10,2081.34 L940.85,2079.58 L942.67,2077.92 L944.57,2076.37 L946.54,2074.94 L948.58,2073.64 L950.68,2072.47 L952.82,2071.45 L955.01,2070.59 L957.23,2069.89 L959.48,2069.37 L961.73,2069.03 L964.00,2068.89 L966.26,2068.95 L968.51,2069.22 L970.75,2069.69 L972.96,2070.36 L975.13,2071.22 L977.27,2072.24 L979.36,2073.43 L981.40,2074.77 L983.38,2076.25 L985.29,2077.86 L987.13,2079.59 L988.88,2081.43 L990.55,2083.37 L992.13,2085.39 L993.61,2087.50 L995.00,2089.68 L996.31,2091.94 L997.55,2094.26 L998.71,2096.64 L999.80,2099.07 L1000.83,2101.54 L1001.80,2104.06 L1002.71,2106.62 L1003.57,2109.20 L1004.39,2111.82 L1005.17,2114.44 L1005.91,2117.09 L1006.62,2119.74 L1007.31,2122.39 L1007.97,2125.04 L1008.62,2127.67 L1009.25,2130.30 L1009.87,2132.91 L1010.47,2135.51 L1011.07,2138.09 L1011.65,2140.67 L1012.22,2143.23 L1012.78,2145.78 L1013.33,2148.32 L1013.87,2150.85 L1014.40,2153.38 L1014.93,2155.89 L1015.44,2158.40 L1015.95,2160.90 L1016.45,2163.39 L1016.94,2165.88 L1017.42,2168.36 L1017.90,2170.83 L1018.38,2173.30 L1018.85,2175.77 L1019.31,2178.23 L1019.77,2180.69 L1020.23,2183.14 L1020.68,2185.60 L1021.13,2188.05 L1021.58,2190.50 L1022.03,2192.95 L1022.47,2195.40 L1022.92,2197.85 L1023.36,2200.30 L1023.80,2202.76 L1024.25,2205.21 L1024.69,2207.67 L1025.14,2210.12 L1025.58,2212.58 L1026.02,2215.04 L1026.47,2217.50 L1026.92,2219.96 L1027.37,2222.42 L1027.82,2224.89 L1028.27,2227.35 L1028.72,2229.82 L1029.18,2232.29 L1029.63,2234.76 L1030.09,2237.23 L1030.56,2239.70 L1031.02,2242.18 L1031.49,2244.66 L1031.96,2247.14 L1032.44,2249.62 L1032.92,2252.10 L1033.40,2254.59 L1033.89,2257.08 L1034.38,2259.57 L1034.88,2262.06 L1035.38,2264.56 L1035.88,2267.06 L1036.39,2269.56 L1036.91,2272.06 L1037.43,2274.57 L1037.96,2277.08 L1038.49,2279.59 L1039.03,2282.10 L1039.58,2284.62 L1040.13,2287.14 L1040.69,2289.67 L1041.26,2292.19 L1041.83,2294.73 L1042.41,2297.26 L1043.00,2299.80 L1043.59,2302.34 L1044.20,2304.88 L1044.81,2307.43 L1045.43,2309.98 L1046.06,2312.54 L1046.69,2315.10 L1047.34,2317.66 L1048.00,2320.23 L1048.66,2322.80 L1049.34,2325.37 L1050.02,2327.95 L1050.71,2330.53 L1051.43,2333.11 L1052.16,2335.68 L1052.92,2338.24 L1053.73,2340.77 L1054.57,2343.27 L1055.46,2345.73 L1056.41,2348.16 L1057.43,2350.53 L1058.51,2352.84 L1059.67,2355.09 L1060.91,2357.28 L1062.24,2359.38 L1063.67,2361.40 L1065.20,2363.33 L1066.83,2365.16 L1068.57,2366.89 L1070.39,2368.52 L1072.30,2370.02 L1074.29,2371.41 L1076.35,2372.67 L1078.48,2373.81 L1080.66,2374.80 L1082.90,2375.66 L1085.19,2376.36 L1087.52,2376.91 L1089.88,2377.32 L1092.28,2377.58 L1094.70,2377.70 L1097.16,2377.71 L1099.64,2377.61 L1102.14,2377.40 L1104.66,2377.11 L1107.20,2376.73 L1109.76,2376.29 L1112.33,2375.78 L1114.90,2375.23 L1117.49,2374.64 L1120.08,2374.02 L1122.67,2373.38 L1125.26,2372.73 L1127.84,2372.08 L1130.43,2371.43 L1133.01,2370.79 L1135.58,2370.15 L1138.16,2369.52 L1140.73,2368.89 L1143.29,2368.26 L1145.86,2367.64 L1148.42,2367.03 L1150.98,2366.43 L1153.53,2365.83 L1156.09,2365.24 L1158.64,2364.66 L1161.18,2364.08 L1163.73,2363.52 L1166.27,2362.97 L1168.81,2362.43 L1171.35,2361.90 L1173.89,2361.38 L1176.42,2360.87 L1178.95,2360.38 L1181.48,2359.90 L1184.01,2359.44 L1186.53,2358.99 L1189.06,2358.55 L1191.58,2358.13 L1194.10,2357.73 L1196.62,2357.34 L1199.13,2356.97 L1201.65,2356.62 L1204.16,2356.29 L1206.67,2355.97 L1209.18,2355.68 L1211.69,2355.41 L1214.20,2355.15 L1216.71,2354.92 L1219.21,2354.71 L1221.72,2354.52 L1224.22,2354.36 L1226.73,2354.22 L1229.23,2354.10 L1231.73,2354.01 L1234.23,2353.94 L1236.73,2353.90 L1239.23,2353.88 L1241.72,2353.89 L1244.22,2353.93 L1246.72,2354.00 L1249.22,2354.09 L1251.71,2354.22 L1254.21,2354.37 L1256.71,2354.55 L1259.20,2354.77 L1261.70,2355.01 L1264.20,2355.29 L1266.69,2355.60 L1269.19,2355.94 L1271.68,2356.31 L1274.18,2356.72 L1276.68,2357.16 L1279.18,2357.64 L1281.67,2358.16 L1284.17,2358.71 L1286.67,2359.29 L1289.17,2359.90 L1291.67,2360.54 L1294.17,2361.20 L1296.67,2361.89 L1299.18,2362.59 L1301.68,2363.31 L1304.18,2364.04 L1306.69,2364.78 L1309.19,2365.53 L1311.70,2366.29 L1314.21,2367.04 L1316.71,2367.80 L1319.22,2368.55 L1321.73,2369.30 L1324.24,2370.03 L1326.75,2370.76 L1329.26,2371.47 L1331.78,2372.16 L1334.29,2372.83 L1336.80,2373.48 L1339.32,2374.10 L1341.84,2374.69 L1344.36,2375.26 L1346.87,2375.78 L1349.40,2376.27 L1351.92,2376.72 L1354.44,2377.13 L1356.96,2377.49 L1359.49,2377.80 L1362.01,2378.07 L1364.54,2378.27 L1367.07,2378.42 L1369.60,2378.52 L1372.13,2378.54 L1374.66,2378.51 L1377.20,2378.40 L1379.73,2378.23 L1382.27,2377.98 L1384.81,2377.65" fill="none" stroke="#E89D0C" stroke-width="7" stroke-linejoin="round" stroke-linecap="round" clip-path="url(#cj)" />
<path d="M789.45,2357.07 L792.00,2355.84 L794.49,2354.54 L796.94,2353.19 L799.34,2351.78 L801.69,2350.32 L804.00,2348.80 L806.26,2347.24 L808.48,2345.62 L810.66,2343.96 L812.81,2342.25 L814.91,2340.50 L816.97,2338.71 L819.00,2336.87 L820.99,2334.99 L822.95,2333.08 L824.88,2331.13 L826.78,2329.14 L828.64,2327.12 L830.48,2325.07 L832.28,2322.99 L834.06,2320.88 L835.82,2318.74 L837.55,2316.57 L839.25,2314.39 L840.94,2312.17 L842.60,2309.94 L844.25,2307.69 L845.87,2305.42 L847.48,2303.13 L849.07,2300.83 L850.64,2298.51 L852.21,2296.18 L853.76,2293.84 L855.29,2291.50 L856.82,2289.14 L858.34,2286.78 L859.85,2284.41 L861.35,2282.05 L862.85,2279.68 L864.34,2277.31 L865.83,2274.94 L867.32,2272.58 L868.81,2270.22 L870.29,2267.87 L871.78,2265.52 L873.27,2263.19 L874.77,2260.86 L876.27,2258.55 L877.78,2256.26 L879.29,2253.98 L880.81,2251.71 L882.34,2249.47 L883.88,2247.25 L885.44,2245.04 L887.01,2242.86 L888.59,2240.70 L890.20,2238.55 L891.82,2236.41 L893.46,2234.29 L895.13,2232.19 L896.83,2230.09 L898.55,2228.00 L900.30,2225.92 L902.09,2223.84 L903.91,2221.77 L905.76,2219.70 L907.66,2217.63 L909.59,2215.56 L911.56,2213.49 L913.58,2211.41 L915.64,2209.33 L917.75,2207.24 L919.91,2205.15 L922.12,2203.05 L924.37,2200.98 L926.67,2198.95 L929.00,2196.99 L931.36,2195.10 L933.76,2193.31 L936.18,2191.65 L938.62,2190.12 L941.09,2188.75 L943.56,2187.56 L946.06,2186.56 L948.56,2185.79 L951.06,2185.24 L953.57,2184.96 L956.07,2184.94 L958.57,2185.22 L961.06,2185.78 L963.53,2186.59 L965.98,2187.64 L968.40,2188.91 L970.78,2190.38 L973.13,2192.03 L975.43,2193.83 L977.68,2195.77 L979.87,2197.82 L982.00,2199.97 L984.06,2202.20 L986.04,2204.47 L987.95,2206.78 L989.77,2209.11 L991.52,2211.46 L993.19,2213.82 L994.78,2216.20 L996.31,2218.59 L997.78,2220.99 L999.19,2223.41 L1000.55,2225.83 L1001.85,2228.27 L1003.11,2230.72 L1004.33,2233.18 L1005.52,2235.65 L1006.67,2238.12 L1007.79,2240.60 L1008.89,2243.09 L1009.97,2245.59 L1011.03,2248.09 L1012.09,2250.59 L1013.13,2253.10 L1014.18,2255.61 L1015.22,2258.13 L1016.27,2260.64 L1017.33,2263.16 L1018.40,2265.68 L1019.47,2268.20 L1020.55,2270.71 L1021.64,2273.23 L1022.75,2275.75 L1023.86,2278.26 L1024.98,2280.78 L1026.12,2283.29 L1027.26,2285.80 L1028.42,2288.31 L1029.59,2290.81 L1030.78,2293.31 L1031.98,2295.81 L1033.19,2298.30 L1034.42,2300.79 L1035.66,2303.27 L1036.93,2305.75 L1038.20,2308.22 L1039.50,2310.69 L1040.81,2313.15 L1042.15,2315.60 L1043.50,2318.04 L1044.87,2320.48 L1046.27,2322.90 L1047.71,2325.30 L1049.19,2327.67 L1050.71,2330.02 L1052.29,2332.33 L1053.93,2334.60 L1055.64,2336.83 L1057.42,2339.01 L1059.28,2341.14 L1061.23,2343.20 L1063.26,2345.20 L1065.40,2347.13 L1067.64,2348.99 L1069.99,2350.76 L1072.42,2352.40 L1074.91,2353.87 L1077.44,2355.13 L1079.99,2356.14 L1082.53,2356.84 L1085.04,2357.21 L1087.51,2357.19 L1089.90,2356.77 L1092.23,2355.98 L1094.49,2354.87 L1096.70,2353.47 L1098.85,2351.83 L1100.94,2349.98 L1102.99,2347.96 L1104.98,2345.83 L1106.94,2343.61 L1108.85,2341.35 L1110.72,2339.07 L1112.55,2336.78 L1114.35,2334.47 L1116.10,2332.16 L1117.83,2329.83 L1119.51,2327.49 L1121.16,2325.14 L1122.78,2322.77 L1124.36,2320.40 L1125.90,2318.01 L1127.42,2315.62 L1128.90,2313.21 L1130.35,2310.80 L1131.77,2308.38 L1133.16,2305.95 L1134.52,2303.51 L1135.85,2301.06 L1137.16,2298.60 L1138.43,2296.14 L1139.68,2293.67 L1140.90,2291.20 L1142.10,2288.71 L1143.28,2286.22 L1144.43,2283.73 L1145.56,2281.23 L1146.67,2278.72 L1147.75,2276.21 L1148.82,2273.69 L1149.87,2271.17 L1150.91,2268.64 L1151.93,2266.11 L1152.93,2263.57 L1153.92,2261.03 L1154.89,2258.49 L1155.85,2255.94 L1156.80,2253.38 L1157.74,2250.83 L1158.67,2248.27 L1159.59,2245.71 L1160.51,2243.15 L1161.42,2240.58 L1162.32,2238.01 L1163.21,2235.44 L1164.11,2232.87 L1164.99,2230.29 L1165.88,2227.72 L1166.77,2225.14 L1167.66,2222.57 L1168.54,2219.99 L1169.43,2217.41 L1170.32,2214.83 L1171.22,2212.25 L1172.12,2209.68 L1173.02,2207.10 L1173.93,2204.52 L1174.85,2201.94 L1175.78,2199.37 L1176.72,2196.80 L1177.67,2194.22 L1178.62,2191.65 L1179.60,2189.09 L1180.58,2186.52 L1181.58,2183.96 L1182.59,2181.39 L1183.62,2178.84 L1184.67,2176.28 L1185.73,2173.73 L1186.81,2171.18 L1187.91,2168.64 L1189.04,2166.10 L1190.18,2163.56 L1191.35,2161.03 L1192.54,2158.50 L1193.76,2155.98 L1195.00,2153.46 L1196.27,2150.95 L1197.56,2148.44 L1198.88,2145.94 L1200.24,2143.45 L1201.62,2140.96 L1203.03,2138.48 L1204.48,2136.00 L1205.96,2133.53 L1207.47,2131.07 L1209.02,2128.62 L1210.60,2126.17 L1212.22,2123.73 L1213.88,2121.30 L1215.58,2118.88 L1217.32,2116.46 L1219.09,2114.06 L1220.91,2111.67 L1222.77,2109.33 L1224.66,2107.02 L1226.59,2104.78 L1228.55,2102.61 L1230.55,2100.53 L1232.58,2098.55 L1234.65,2096.68 L1236.74,2094.94 L1238.87,2093.34 L1241.02,2091.89 L1243.20,2090.60 L1245.41,2089.49 L1247.65,2088.58 L1249.91,2087.87 L1252.19,2087.38 L1254.49,2087.11 L1256.82,2087.10 L1259.16,2087.33 L1261.53,2087.84 L1263.91,2088.63 L1266.29,2089.66 L1268.67,2090.92 L1271.04,2092.37 L1273.38,2094.01 L1275.68,2095.79 L1277.94,2097.70 L1280.13,2099.71 L1282.27,2101.80 L1284.32,2103.94 L1286.29,2106.11 L1288.18,2108.32 L1289.99,2110.56 L1291.72,2112.83 L1293.38,2115.14 L1294.97,2117.47 L1296.48,2119.83 L1297.93,2122.22 L1299.32,2124.63 L1300.65,2127.07 L1301.91,2129.53 L1303.12,2132.02 L1304.27,2134.53 L1305.38,2137.06 L1306.43,2139.60 L1307.44,2142.17 L1308.40,2144.76 L1309.32,2147.36 L1310.20,2149.98 L1311.05,2152.61 L1311.86,2155.26 L1312.64,2157.92 L1313.39,2160.59 L1314.11,2163.27 L1314.81,2165.97 L1315.49,2168.67 L1316.15,2171.37 L1316.79,2174.09 L1317.41,2176.81 L1318.03,2179.53 L1318.63,2182.26 L1319.23,2184.99 L1319.82,2187.72 L1320.42,2190.45 L1321.01,2193.18 L1321.60,2195.91 L1322.21,2198.64 L1322.82,2201.36 L1323.44,2204.08 L1324.07,2206.79 L1324.72,2209.49 L1325.39,2212.19 L1326.07,2214.88 L1326.78,2217.55 L1327.51,2220.22 L1328.26,2222.88 L1329.03,2225.53 L1329.81,2228.18 L1330.61,2230.82 L1331.42,2233.45 L1332.25,2236.08 L1333.09,2238.71 L1333.94,2241.33 L1334.80,2243.94 L1335.67,2246.56 L1336.55,2249.17 L1337.43,2251.78 L1338.32,2254.39 L1339.22,2257.00 L1340.11,2259.60 L1341.01,2262.21 L1341.91,2264.83 L1342.81,2267.44 L1343.71,2270.05 L1344.60,2272.67 L1345.50,2275.30 L1346.38,2277.92 L1347.26,2280.56 L1348.14,2283.20 L1349.01,2285.84 L1349.87,2288.49 L1350.73,2291.14 L1351.60,2293.78 L1352.46,2296.43 L1353.34,2299.08 L1354.23,2301.72 L1355.14,2304.35 L1356.06,2306.97 L1357.00,2309.59 L1357.97,2312.19 L1358.96,2314.77 L1359.98,2317.34 L1361.04,2319.90 L1362.13,2322.43 L1363.26,2324.94 L1364.43,2327.43 L1365.65,2329.90 L1366.91,2332.34 L1368.23,2334.75 L1369.60,2337.13 L1371.03,2339.48 L1372.52,2341.79 L1374.07,2344.07 L1375.69,2346.31 L1377.38,2348.52 L1379.14,2350.68 L1380.98,2352.80 L1382.89,2354.87 L1384.89,2356.90" fill="none" stroke="#894AA2" stroke-width="7" stroke-linejoin="round" stroke-linecap="round" clip-path="url(#cj)" />
<line x1="1087" y1="1855.9" x2="1087" y2="1864.4" stroke="#000" stroke-width="4.2" />
<line x1="1087" y1="2377" x2="1087" y2="2368.5" stroke="#000" stroke-width="4.2" />
<line x1="789.6" y1="1960" x2="798.1" y2="1960" stroke="#000" stroke-width="4.2" />
<line x1="789.6" y1="2064.5" x2="798.1" y2="2064.5" stroke="#000" stroke-width="4.2" />
<line x1="789.6" y1="2168.8" x2="798.1" y2="2168.8" stroke="#000" stroke-width="4.2" />
<line x1="789.6" y1="2273.1" x2="798.1" y2="2273.1" stroke="#000" stroke-width="4.2" />
<line x1="1384.2" y1="1960" x2="1375.7" y2="1960" stroke="#000" stroke-width="4.2" />
<line x1="1384.2" y1="2064.5" x2="1375.7" y2="2064.5" stroke="#000" stroke-width="4.2" />
<line x1="1384.2" y1="2168.8" x2="1375.7" y2="2168.8" stroke="#000" stroke-width="4.2" />
<line x1="1384.2" y1="2273.1" x2="1375.7" y2="2273.1" stroke="#000" stroke-width="4.2" />
<rect x="789.6" y="1855.9" width="594.6" height="521.1" fill="none" stroke="#262626" stroke-width="4.2"/>
<circle cx="822" cy="1894.5" r="12.2" fill="#4DAF3E" />
<circle cx="822" cy="1931.3" r="12.2" fill="#2E8B3B" />
<circle cx="822" cy="1968.1" r="12.2" fill="#E89D0C" />
<circle cx="822" cy="2004.9" r="12.2" fill="#894AA2" />
<clipPath id="ck"><rect x="1514.75" y="1855.9" width="595.75" height="521.5"/></clipPath>
<path d="M1514.06,2362.25 L1517.48,2362.05 L1520.89,2361.82 L1524.28,2361.56 L1527.67,2361.28 L1531.05,2360.98 L1534.42,2360.66 L1537.78,2360.31 L1541.13,2359.95 L1544.48,2359.57 L1547.81,2359.17 L1551.14,2358.76 L1554.47,2358.33 L1557.78,2357.89 L1561.09,2357.44 L1564.40,2356.97 L1567.70,2356.50 L1570.99,2356.02 L1574.28,2355.54 L1577.57,2355.05 L1580.85,2354.55 L1584.12,2354.06 L1587.40,2353.56 L1590.67,2353.06 L1593.93,2352.56 L1597.20,2352.07 L1600.46,2351.58 L1603.72,2351.09 L1606.98,2350.61 L1610.24,2350.14 L1613.50,2349.68 L1616.75,2349.23 L1620.01,2348.79 L1623.27,2348.36 L1626.53,2347.94 L1629.78,2347.54 L1633.04,2347.16 L1636.30,2346.80 L1639.57,2346.45 L1642.83,2346.13 L1646.10,2345.83 L1649.37,2345.55 L1652.64,2345.29 L1655.92,2345.06 L1659.20,2344.86 L1662.48,2344.69 L1665.77,2344.54 L1669.06,2344.43 L1672.36,2344.35 L1675.67,2344.30 L1678.98,2344.28 L1682.29,2344.30 L1685.61,2344.36 L1688.94,2344.46 L1692.28,2344.60 L1695.62,2344.77 L1698.97,2344.99 L1702.33,2345.26 L1705.70,2345.57 L1709.08,2345.92 L1712.46,2346.32 L1715.86,2346.77 L1719.26,2347.27 L1722.68,2347.83 L1726.11,2348.43 L1729.54,2349.09 L1732.99,2349.80 L1736.45,2350.57 L1739.92,2351.40 L1743.40,2352.28 L1746.90,2353.23 L1750.40,2354.22 L1753.91,2355.25 L1757.42,2356.30 L1760.92,2357.35 L1764.41,2358.38 L1767.89,2359.39 L1771.35,2360.35 L1774.78,2361.24 L1778.19,2362.06 L1781.56,2362.78 L1784.89,2363.39 L1788.18,2363.87 L1791.41,2364.21 L1794.60,2364.39 L1797.73,2364.40 L1800.79,2364.21 L1803.78,2363.82 L1806.71,2363.20 L1809.55,2362.34 L1812.31,2361.23 L1814.99,2359.85 L1817.57,2358.21 L1820.05,2356.35 L1822.42,2354.28 L1824.69,2352.03 L1826.84,2349.61 L1828.86,2347.05 L1830.75,2344.37 L1832.51,2341.60 L1834.13,2338.75 L1835.62,2335.82 L1837.00,2332.83 L1838.26,2329.78 L1839.43,2326.68 L1840.51,2323.52 L1841.50,2320.32 L1842.42,2317.09 L1843.29,2313.82 L1844.10,2310.52 L1844.87,2307.20 L1845.60,2303.87 L1846.31,2300.52 L1847.01,2297.17 L1847.71,2293.82 L1848.41,2290.48 L1849.11,2287.14 L1849.81,2283.80 L1850.51,2280.47 L1851.22,2277.14 L1851.93,2273.82 L1852.64,2270.50 L1853.35,2267.18 L1854.06,2263.87 L1854.78,2260.56 L1855.50,2257.26 L1856.21,2253.96 L1856.93,2250.66 L1857.66,2247.36 L1858.38,2244.07 L1859.10,2240.78 L1859.82,2237.50 L1860.55,2234.22 L1861.27,2230.94 L1862.00,2227.66 L1862.72,2224.39 L1863.45,2221.11 L1864.18,2217.85 L1864.90,2214.58 L1865.63,2211.31 L1866.36,2208.05 L1867.08,2204.79 L1867.81,2201.53 L1868.54,2198.28 L1869.26,2195.02 L1869.98,2191.77 L1870.71,2188.52 L1871.43,2185.27 L1872.15,2182.02 L1872.87,2178.78 L1873.59,2175.53 L1874.31,2172.29 L1875.03,2169.05 L1875.74,2165.80 L1876.46,2162.56 L1877.17,2159.32 L1877.88,2156.08 L1878.59,2152.85 L1879.29,2149.61 L1880.00,2146.37 L1880.70,2143.13 L1881.40,2139.90 L1882.10,2136.66 L1882.79,2133.42 L1883.48,2130.19 L1884.17,2126.95 L1884.86,2123.71 L1885.54,2120.48 L1886.22,2117.24 L1886.90,2114.00 L1887.57,2110.76 L1888.24,2107.53 L1888.91,2104.29 L1889.58,2101.05 L1890.23,2097.80 L1890.89,2094.56 L1891.54,2091.32 L1892.19,2088.07 L1892.83,2084.83 L1893.47,2081.58 L1894.11,2078.33 L1894.74,2075.08 L1895.36,2071.83 L1895.99,2068.58 L1896.60,2065.32 L1897.21,2062.07 L1897.82,2058.81 L1898.42,2055.55 L1899.02,2052.28 L1899.61,2049.02 L1900.20,2045.75 L1900.79,2042.48 L1901.39,2039.21 L1901.98,2035.95 L1902.58,2032.68 L1903.19,2029.41 L1903.81,2026.14 L1904.44,2022.87 L1905.08,2019.61 L1905.74,2016.35 L1906.41,2013.08 L1907.10,2009.83 L1907.81,2006.57 L1908.54,2003.32 L1909.29,2000.07 L1910.07,1996.82 L1910.87,1993.58 L1911.71,1990.35 L1912.57,1987.11 L1913.47,1983.89 L1914.40,1980.67 L1915.36,1977.46 L1916.36,1974.25 L1917.40,1971.05 L1918.49,1967.86 L1919.61,1964.67 L1920.78,1961.49 L1922.00,1958.32 L1923.26,1955.16 L1924.57,1952.01 L1925.94,1948.87 L1927.36,1945.74 L1928.83,1942.61 L1930.36,1939.50 L1931.95,1936.40 L1933.60,1933.31 L1935.31,1930.24 L1937.09,1927.20 L1938.92,1924.20 L1940.82,1921.25 L1942.78,1918.36 L1944.81,1915.55 L1946.90,1912.82 L1949.05,1910.19 L1951.27,1907.66 L1953.55,1905.25 L1955.90,1902.97 L1958.32,1900.84 L1960.80,1898.85 L1963.35,1897.02 L1965.97,1895.37 L1968.66,1893.91 L1971.41,1892.64 L1974.24,1891.57 L1977.13,1890.73 L1980.10,1890.11 L1983.13,1889.73 L1986.23,1889.61 L1989.41,1889.74 L1992.65,1890.15 L1995.92,1890.81 L1999.18,1891.72 L2002.42,1892.87 L2005.60,1894.25 L2008.67,1895.86 L2011.63,1897.67 L2014.42,1899.69 L2017.02,1901.90 L2019.42,1904.30 L2021.62,1906.86 L2023.65,1909.56 L2025.50,1912.40 L2027.20,1915.36 L2028.77,1918.41 L2030.20,1921.55 L2031.53,1924.76 L2032.75,1928.01 L2033.90,1931.30 L2034.97,1934.60 L2035.98,1937.90 L2036.94,1941.21 L2037.85,1944.51 L2038.71,1947.80 L2039.52,1951.10 L2040.29,1954.40 L2041.02,1957.69 L2041.71,1960.98 L2042.37,1964.27 L2042.99,1967.56 L2043.58,1970.85 L2044.14,1974.14 L2044.68,1977.43 L2045.19,1980.71 L2045.68,1984.00 L2046.15,1987.29 L2046.61,1990.57 L2047.05,1993.86 L2047.48,1997.15 L2047.90,2000.44 L2048.31,2003.73 L2048.72,2007.02 L2049.13,2010.31 L2049.53,2013.60 L2049.93,2016.89 L2050.32,2020.18 L2050.71,2023.48 L2051.10,2026.77 L2051.48,2030.07 L2051.87,2033.37 L2052.24,2036.66 L2052.62,2039.96 L2052.99,2043.26 L2053.36,2046.56 L2053.73,2049.86 L2054.09,2053.16 L2054.45,2056.46 L2054.81,2059.77 L2055.17,2063.07 L2055.53,2066.37 L2055.88,2069.68 L2056.23,2072.98 L2056.58,2076.29 L2056.93,2079.59 L2057.28,2082.90 L2057.63,2086.21 L2057.97,2089.52 L2058.31,2092.82 L2058.66,2096.13 L2059.00,2099.44 L2059.34,2102.75 L2059.68,2106.06 L2060.02,2109.38 L2060.36,2112.69 L2060.70,2116.00 L2061.03,2119.31 L2061.37,2122.62 L2061.71,2125.94 L2062.05,2129.25 L2062.39,2132.57 L2062.73,2135.88 L2063.07,2139.20 L2063.41,2142.51 L2063.75,2145.83 L2064.09,2149.14 L2064.43,2152.46 L2064.77,2155.78 L2065.12,2159.09 L2065.46,2162.41 L2065.81,2165.73 L2066.16,2169.05 L2066.51,2172.36 L2066.86,2175.68 L2067.21,2179.00 L2067.57,2182.32 L2067.92,2185.64 L2068.28,2188.96 L2068.64,2192.28 L2069.01,2195.60 L2069.37,2198.92 L2069.74,2202.24 L2070.11,2205.56 L2070.49,2208.88 L2070.86,2212.20 L2071.24,2215.52 L2071.63,2218.84 L2072.01,2222.16 L2072.40,2225.48 L2072.80,2228.80 L2073.19,2232.12 L2073.59,2235.44 L2074.00,2238.76 L2074.41,2242.08 L2074.82,2245.40 L2075.23,2248.72 L2075.66,2252.04 L2076.08,2255.36 L2076.51,2258.68 L2076.94,2262.00 L2077.38,2265.32 L2077.83,2268.64 L2078.27,2271.96 L2078.73,2275.28 L2079.19,2278.60 L2079.65,2281.92 L2080.13,2285.23 L2080.62,2288.54 L2081.14,2291.85 L2081.68,2295.15 L2082.24,2298.43 L2082.85,2301.71 L2083.49,2304.98 L2084.17,2308.23 L2084.90,2311.46 L2085.69,2314.68 L2086.52,2317.87 L2087.42,2321.05 L2088.39,2324.20 L2089.42,2327.33 L2090.53,2330.43 L2091.72,2333.50 L2092.99,2336.55 L2094.34,2339.56 L2095.79,2342.54 L2097.33,2345.48 L2098.98,2348.39 L2100.73,2351.26 L2102.59,2354.09 L2104.56,2356.88 L2106.65,2359.63 L2108.87,2362.33" fill="none" stroke="#0072BD" stroke-width="7" stroke-linejoin="round" stroke-dasharray="7.5 4.5" clip-path="url(#ck)" />
<path d="M1514.20,2338.42 L1515.03,2341.30 L1515.99,2343.92 L1517.07,2346.27 L1518.28,2348.39 L1519.61,2350.27 L1521.05,2351.92 L1522.59,2353.37 L1524.24,2354.60 L1525.98,2355.65 L1527.81,2356.51 L1529.73,2357.21 L1531.73,2357.74 L1533.80,2358.12 L1535.94,2358.36 L1538.14,2358.47 L1540.41,2358.46 L1542.72,2358.34 L1545.09,2358.13 L1547.49,2357.82 L1549.94,2357.44 L1552.41,2356.99 L1554.92,2356.48 L1557.44,2355.93 L1559.98,2355.34 L1562.53,2354.73 L1565.08,2354.10 L1567.64,2353.47 L1570.18,2352.84 L1572.72,2352.23 L1575.24,2351.65 L1577.75,2351.09 L1580.24,2350.56 L1582.71,2350.06 L1585.17,2349.59 L1587.61,2349.14 L1590.04,2348.72 L1592.45,2348.32 L1594.85,2347.94 L1597.24,2347.58 L1599.62,2347.25 L1601.98,2346.94 L1604.33,2346.64 L1606.68,2346.37 L1609.01,2346.11 L1611.33,2345.87 L1613.65,2345.65 L1615.96,2345.45 L1618.25,2345.25 L1620.55,2345.08 L1622.83,2344.91 L1625.11,2344.76 L1627.39,2344.62 L1629.65,2344.50 L1631.92,2344.38 L1634.18,2344.27 L1636.44,2344.17 L1638.69,2344.08 L1640.94,2343.99 L1643.19,2343.91 L1645.44,2343.84 L1647.69,2343.77 L1649.94,2343.71 L1652.19,2343.64 L1654.44,2343.58 L1656.69,2343.53 L1658.95,2343.47 L1661.20,2343.41 L1663.46,2343.35 L1665.72,2343.30 L1667.99,2343.25 L1670.26,2343.20 L1672.53,2343.16 L1674.81,2343.13 L1677.09,2343.10 L1679.37,2343.08 L1681.66,2343.07 L1683.95,2343.08 L1686.24,2343.09 L1688.54,2343.12 L1690.85,2343.17 L1693.15,2343.23 L1695.47,2343.30 L1697.78,2343.40 L1700.11,2343.51 L1702.43,2343.64 L1704.77,2343.80 L1707.11,2343.97 L1709.45,2344.17 L1711.80,2344.40 L1714.15,2344.65 L1716.51,2344.93 L1718.88,2345.23 L1721.25,2345.57 L1723.63,2345.93 L1726.02,2346.33 L1728.41,2346.76 L1730.81,2347.22 L1733.22,2347.71 L1735.63,2348.25 L1738.05,2348.82 L1740.47,2349.42 L1742.91,2350.07 L1745.35,2350.76 L1747.80,2351.48 L1750.25,2352.24 L1752.71,2353.02 L1755.16,2353.82 L1757.62,2354.63 L1760.08,2355.45 L1762.53,2356.27 L1764.97,2357.09 L1767.41,2357.90 L1769.84,2358.68 L1772.26,2359.45 L1774.67,2360.19 L1777.07,2360.89 L1779.44,2361.54 L1781.80,2362.16 L1784.15,2362.71 L1786.47,2363.21 L1788.77,2363.64 L1791.04,2364.00 L1793.29,2364.28 L1795.51,2364.48 L1797.70,2364.58 L1799.86,2364.59 L1801.99,2364.50 L1804.08,2364.30 L1806.14,2363.98 L1808.15,2363.55 L1810.13,2362.98 L1812.07,2362.28 L1813.96,2361.45 L1815.82,2360.48 L1817.63,2359.38 L1819.40,2358.17 L1821.13,2356.84 L1822.82,2355.40 L1824.48,2353.86 L1826.10,2352.24 L1827.69,2350.52 L1829.24,2348.72 L1830.77,2346.86 L1832.26,2344.92 L1833.72,2342.93 L1835.15,2340.88 L1836.55,2338.79 L1837.93,2336.66 L1839.28,2334.50 L1840.60,2332.31 L1841.90,2330.11 L1843.18,2327.89 L1844.44,2325.67 L1845.68,2323.45 L1846.90,2321.24 L1848.10,2319.04 L1849.28,2316.85 L1850.45,2314.68 L1851.61,2312.53 L1852.75,2310.38 L1853.87,2308.25 L1854.99,2306.13 L1856.10,2304.03 L1857.19,2301.93 L1858.28,2299.84 L1859.37,2297.77 L1860.44,2295.70 L1861.52,2293.64 L1862.58,2291.59 L1863.65,2289.55 L1864.71,2287.52 L1865.78,2285.49 L1866.85,2283.47 L1867.91,2281.46 L1868.98,2279.45 L1870.06,2277.44 L1871.14,2275.45 L1872.23,2273.45 L1873.32,2271.46 L1874.43,2269.47 L1875.54,2267.49 L1876.67,2265.50 L1877.80,2263.52 L1878.95,2261.54 L1880.12,2259.56 L1881.30,2257.58 L1882.49,2255.61 L1883.70,2253.63 L1884.93,2251.65 L1886.16,2249.68 L1887.42,2247.71 L1888.69,2245.74 L1889.97,2243.77 L1891.27,2241.81 L1892.58,2239.85 L1893.90,2237.90 L1895.24,2235.95 L1896.59,2234.01 L1897.95,2232.07 L1899.33,2230.14 L1900.72,2228.21 L1902.12,2226.29 L1903.53,2224.38 L1904.96,2222.47 L1906.40,2220.58 L1907.85,2218.69 L1909.31,2216.81 L1910.78,2214.94 L1912.27,2213.08 L1913.76,2211.23 L1915.27,2209.39 L1916.79,2207.56 L1918.32,2205.75 L1919.86,2203.94 L1921.40,2202.15 L1922.96,2200.37 L1924.53,2198.60 L1926.11,2196.85 L1927.70,2195.10 L1929.30,2193.38 L1930.90,2191.67 L1932.52,2189.97 L1934.14,2188.29 L1935.78,2186.62 L1937.42,2184.97 L1939.07,2183.34 L1940.73,2181.72 L1942.39,2180.12 L1944.07,2178.54 L1945.75,2176.98 L1947.44,2175.44 L1949.14,2173.91 L1950.84,2172.41 L1952.55,2170.92 L1954.27,2169.45 L1955.99,2167.99 L1957.72,2166.55 L1959.47,2165.12 L1961.21,2163.70 L1962.97,2162.29 L1964.73,2160.89 L1966.50,2159.50 L1968.28,2158.11 L1970.07,2156.72 L1971.87,2155.34 L1973.67,2153.96 L1975.49,2152.58 L1977.31,2151.20 L1979.14,2149.82 L1980.98,2148.43 L1982.83,2147.04 L1984.68,2145.64 L1986.55,2144.24 L1988.43,2142.82 L1990.31,2141.40 L1992.20,2139.96 L1994.11,2138.50 L1996.02,2137.04 L1997.94,2135.55 L1999.88,2134.05 L2001.82,2132.53 L2003.77,2130.99 L2005.74,2129.43 L2007.71,2127.85 L2009.69,2126.24 L2011.69,2124.61 L2013.69,2122.94 L2015.71,2121.26 L2017.73,2119.54 L2019.77,2117.79 L2021.81,2116.02 L2023.86,2114.25 L2025.92,2112.50 L2027.98,2110.78 L2030.03,2109.12 L2032.08,2107.53 L2034.13,2106.04 L2036.17,2104.64 L2038.19,2103.38 L2040.20,2102.26 L2042.19,2101.30 L2044.17,2100.52 L2046.12,2099.94 L2048.05,2099.58 L2049.95,2099.45 L2051.82,2099.57 L2053.66,2099.97 L2055.47,2100.62 L2057.23,2101.50 L2058.96,2102.60 L2060.65,2103.89 L2062.30,2105.34 L2063.90,2106.93 L2065.45,2108.63 L2066.95,2110.43 L2068.39,2112.30 L2069.79,2114.21 L2071.13,2116.15 L2072.41,2118.11 L2073.64,2120.10 L2074.81,2122.11 L2075.94,2124.15 L2077.01,2126.20 L2078.04,2128.28 L2079.02,2130.38 L2079.95,2132.50 L2080.84,2134.64 L2081.69,2136.79 L2082.49,2138.97 L2083.26,2141.16 L2083.98,2143.37 L2084.67,2145.59 L2085.32,2147.83 L2085.94,2150.09 L2086.52,2152.35 L2087.07,2154.64 L2087.59,2156.93 L2088.07,2159.24 L2088.53,2161.55 L2088.97,2163.88 L2089.37,2166.22 L2089.75,2168.57 L2090.11,2170.92 L2090.45,2173.29 L2090.76,2175.66 L2091.06,2178.03 L2091.34,2180.42 L2091.60,2182.81 L2091.85,2185.20 L2092.08,2187.60 L2092.30,2190.00 L2092.51,2192.40 L2092.71,2194.81 L2092.90,2197.21 L2093.08,2199.62 L2093.26,2202.02 L2093.43,2204.43 L2093.59,2206.83 L2093.76,2209.24 L2093.93,2211.64 L2094.09,2214.03 L2094.26,2216.42 L2094.43,2218.81 L2094.60,2221.19 L2094.79,2223.56 L2094.97,2225.93 L2095.17,2228.29 L2095.38,2230.65 L2095.59,2232.99 L2095.81,2235.33 L2096.04,2237.66 L2096.27,2239.99 L2096.51,2242.31 L2096.76,2244.63 L2097.02,2246.94 L2097.28,2249.24 L2097.54,2251.55 L2097.81,2253.84 L2098.09,2256.14 L2098.36,2258.43 L2098.65,2260.72 L2098.93,2263.00 L2099.22,2265.28 L2099.51,2267.56 L2099.81,2269.84 L2100.10,2272.12 L2100.40,2274.40 L2100.70,2276.67 L2101.00,2278.95 L2101.30,2281.22 L2101.61,2283.50 L2101.91,2285.77 L2102.21,2288.05 L2102.51,2290.33 L2102.81,2292.61 L2103.11,2294.89 L2103.41,2297.17 L2103.70,2299.46 L2103.99,2301.75 L2104.28,2304.04 L2104.57,2306.34 L2104.85,2308.64 L2105.13,2310.94 L2105.40,2313.25 L2105.67,2315.57 L2105.94,2317.89 L2106.20,2320.21 L2106.45,2322.54 L2106.70,2324.88 L2106.94,2327.22 L2107.18,2329.58 L2107.40,2331.93 L2107.63,2334.30 L2107.84,2336.67 L2108.04,2339.06 L2108.24,2341.45 L2108.43,2343.85 L2108.61,2346.25 L2108.78,2348.67" fill="none" stroke="#D95319" stroke-width="7" stroke-linejoin="round" stroke-dasharray="7.5 4.5" clip-path="url(#ck)" />
<path d="M1514.04,2370.75 L1517.18,2370.70 L1520.31,2370.65 L1523.42,2370.58 L1526.53,2370.51 L1529.62,2370.43 L1532.70,2370.35 L1535.77,2370.26 L1538.83,2370.16 L1541.87,2370.06 L1544.91,2369.95 L1547.93,2369.83 L1550.95,2369.72 L1553.96,2369.59 L1556.96,2369.47 L1559.95,2369.33 L1562.93,2369.20 L1565.90,2369.06 L1568.87,2368.92 L1571.83,2368.78 L1574.78,2368.63 L1577.73,2368.49 L1580.67,2368.34 L1583.60,2368.19 L1586.53,2368.04 L1589.45,2367.89 L1592.37,2367.74 L1595.29,2367.59 L1598.20,2367.44 L1601.10,2367.29 L1604.01,2367.15 L1606.91,2367.00 L1609.81,2366.86 L1612.71,2366.72 L1615.60,2366.58 L1618.50,2366.45 L1621.39,2366.31 L1624.28,2366.19 L1627.17,2366.06 L1630.06,2365.94 L1632.96,2365.83 L1635.85,2365.72 L1638.74,2365.61 L1641.64,2365.52 L1644.54,2365.42 L1647.44,2365.34 L1650.34,2365.26 L1653.24,2365.19 L1656.15,2365.12 L1659.06,2365.07 L1661.98,2365.02 L1664.90,2364.98 L1667.83,2364.95 L1670.76,2364.92 L1673.69,2364.91 L1676.63,2364.91 L1679.58,2364.92 L1682.53,2364.94 L1685.50,2364.96 L1688.46,2365.00 L1691.44,2365.06 L1694.42,2365.12 L1697.42,2365.20 L1700.42,2365.28 L1703.43,2365.39 L1706.45,2365.50 L1709.47,2365.63 L1712.51,2365.77 L1715.56,2365.93 L1718.62,2366.10 L1721.70,2366.28 L1724.78,2366.49 L1727.87,2366.70 L1730.98,2366.93 L1734.10,2367.18 L1737.23,2367.45 L1740.38,2367.73 L1743.54,2368.03 L1746.71,2368.35 L1749.90,2368.68 L1753.09,2369.02 L1756.29,2369.37 L1759.50,2369.71 L1762.70,2370.05 L1765.89,2370.37 L1769.09,2370.68 L1772.27,2370.98 L1775.44,2371.24 L1778.59,2371.48 L1781.72,2371.68 L1784.83,2371.84 L1787.92,2371.95 L1790.97,2372.02 L1794.00,2372.03 L1796.99,2371.98 L1799.95,2371.87 L1802.86,2371.68 L1805.73,2371.43 L1808.55,2371.09 L1811.33,2370.67 L1814.05,2370.16 L1816.71,2369.56 L1819.32,2368.86 L1821.86,2368.06 L1824.34,2367.14 L1826.75,2366.12 L1829.09,2364.97 L1831.36,2363.70 L1833.55,2362.31 L1835.65,2360.78 L1837.68,2359.11 L1839.61,2357.31 L1841.47,2355.36 L1843.24,2353.29 L1844.94,2351.10 L1846.56,2348.79 L1848.12,2346.38 L1849.61,2343.88 L1851.03,2341.29 L1852.40,2338.62 L1853.72,2335.88 L1854.98,2333.08 L1856.20,2330.22 L1857.37,2327.32 L1858.51,2324.38 L1859.61,2321.41 L1860.67,2318.42 L1861.71,2315.41 L1862.72,2312.40 L1863.71,2309.40 L1864.68,2306.39 L1865.63,2303.40 L1866.57,2300.40 L1867.48,2297.41 L1868.37,2294.42 L1869.25,2291.44 L1870.11,2288.46 L1870.96,2285.49 L1871.79,2282.52 L1872.60,2279.55 L1873.41,2276.59 L1874.19,2273.63 L1874.97,2270.67 L1875.73,2267.72 L1876.48,2264.77 L1877.22,2261.83 L1877.95,2258.88 L1878.67,2255.95 L1879.37,2253.01 L1880.07,2250.08 L1880.77,2247.16 L1881.45,2244.23 L1882.13,2241.31 L1882.80,2238.40 L1883.47,2235.49 L1884.13,2232.58 L1884.78,2229.67 L1885.44,2226.77 L1886.09,2223.87 L1886.73,2220.97 L1887.38,2218.08 L1888.02,2215.19 L1888.66,2212.31 L1889.30,2209.42 L1889.95,2206.55 L1890.59,2203.67 L1891.24,2200.80 L1891.88,2197.93 L1892.53,2195.06 L1893.19,2192.19 L1893.84,2189.33 L1894.51,2186.47 L1895.17,2183.62 L1895.85,2180.77 L1896.53,2177.92 L1897.21,2175.07 L1897.91,2172.23 L1898.61,2169.39 L1899.33,2166.55 L1900.05,2163.71 L1900.78,2160.88 L1901.52,2158.05 L1902.28,2155.22 L1903.04,2152.40 L1903.82,2149.58 L1904.61,2146.76 L1905.42,2143.94 L1906.24,2141.13 L1907.07,2138.31 L1907.92,2135.51 L1908.79,2132.70 L1909.67,2129.89 L1910.57,2127.09 L1911.49,2124.29 L1912.43,2121.49 L1913.39,2118.70 L1914.37,2115.91 L1915.36,2113.12 L1916.38,2110.33 L1917.41,2107.54 L1918.47,2104.75 L1919.53,2101.97 L1920.62,2099.19 L1921.72,2096.41 L1922.83,2093.63 L1923.95,2090.85 L1925.09,2088.07 L1926.24,2085.29 L1927.40,2082.51 L1928.57,2079.74 L1929.74,2076.96 L1930.93,2074.18 L1932.12,2071.40 L1933.32,2068.63 L1934.52,2065.85 L1935.72,2063.07 L1936.93,2060.29 L1938.14,2057.50 L1939.35,2054.72 L1940.57,2051.94 L1941.78,2049.15 L1942.99,2046.36 L1944.20,2043.57 L1945.41,2040.78 L1946.61,2037.98 L1947.80,2035.19 L1949.00,2032.39 L1950.18,2029.58 L1951.37,2026.79 L1952.57,2024.00 L1953.77,2021.21 L1955.00,2018.45 L1956.24,2015.70 L1957.51,2012.98 L1958.81,2010.28 L1960.15,2007.61 L1961.54,2004.98 L1962.96,2002.38 L1964.44,1999.83 L1965.98,1997.32 L1967.58,1994.86 L1969.25,1992.46 L1970.99,1990.11 L1972.81,1987.83 L1974.71,1985.61 L1976.69,1983.46 L1978.77,1981.39 L1980.95,1979.39 L1983.23,1977.47 L1985.62,1975.64 L1988.11,1973.95 L1990.67,1972.46 L1993.30,1971.24 L1995.97,1970.36 L1998.68,1969.89 L2001.39,1969.88 L2004.09,1970.36 L2006.76,1971.26 L2009.35,1972.55 L2011.84,1974.16 L2014.19,1976.04 L2016.39,1978.14 L2018.40,1980.42 L2020.21,1982.84 L2021.85,1985.38 L2023.33,1988.04 L2024.66,1990.80 L2025.87,1993.64 L2026.96,1996.55 L2027.96,1999.51 L2028.87,2002.51 L2029.71,2005.54 L2030.51,2008.57 L2031.27,2011.60 L2032.00,2014.62 L2032.71,2017.62 L2033.40,2020.61 L2034.06,2023.59 L2034.71,2026.55 L2035.33,2029.51 L2035.93,2032.46 L2036.52,2035.40 L2037.09,2038.34 L2037.64,2041.27 L2038.18,2044.19 L2038.71,2047.11 L2039.22,2050.03 L2039.72,2052.94 L2040.21,2055.86 L2040.69,2058.77 L2041.17,2061.68 L2041.63,2064.60 L2042.09,2067.51 L2042.54,2070.43 L2042.99,2073.35 L2043.42,2076.27 L2043.86,2079.19 L2044.28,2082.11 L2044.70,2085.04 L2045.12,2087.96 L2045.52,2090.89 L2045.93,2093.82 L2046.32,2096.75 L2046.72,2099.68 L2047.11,2102.62 L2047.49,2105.55 L2047.87,2108.49 L2048.24,2111.42 L2048.61,2114.36 L2048.98,2117.30 L2049.34,2120.24 L2049.70,2123.18 L2050.05,2126.12 L2050.40,2129.07 L2050.75,2132.01 L2051.09,2134.96 L2051.44,2137.91 L2051.78,2140.85 L2052.11,2143.80 L2052.45,2146.75 L2052.78,2149.70 L2053.11,2152.66 L2053.44,2155.61 L2053.77,2158.56 L2054.09,2161.52 L2054.42,2164.47 L2054.74,2167.43 L2055.06,2170.39 L2055.38,2173.35 L2055.71,2176.31 L2056.03,2179.27 L2056.35,2182.23 L2056.67,2185.19 L2056.99,2188.15 L2057.31,2191.12 L2057.63,2194.08 L2057.96,2197.04 L2058.28,2200.01 L2058.60,2202.97 L2058.93,2205.94 L2059.26,2208.91 L2059.58,2211.88 L2059.92,2214.84 L2060.25,2217.81 L2060.58,2220.78 L2060.92,2223.75 L2061.26,2226.72 L2061.60,2229.69 L2061.94,2232.66 L2062.29,2235.64 L2062.64,2238.61 L2063.00,2241.58 L2063.35,2244.55 L2063.71,2247.53 L2064.08,2250.50 L2064.45,2253.47 L2064.82,2256.45 L2065.20,2259.42 L2065.58,2262.40 L2065.97,2265.37 L2066.36,2268.35 L2066.76,2271.32 L2067.16,2274.30 L2067.57,2277.27 L2067.98,2280.25 L2068.40,2283.23 L2068.82,2286.20 L2069.26,2289.18 L2069.69,2292.15 L2070.14,2295.13 L2070.59,2298.11 L2071.04,2301.08 L2071.51,2304.06 L2071.98,2307.04 L2072.46,2310.01 L2072.95,2312.99 L2073.45,2315.96 L2073.97,2318.93 L2074.52,2321.88 L2075.11,2324.81 L2075.75,2327.71 L2076.44,2330.59 L2077.20,2333.43 L2078.04,2336.23 L2078.96,2338.98 L2079.97,2341.68 L2081.09,2344.32 L2082.31,2346.90 L2083.66,2349.41 L2085.13,2351.84 L2086.75,2354.20 L2088.50,2356.47 L2090.42,2358.64 L2092.50,2360.73 L2094.75,2362.71 L2097.19,2364.58 L2099.81,2366.34 L2102.64,2367.98 L2105.67,2369.50 L2108.93,2370.89" fill="none" stroke="#0072BD" stroke-width="7" stroke-linejoin="round" stroke-linecap="round" clip-path="url(#ck)" />
<path d="M1514.19,2370.69 L1516.03,2370.68 L1517.87,2370.66 L1519.71,2370.64 L1521.56,2370.61 L1523.40,2370.58 L1525.23,2370.54 L1527.07,2370.50 L1528.91,2370.45 L1530.75,2370.40 L1532.58,2370.34 L1534.41,2370.28 L1536.25,2370.22 L1538.08,2370.15 L1539.91,2370.08 L1541.74,2370.01 L1543.57,2369.93 L1545.40,2369.84 L1547.23,2369.76 L1549.06,2369.67 L1550.88,2369.58 L1552.71,2369.48 L1554.53,2369.39 L1556.36,2369.28 L1558.18,2369.18 L1560.01,2369.08 L1561.83,2368.97 L1563.65,2368.86 L1565.47,2368.74 L1567.29,2368.63 L1569.11,2368.51 L1570.93,2368.40 L1572.75,2368.28 L1574.57,2368.15 L1576.39,2368.03 L1578.21,2367.91 L1580.03,2367.78 L1581.84,2367.66 L1583.66,2367.53 L1585.48,2367.40 L1587.29,2367.27 L1589.11,2367.14 L1590.92,2367.01 L1592.74,2366.88 L1594.55,2366.75 L1596.37,2366.62 L1598.18,2366.50 L1600.00,2366.37 L1601.81,2366.24 L1603.62,2366.11 L1605.44,2365.98 L1607.25,2365.85 L1609.06,2365.72 L1610.88,2365.60 L1612.69,2365.47 L1614.50,2365.35 L1616.32,2365.23 L1618.13,2365.11 L1619.94,2364.99 L1621.75,2364.87 L1623.57,2364.75 L1625.38,2364.64 L1627.19,2364.53 L1629.01,2364.42 L1630.82,2364.31 L1632.63,2364.20 L1634.45,2364.10 L1636.26,2364.00 L1638.07,2363.90 L1639.89,2363.81 L1641.70,2363.72 L1643.52,2363.63 L1645.33,2363.54 L1647.15,2363.46 L1648.96,2363.38 L1650.78,2363.31 L1652.59,2363.24 L1654.41,2363.17 L1656.22,2363.10 L1658.04,2363.05 L1659.86,2362.99 L1661.68,2362.94 L1663.49,2362.89 L1665.31,2362.85 L1667.13,2362.82 L1668.95,2362.78 L1670.77,2362.76 L1672.59,2362.74 L1674.41,2362.72 L1676.24,2362.71 L1678.06,2362.70 L1679.88,2362.70 L1681.70,2362.71 L1683.53,2362.72 L1685.35,2362.73 L1687.18,2362.76 L1689.01,2362.79 L1690.83,2362.82 L1692.66,2362.86 L1694.49,2362.91 L1696.32,2362.97 L1698.15,2363.03 L1699.98,2363.10 L1701.81,2363.17 L1703.64,2363.26 L1705.48,2363.35 L1707.31,2363.45 L1709.15,2363.55 L1710.98,2363.66 L1712.82,2363.78 L1714.66,2363.91 L1716.50,2364.05 L1718.34,2364.19 L1720.18,2364.35 L1722.02,2364.51 L1723.87,2364.68 L1725.71,2364.86 L1727.56,2365.04 L1729.40,2365.24 L1731.25,2365.45 L1733.10,2365.66 L1734.95,2365.88 L1736.80,2366.12 L1738.65,2366.36 L1740.51,2366.61 L1742.36,2366.87 L1744.22,2367.14 L1746.08,2367.42 L1747.93,2367.71 L1749.79,2368.01 L1751.65,2368.31 L1753.51,2368.62 L1755.37,2368.92 L1757.23,2369.23 L1759.09,2369.54 L1760.95,2369.84 L1762.81,2370.15 L1764.67,2370.44 L1766.52,2370.73 L1768.37,2371.01 L1770.22,2371.28 L1772.07,2371.54 L1773.92,2371.78 L1775.76,2372.01 L1777.60,2372.22 L1779.43,2372.42 L1781.26,2372.59 L1783.09,2372.75 L1784.91,2372.88 L1786.73,2372.98 L1788.55,2373.06 L1790.36,2373.12 L1792.16,2373.14 L1793.96,2373.14 L1795.75,2373.10 L1797.54,2373.03 L1799.32,2372.92 L1801.09,2372.78 L1802.86,2372.60 L1804.61,2372.38 L1806.37,2372.12 L1808.11,2371.81 L1809.84,2371.46 L1811.57,2371.07 L1813.29,2370.62 L1815.00,2370.13 L1816.70,2369.60 L1818.40,2369.02 L1820.08,2368.40 L1821.76,2367.74 L1823.43,2367.05 L1825.09,2366.32 L1826.75,2365.56 L1828.39,2364.77 L1830.04,2363.96 L1831.67,2363.11 L1833.30,2362.25 L1834.92,2361.36 L1836.53,2360.46 L1838.14,2359.54 L1839.75,2358.60 L1841.34,2357.66 L1842.94,2356.70 L1844.52,2355.73 L1846.11,2354.76 L1847.68,2353.79 L1849.26,2352.81 L1850.82,2351.83 L1852.39,2350.85 L1853.94,2349.87 L1855.50,2348.88 L1857.05,2347.89 L1858.59,2346.89 L1860.13,2345.89 L1861.67,2344.89 L1863.20,2343.89 L1864.73,2342.88 L1866.26,2341.88 L1867.78,2340.86 L1869.30,2339.85 L1870.81,2338.83 L1872.32,2337.81 L1873.83,2336.79 L1875.33,2335.77 L1876.83,2334.74 L1878.33,2333.71 L1879.82,2332.68 L1881.31,2331.65 L1882.80,2330.61 L1884.29,2329.57 L1885.77,2328.53 L1887.25,2327.49 L1888.73,2326.44 L1890.21,2325.39 L1891.68,2324.34 L1893.15,2323.29 L1894.62,2322.24 L1896.09,2321.18 L1897.55,2320.12 L1899.02,2319.06 L1900.48,2318.00 L1901.94,2316.94 L1903.40,2315.87 L1904.85,2314.81 L1906.31,2313.74 L1907.76,2312.66 L1909.21,2311.59 L1910.67,2310.52 L1912.12,2309.44 L1913.57,2308.36 L1915.01,2307.28 L1916.46,2306.20 L1917.91,2305.12 L1919.36,2304.04 L1920.80,2302.95 L1922.25,2301.86 L1923.69,2300.77 L1925.14,2299.68 L1926.58,2298.59 L1928.03,2297.50 L1929.47,2296.41 L1930.92,2295.31 L1932.36,2294.22 L1933.81,2293.12 L1935.25,2292.02 L1936.70,2290.92 L1938.14,2289.82 L1939.59,2288.72 L1941.04,2287.62 L1942.49,2286.51 L1943.94,2285.41 L1945.39,2284.31 L1946.84,2283.20 L1948.29,2282.09 L1949.75,2280.99 L1951.20,2279.88 L1952.66,2278.77 L1954.12,2277.66 L1955.58,2276.55 L1957.04,2275.44 L1958.50,2274.33 L1959.97,2273.21 L1961.44,2272.10 L1962.91,2270.99 L1964.38,2269.88 L1965.85,2268.76 L1967.33,2267.65 L1968.81,2266.53 L1970.29,2265.42 L1971.77,2264.30 L1973.26,2263.19 L1974.75,2262.07 L1976.24,2260.96 L1977.74,2259.84 L1979.23,2258.73 L1980.74,2257.61 L1982.24,2256.49 L1983.75,2255.38 L1985.26,2254.26 L1986.78,2253.15 L1988.29,2252.04 L1989.82,2250.93 L1991.34,2249.83 L1992.87,2248.74 L1994.41,2247.65 L1995.95,2246.58 L1997.49,2245.51 L1999.04,2244.45 L2000.60,2243.41 L2002.16,2242.38 L2003.72,2241.36 L2005.29,2240.36 L2006.87,2239.38 L2008.45,2238.42 L2010.04,2237.48 L2011.63,2236.55 L2013.23,2235.65 L2014.84,2234.77 L2016.45,2233.92 L2018.07,2233.09 L2019.70,2232.29 L2021.33,2231.52 L2022.97,2230.77 L2024.62,2230.06 L2026.27,2229.37 L2027.94,2228.72 L2029.61,2228.11 L2031.28,2227.52 L2032.97,2226.98 L2034.67,2226.47 L2036.37,2226.00 L2038.08,2225.57 L2039.80,2225.18 L2041.53,2224.84 L2043.25,2224.55 L2044.98,2224.31 L2046.70,2224.14 L2048.41,2224.03 L2050.10,2224.00 L2051.77,2224.04 L2053.43,2224.18 L2055.05,2224.40 L2056.64,2224.72 L2058.20,2225.14 L2059.72,2225.67 L2061.19,2226.31 L2062.62,2227.07 L2063.99,2227.95 L2065.31,2228.97 L2066.57,2230.11 L2067.78,2231.36 L2068.94,2232.72 L2070.05,2234.17 L2071.12,2235.71 L2072.14,2237.32 L2073.12,2239.00 L2074.06,2240.74 L2074.96,2242.53 L2075.83,2244.35 L2076.67,2246.20 L2077.47,2248.07 L2078.25,2249.95 L2079.00,2251.83 L2079.73,2253.70 L2080.43,2255.56 L2081.11,2257.41 L2081.78,2259.24 L2082.42,2261.06 L2083.05,2262.88 L2083.66,2264.68 L2084.25,2266.48 L2084.83,2268.26 L2085.39,2270.04 L2085.94,2271.81 L2086.48,2273.58 L2087.00,2275.34 L2087.52,2277.09 L2088.03,2278.84 L2088.53,2280.58 L2089.02,2282.32 L2089.50,2284.06 L2089.98,2285.79 L2090.46,2287.52 L2090.93,2289.25 L2091.41,2290.98 L2091.88,2292.70 L2092.35,2294.43 L2092.82,2296.16 L2093.29,2297.89 L2093.77,2299.62 L2094.24,2301.35 L2094.72,2303.08 L2095.20,2304.81 L2095.67,2306.54 L2096.15,2308.27 L2096.64,2310.01 L2097.12,2311.74 L2097.60,2313.48 L2098.09,2315.21 L2098.58,2316.95 L2099.07,2318.69 L2099.56,2320.43 L2100.06,2322.18 L2100.55,2323.92 L2101.05,2325.67 L2101.55,2327.42 L2102.05,2329.16 L2102.56,2330.92 L2103.07,2332.67 L2103.58,2334.42 L2104.09,2336.18 L2104.60,2337.94 L2105.12,2339.70 L2105.64,2341.46 L2106.16,2343.23 L2106.69,2345.00 L2107.22,2346.77 L2107.75,2348.54 L2108.28,2350.31 L2108.82,2352.09" fill="none" stroke="#D95319" stroke-width="7" stroke-linejoin="round" stroke-linecap="round" clip-path="url(#ck)" />
<line x1="1812.5" y1="1855.9" x2="1812.5" y2="1864.4" stroke="#000" stroke-width="4.2" />
<line x1="1812.5" y1="2377.4" x2="1812.5" y2="2368.9" stroke="#000" stroke-width="4.2" />
<line x1="1514.75" y1="1960" x2="1523.25" y2="1960" stroke="#000" stroke-width="4.2" />
<line x1="1514.75" y1="2064.5" x2="1523.25" y2="2064.5" stroke="#000" stroke-width="4.2" />
<line x1="1514.75" y1="2168.8" x2="1523.25" y2="2168.8" stroke="#000" stroke-width="4.2" />
<line x1="1514.75" y1="2273.1" x2="1523.25" y2="2273.1" stroke="#000" stroke-width="4.2" />
<line x1="2110.5" y1="1960" x2="2102" y2="1960" stroke="#000" stroke-width="4.2" />
<line x1="2110.5" y1="2064.5" x2="2102" y2="2064.5" stroke="#000" stroke-width="4.2" />
<line x1="2110.5" y1="2168.8" x2="2102" y2="2168.8" stroke="#000" stroke-width="4.2" />
<line x1="2110.5" y1="2273.1" x2="2102" y2="2273.1" stroke="#000" stroke-width="4.2" />
<rect x="1514.75" y="1855.9" width="595.75" height="521.5" fill="none" stroke="#262626" stroke-width="4.2"/>
<circle cx="1555" cy="1902.5" r="12.2" fill="#0072BD" />
<circle cx="1555" cy="1939.2" r="12.2" fill="#D95319" />
<circle cx="1555" cy="1975.9" r="10.5" fill="none" stroke="#0072BD" stroke-width="4.2" stroke-dasharray="4.2 3.2"/>
<circle cx="1555" cy="2012.6" r="10.5" fill="none" stroke="#D95319" stroke-width="4.2" stroke-dasharray="4.2 3.2"/>
<text x="4.31" y="36.31" font-size="50.43" textLength="25.4" lengthAdjust="spacingAndGlyphs"><tspan font-weight="bold">a</tspan></text>
<text x="694.59" y="36.07" font-size="49.63" textLength="31.09" lengthAdjust="spacingAndGlyphs"><tspan font-weight="bold">b</tspan></text>
<text x="1429.05" y="36.31" font-size="50.38" textLength="27.71" lengthAdjust="spacingAndGlyphs"><tspan font-weight="bold">c</tspan></text>
<text x="4.11" y="634.83" font-size="48.07" textLength="31.82" lengthAdjust="spacingAndGlyphs"><tspan font-weight="bold">d</tspan></text>
<text x="1103.33" y="635.4" font-size="50.74" textLength="28.1" lengthAdjust="spacingAndGlyphs"><tspan font-weight="bold">e</tspan></text>
<text x="1.69" y="1271" font-size="49.68" textLength="15.71" lengthAdjust="spacingAndGlyphs"><tspan font-weight="bold">f</tspan></text>
<text x="695.77" y="1271.13" font-size="50.37" textLength="30.24" lengthAdjust="spacingAndGlyphs"><tspan font-weight="bold">g</tspan></text>
<text x="1427.14" y="1271" font-size="48.3" textLength="33.79" lengthAdjust="spacingAndGlyphs"><tspan font-weight="bold">h</tspan></text>
<text x="2.67" y="1882.5" font-size="48.3" textLength="17.21" lengthAdjust="spacingAndGlyphs"><tspan font-weight="bold">i</tspan></text>
<text x="695.88" y="1883.45" font-size="49.62" textLength="15.56" lengthAdjust="spacingAndGlyphs"><tspan font-weight="bold">j</tspan></text>
<text x="1427.42" y="1883.75" font-size="50.03" textLength="28.53" lengthAdjust="spacingAndGlyphs"><tspan font-weight="bold">k</tspan></text>
<text x="211.48" y="70.66" font-size="31.05" textLength="70.07" lengthAdjust="spacingAndGlyphs">open</text>
<text x="211.77" y="346.7" font-size="30.37" textLength="90.76" lengthAdjust="spacingAndGlyphs">closed</text>
<text x="372.88" y="322.46" font-size="30.58" textLength="205.71" lengthAdjust="spacingAndGlyphs">depletion force</text>
<text x="561.1" y="454.5" font-size="31.98" textLength="21.54" lengthAdjust="spacingAndGlyphs">E</text>
<text x="582.57" y="456.25" font-size="15.52" textLength="52.73" lengthAdjust="spacingAndGlyphs">barrier</text>
<text x="56.55" y="727.8" font-size="53.13" textLength="251.52" lengthAdjust="spacingAndGlyphs"><tspan font-style="italic">Φ</tspan> = -<tspan font-style="italic">V</tspan>(<tspan font-style="italic">t</tspan>)/2</text>
<text x="820.06" y="689.7" font-size="53.13" textLength="232.58" lengthAdjust="spacingAndGlyphs"><tspan font-style="italic">Φ</tspan> = <tspan font-style="italic">V</tspan>(<tspan font-style="italic">t</tspan>)/2</text>
<text x="696.69" y="843.45" font-size="47.9" textLength="102.38" lengthAdjust="spacingAndGlyphs" fill="#5A8CF0">+Qe</text>
<text x="91.98" y="967.2" font-size="55.5" textLength="30.95" lengthAdjust="spacingAndGlyphs" fill="#EE2424"><tspan font-style="italic">n</tspan></text>
<text x="120" y="968.5" font-size="30" textLength="12" lengthAdjust="spacingAndGlyphs" fill="#EE2424">-</text>
<text x="636.06" y="967.3" font-size="55.5" textLength="28.25" lengthAdjust="spacingAndGlyphs" fill="#EE2424"><tspan font-style="italic">n</tspan></text>
<text x="665.09" y="968.6" font-size="29.64" textLength="24.73" lengthAdjust="spacingAndGlyphs" fill="#EE2424">Q</text>
<text x="978.02" y="967.3" font-size="55.5" textLength="29.6" lengthAdjust="spacingAndGlyphs" fill="#EE2424"><tspan font-style="italic">n</tspan></text>
<text x="1006.98" y="968.5" font-size="31.71" textLength="19.35" lengthAdjust="spacingAndGlyphs" fill="#EE2424">+</text>
<text x="168.35" y="1029.9" font-size="53.5" textLength="49.11" lengthAdjust="spacingAndGlyphs">-<tspan font-style="italic">L</tspan></text>
<text x="216.64" y="1034.92" font-size="32.19" textLength="16.62" lengthAdjust="spacingAndGlyphs"><tspan font-style="italic">p</tspan></text>
<text x="232.3" y="1029.9" font-size="53.5" textLength="45.55" lengthAdjust="spacingAndGlyphs">/2</text>
<text x="735.46" y="1030.2" font-size="54" textLength="22.15" lengthAdjust="spacingAndGlyphs"><tspan font-style="italic">z</tspan></text>
<text x="758.21" y="1030.2" font-size="38" textLength="21.63" lengthAdjust="spacingAndGlyphs"><tspan font-weight="bold" font-style="italic">o</tspan></text>
<text x="838.88" y="1030.2" font-size="53.5" textLength="29.3" lengthAdjust="spacingAndGlyphs"><tspan font-style="italic">L</tspan></text>
<text x="868.63" y="1033.82" font-size="32.19" textLength="16.31" lengthAdjust="spacingAndGlyphs"><tspan font-style="italic">p</tspan></text>
<text x="885.1" y="1030.2" font-size="53.5" textLength="45.01" lengthAdjust="spacingAndGlyphs">/2</text>
<text x="956.3" y="1030.2" font-size="54" textLength="25.6" lengthAdjust="spacingAndGlyphs"><tspan font-style="italic">z</tspan></text>
<text x="1203.37" y="762.03" font-size="37.99" textLength="190.25" lengthAdjust="spacingAndGlyphs" fill="#E3000F">electric field</text>
<text x="1216.99" y="1004.7" font-size="36.7" textLength="167.81" lengthAdjust="spacingAndGlyphs">open state</text>
<text x="1690.47" y="645.8" font-size="36.7" textLength="406.87" lengthAdjust="spacingAndGlyphs">closed state (non neutral)</text>
<text x="1683.37" y="1158.5" font-size="36.7" textLength="421.96" lengthAdjust="spacingAndGlyphs">closed state (elec. neutral)</text>
<text x="1930.28" y="899" font-size="36.7" textLength="115.31" lengthAdjust="spacingAndGlyphs" fill="#E3000F">voltage</text>
<text x="746.54" y="168.5" font-size="33.9" textLength="35.82" lengthAdjust="spacingAndGlyphs">10</text>
<text x="764.03" y="335.1" font-size="33.9" textLength="17.91" lengthAdjust="spacingAndGlyphs">5</text>
<text x="763.99" y="502.2" font-size="33.9" textLength="17.91" lengthAdjust="spacingAndGlyphs">0</text>
<text x="781.54" y="558.5" font-size="33.9" textLength="17.91" lengthAdjust="spacingAndGlyphs">0</text>
<text x="886.8" y="558.7" font-size="33.9" textLength="44.77" lengthAdjust="spacingAndGlyphs">0.2</text>
<text x="1241.44" y="558.5" font-size="33.9" textLength="44.77" lengthAdjust="spacingAndGlyphs">0.8</text>
<text x="1373.6" y="558.7" font-size="33.9" textLength="17.91" lengthAdjust="spacingAndGlyphs">1</text>
<text x="959.67" y="570.54" font-size="40.77" textLength="265.07" lengthAdjust="spacingAndGlyphs">pore radius (nm)</text>
<text x="730.93" y="431.93" font-size="36.48" textLength="310.43" lengthAdjust="spacingAndGlyphs" transform="rotate(-90 730.93 431.93)">ionic energy barrier</text>
<text x="1467.89" y="45.95" font-size="33.9" textLength="35.82" lengthAdjust="spacingAndGlyphs">16</text>
<text x="1467.42" y="107.5" font-size="33.9" textLength="35.82" lengthAdjust="spacingAndGlyphs">14</text>
<text x="1468.1" y="169.05" font-size="33.9" textLength="35.82" lengthAdjust="spacingAndGlyphs">12</text>
<text x="1467.74" y="230.6" font-size="33.9" textLength="35.82" lengthAdjust="spacingAndGlyphs">10</text>
<text x="1485.79" y="292.15" font-size="33.9" textLength="17.91" lengthAdjust="spacingAndGlyphs">8</text>
<text x="1485.8" y="353.7" font-size="33.9" textLength="17.91" lengthAdjust="spacingAndGlyphs">6</text>
<text x="1485.33" y="415.25" font-size="33.9" textLength="17.91" lengthAdjust="spacingAndGlyphs">4</text>
<text x="1486.01" y="476.8" font-size="33.9" textLength="17.91" lengthAdjust="spacingAndGlyphs">2</text>
<text x="1485.65" y="538.35" font-size="33.9" textLength="17.91" lengthAdjust="spacingAndGlyphs">0</text>
<text x="1507.2" y="559.7" font-size="33.9" textLength="44.77" lengthAdjust="spacingAndGlyphs">0.2</text>
<text x="1591.44" y="559.7" font-size="33.9" textLength="44.77" lengthAdjust="spacingAndGlyphs">0.3</text>
<text x="1988.55" y="559.7" font-size="33.9" textLength="44.77" lengthAdjust="spacingAndGlyphs">0.7</text>
<text x="2072.99" y="559.7" font-size="33.9" textLength="44.77" lengthAdjust="spacingAndGlyphs">0.8</text>
<text x="1685.43" y="569.54" font-size="40.77" textLength="264.56" lengthAdjust="spacingAndGlyphs">pore radius (nm)</text>
<text x="1455.06" y="366.32" font-size="37.76" textLength="182.73" lengthAdjust="spacingAndGlyphs" transform="rotate(-90 1455.06 366.32)">energy (<tspan font-style="italic">kT</tspan>)</text>
<text x="1617.3" y="81.99" font-size="36.69" textLength="295.25" lengthAdjust="spacingAndGlyphs">high concentration</text>
<text x="1617.37" y="120.44" font-size="36.49" textLength="280.98" lengthAdjust="spacingAndGlyphs">low concentration</text>
<text x="4.97" y="1342.2" font-size="33.9" textLength="44.77" lengthAdjust="spacingAndGlyphs">6.5</text>
<text x="32.18" y="1764.7" font-size="33.9" textLength="17.91" lengthAdjust="spacingAndGlyphs">6</text>
<text x="53.08" y="1795.7" font-size="33.9" textLength="64.46" lengthAdjust="spacingAndGlyphs">-200</text>
<text x="173.28" y="1795.7" font-size="33.9" textLength="64.46" lengthAdjust="spacingAndGlyphs">-100</text>
<text x="479.34" y="1797.2" font-size="33.9" textLength="53.73" lengthAdjust="spacingAndGlyphs">100</text>
<text x="620.05" y="1797.1" font-size="33.9" textLength="53.73" lengthAdjust="spacingAndGlyphs">200</text>
<text x="307.79" y="1802.81" font-size="38.1" textLength="111.94" lengthAdjust="spacingAndGlyphs"><tspan font-style="italic">V</tspan> (mV)</text>
<text x="35.71" y="1696.08" font-size="37.07" textLength="302.37" lengthAdjust="spacingAndGlyphs" transform="rotate(-90 35.71 1696.08)">neutralizing charge</text>
<text x="755.14" y="1256.1" font-size="33.9" textLength="17.91" lengthAdjust="spacingAndGlyphs">5</text>
<text x="754.73" y="1328.3" font-size="33.9" textLength="17.91" lengthAdjust="spacingAndGlyphs">4</text>
<text x="755.2" y="1400.2" font-size="33.9" textLength="17.91" lengthAdjust="spacingAndGlyphs">3</text>
<text x="755.41" y="1474.2" font-size="33.9" textLength="17.91" lengthAdjust="spacingAndGlyphs">2</text>
<text x="755.36" y="1548.2" font-size="33.9" textLength="17.91" lengthAdjust="spacingAndGlyphs">1</text>
<text x="755.05" y="1622.7" font-size="33.9" textLength="17.91" lengthAdjust="spacingAndGlyphs">0</text>
<text x="744.64" y="1697.7" font-size="33.9" textLength="28.64" lengthAdjust="spacingAndGlyphs">-1</text>
<text x="744.68" y="1772.7" font-size="33.9" textLength="28.64" lengthAdjust="spacingAndGlyphs">-2</text>
<text x="770.68" y="1796.1" font-size="33.9" textLength="64.46" lengthAdjust="spacingAndGlyphs">-200</text>
<text x="915.28" y="1796.1" font-size="33.9" textLength="64.46" lengthAdjust="spacingAndGlyphs">-100</text>
<text x="1209.44" y="1796.1" font-size="33.9" textLength="53.73" lengthAdjust="spacingAndGlyphs">100</text>
<text x="1351.45" y="1796.1" font-size="33.9" textLength="53.73" lengthAdjust="spacingAndGlyphs">200</text>
<text x="1029.99" y="1802.81" font-size="38.1" textLength="111.94" lengthAdjust="spacingAndGlyphs"><tspan font-style="italic">V</tspan> (mV)</text>
<text x="732.9" y="1768.92" font-size="39.05" textLength="421.52" lengthAdjust="spacingAndGlyphs" transform="rotate(-90 732.9 1768.92)">closed state free energy (<tspan font-style="italic">k</tspan></text>
<text x="745.2" y="1347.56" font-size="23.26" textLength="14.29" lengthAdjust="spacingAndGlyphs" transform="rotate(-90 745.2 1347.56)"><tspan font-style="italic">B</tspan></text>
<text x="731.99" y="1331.96" font-size="37.73" textLength="33.25" lengthAdjust="spacingAndGlyphs" transform="rotate(-90 731.99 1331.96)"><tspan font-style="italic">T</tspan>)</text>
<text x="1484.7" y="1260.7" font-size="33.9" textLength="17.91" lengthAdjust="spacingAndGlyphs">1</text>
<text x="1485.84" y="1771.7" font-size="33.9" textLength="17.91" lengthAdjust="spacingAndGlyphs">0</text>
<text x="1514.04" y="1795.4" font-size="33.9" textLength="17.91" lengthAdjust="spacingAndGlyphs">0</text>
<text x="1798.78" y="1795.4" font-size="33.9" textLength="22.22" lengthAdjust="spacingAndGlyphs">π</text>
<text x="2074.63" y="1795.4" font-size="33.9" textLength="40.13" lengthAdjust="spacingAndGlyphs">2π</text>
<text x="1614.8" y="1802.61" font-size="36.58" textLength="97.29" lengthAdjust="spacingAndGlyphs">phase</text>
<text x="1486.82" y="1698.83" font-size="37.01" textLength="366.1" lengthAdjust="spacingAndGlyphs" transform="rotate(-90 1486.82 1698.83)">closed state probability</text>
<text x="1571.44" y="1292.5" font-size="36.7" textLength="16.51" lengthAdjust="spacingAndGlyphs"><tspan font-style="italic">z</tspan></text>
<text x="1588.64" y="1303.7" font-size="21" textLength="11.03" lengthAdjust="spacingAndGlyphs"><tspan font-style="italic">0</tspan></text>
<text x="1608.23" y="1292.5" font-size="36.7" textLength="142.16" lengthAdjust="spacingAndGlyphs">= 3.3 nm</text>
<text x="1571.44" y="1328.75" font-size="36.7" textLength="16.51" lengthAdjust="spacingAndGlyphs"><tspan font-style="italic">z</tspan></text>
<text x="1588.64" y="1339.95" font-size="21" textLength="11.03" lengthAdjust="spacingAndGlyphs"><tspan font-style="italic">0</tspan></text>
<text x="1608.23" y="1328.75" font-size="36.7" textLength="142.16" lengthAdjust="spacingAndGlyphs">= 1.0 nm</text>
<text x="5.79" y="1923.45" font-size="33.9" textLength="44.77" lengthAdjust="spacingAndGlyphs">0.8</text>
<text x="32.29" y="2386.7" font-size="33.9" textLength="17.91" lengthAdjust="spacingAndGlyphs">0</text>
<text x="62.64" y="2414.45" font-size="33.9" textLength="17.91" lengthAdjust="spacingAndGlyphs">0</text>
<text x="348.38" y="2414.45" font-size="33.9" textLength="22.22" lengthAdjust="spacingAndGlyphs">π</text>
<text x="620.33" y="2415.3" font-size="33.9" textLength="40.13" lengthAdjust="spacingAndGlyphs">2π</text>
<text x="167.72" y="2417.8" font-size="36.9" textLength="98.38" lengthAdjust="spacingAndGlyphs">phase</text>
<text x="34.53" y="2324.33" font-size="35.51" textLength="365.9" lengthAdjust="spacingAndGlyphs" transform="rotate(-90 34.53 2324.33)">closed state probability</text>
<text x="120.03" y="1912" font-size="36.7" textLength="175.51" lengthAdjust="spacingAndGlyphs"><tspan font-style="italic">f</tspan> = 0.03 Hz</text>
<text x="120.03" y="1948.85" font-size="36.7" textLength="155.51" lengthAdjust="spacingAndGlyphs"><tspan font-style="italic">f</tspan> = 0.1 Hz</text>
<text x="120.03" y="1985.7" font-size="36.7" textLength="155.51" lengthAdjust="spacingAndGlyphs"><tspan font-style="italic">f</tspan> = 0.3 Hz</text>
<text x="120.03" y="2022.55" font-size="36.7" textLength="125.52" lengthAdjust="spacingAndGlyphs"><tspan font-style="italic">f</tspan> = 1 Hz</text>
<text x="757.5" y="1878.45" font-size="33.9" textLength="17.91" lengthAdjust="spacingAndGlyphs">1</text>
<text x="759.54" y="2388" font-size="33.9" textLength="17.91" lengthAdjust="spacingAndGlyphs">0</text>
<text x="789.04" y="2414.5" font-size="33.9" textLength="17.91" lengthAdjust="spacingAndGlyphs">0</text>
<text x="1075.18" y="2414.5" font-size="33.9" textLength="22.22" lengthAdjust="spacingAndGlyphs">π</text>
<text x="1346.13" y="2414.5" font-size="33.9" textLength="40.13" lengthAdjust="spacingAndGlyphs">2π</text>
<text x="885.67" y="2417.8" font-size="36.9" textLength="98.54" lengthAdjust="spacingAndGlyphs">phase</text>
<text x="760.31" y="2324.33" font-size="36.58" textLength="365.9" lengthAdjust="spacingAndGlyphs" transform="rotate(-90 760.31 2324.33)">closed state probability</text>
<text x="838.46" y="1902.5" font-size="36.7" textLength="300.22" lengthAdjust="spacingAndGlyphs">aerolysin wt model</text>
<text x="837.6" y="1940" font-size="36.7" textLength="229.25" lengthAdjust="spacingAndGlyphs">negative gater</text>
<text x="837.67" y="1977" font-size="36.7" textLength="215.44" lengthAdjust="spacingAndGlyphs">positive gater</text>
<text x="838.48" y="2013.75" font-size="36.7" textLength="200.87" lengthAdjust="spacingAndGlyphs">double gater</text>
<text x="1480.6" y="1878.45" font-size="33.9" textLength="17.91" lengthAdjust="spacingAndGlyphs">1</text>
<text x="1484.04" y="2385.6" font-size="33.9" textLength="17.91" lengthAdjust="spacingAndGlyphs">0</text>
<text x="1514.04" y="2414.7" font-size="33.9" textLength="17.91" lengthAdjust="spacingAndGlyphs">0</text>
<text x="1800.88" y="2414.7" font-size="33.9" textLength="22.22" lengthAdjust="spacingAndGlyphs">π</text>
<text x="2072.43" y="2414.7" font-size="33.9" textLength="40.13" lengthAdjust="spacingAndGlyphs">2π</text>
<text x="1614.47" y="2417.8" font-size="36.9" textLength="98.33" lengthAdjust="spacingAndGlyphs">phase</text>
<text x="1486.43" y="2325.33" font-size="35.51" textLength="366.9" lengthAdjust="spacingAndGlyphs" transform="rotate(-90 1486.43 2325.33)">closed state probability</text>
<text x="1571.78" y="1910.5" font-size="36.7" textLength="332.82" lengthAdjust="spacingAndGlyphs"><tspan font-style="italic">f</tspan> = 0.1 Hz, <tspan font-style="italic">T</tspan> = 300 K</text>
<text x="1571.79" y="1947.5" font-size="36.7" textLength="301.71" lengthAdjust="spacingAndGlyphs"><tspan font-style="italic">f</tspan> = 1 Hz, <tspan font-style="italic">T</tspan> = 300 K</text>
<text x="1571.78" y="1984.5" font-size="36.7" textLength="332.82" lengthAdjust="spacingAndGlyphs"><tspan font-style="italic">f</tspan> = 0.1 Hz, <tspan font-style="italic">T</tspan> = 330 K</text>
<text x="1571.79" y="2021.25" font-size="36.7" textLength="301.71" lengthAdjust="spacingAndGlyphs"><tspan font-style="italic">f</tspan> = 1 Hz, <tspan font-style="italic">T</tspan> = 330 K</text>
</svg>
</body></html>
